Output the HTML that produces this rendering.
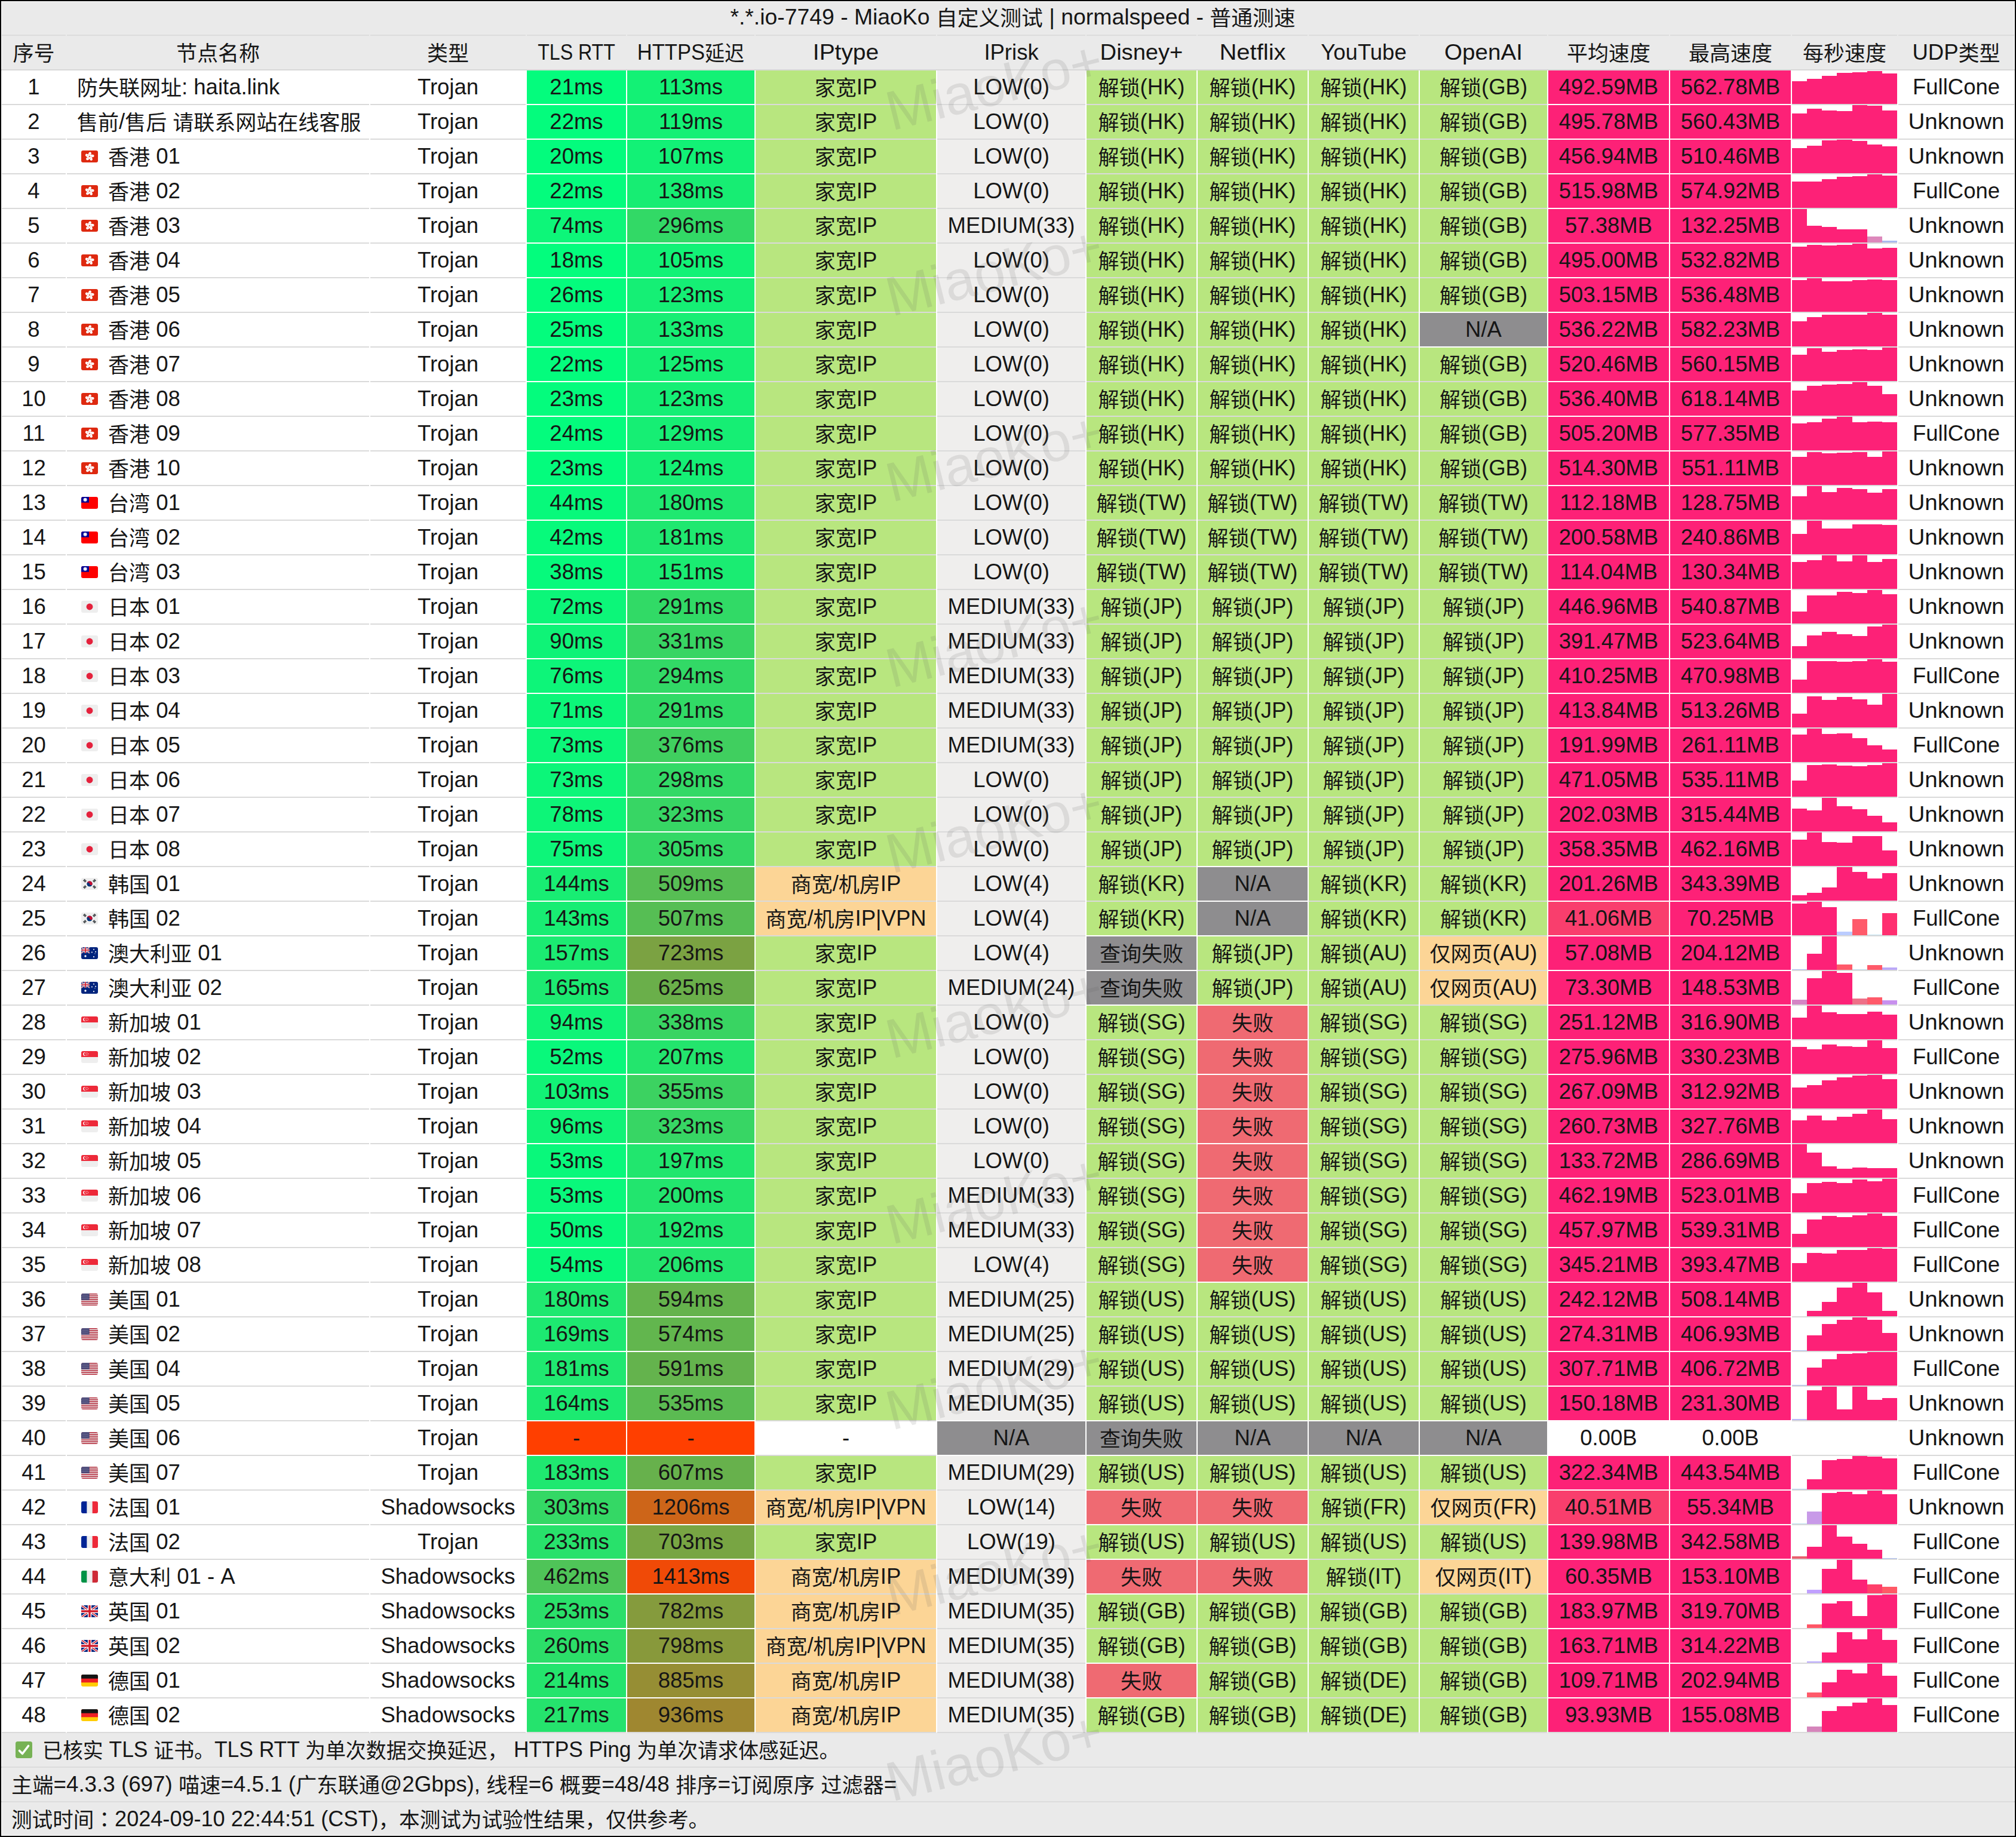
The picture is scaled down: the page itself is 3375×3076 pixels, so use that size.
<!DOCTYPE html>
<html><head><meta charset="utf-8"><title>MiaoKo</title>
<style>
html,body{margin:0;padding:0;}
body{width:3375px;height:3076px;position:relative;overflow:hidden;background:#000;}
#pg{position:absolute;left:2px;top:2px;width:3371px;height:3072px;background:#fff;}
.b,.t,.fl,.ck,.wm{position:absolute;}
.t{height:58px;line-height:58px;font-family:"Liberation Sans","Noto Sans CJK SC",sans-serif;font-size:36.5px;color:#161616;text-align:center;white-space:nowrap;}
.t.l{text-align:left;}
.t i{font-style:normal;font-family:"Noto Sans CJK SC","Liberation Sans",sans-serif;font-size:35px;line-height:1;position:relative;top:1.5px;}
.t i.j{font-family:"Noto Sans CJK JP","Noto Sans CJK SC",sans-serif;}
.fl{width:28px;height:20px;border-radius:3px;overflow:hidden;line-height:0;}
.ck{width:28px;height:28px;line-height:0;}
.wm{font-family:"Liberation Sans",sans-serif;font-size:93px;line-height:93px;height:93px;color:rgba(90,90,90,0.135);white-space:nowrap;transform-origin:0 78.7px;transform:rotate(-14deg);}
</style></head><body><div id="pg"></div>
<div class="b" style="left:2px;top:2px;width:3371px;height:115px;background:#EAEAEA"></div>
<div class="b" style="left:2px;top:2901px;width:3371px;height:173px;background:#EAEAEA"></div>
<div class="b" style="left:2px;top:2px;width:3371px;height:1px;background:#FFFFFF"></div>
<div class="b" style="left:2px;top:2px;width:1px;height:3072px;background:#FFFFFF"></div>
<div class="b" style="left:3372px;top:2px;width:1px;height:3072px;background:#FFFFFF"></div>
<div class="b" style="left:2px;top:3073px;width:3371px;height:1px;background:#FFFFFF"></div>
<div class="b" style="left:3px;top:58px;width:107px;height:2px;background:#DCDCDC"></div>
<div class="b" style="left:112px;top:58px;width:506px;height:2px;background:#DCDCDC"></div>
<div class="b" style="left:620px;top:58px;width:260px;height:2px;background:#DCDCDC"></div>
<div class="b" style="left:882px;top:58px;width:166px;height:2px;background:#DCDCDC"></div>
<div class="b" style="left:1050px;top:58px;width:213px;height:2px;background:#DCDCDC"></div>
<div class="b" style="left:1265px;top:58px;width:302px;height:2px;background:#DCDCDC"></div>
<div class="b" style="left:1569px;top:58px;width:248px;height:2px;background:#DCDCDC"></div>
<div class="b" style="left:1819px;top:58px;width:184px;height:2px;background:#DCDCDC"></div>
<div class="b" style="left:2005px;top:58px;width:184px;height:2px;background:#DCDCDC"></div>
<div class="b" style="left:2191px;top:58px;width:184px;height:2px;background:#DCDCDC"></div>
<div class="b" style="left:2377px;top:58px;width:213px;height:2px;background:#DCDCDC"></div>
<div class="b" style="left:2592px;top:58px;width:202px;height:2px;background:#DCDCDC"></div>
<div class="b" style="left:2796px;top:58px;width:202px;height:2px;background:#DCDCDC"></div>
<div class="b" style="left:3000px;top:58px;width:176px;height:2px;background:#DCDCDC"></div>
<div class="b" style="left:3178px;top:58px;width:194px;height:2px;background:#DCDCDC"></div>
<div class="b" style="left:2px;top:116px;width:3371px;height:2px;background:#D8D8D8"></div>
<div class="b" style="left:3px;top:174px;width:107px;height:2px;background:#DADADA"></div>
<div class="b" style="left:112px;top:174px;width:506px;height:2px;background:#DADADA"></div>
<div class="b" style="left:620px;top:174px;width:260px;height:2px;background:#DADADA"></div>
<div class="b" style="left:882px;top:174px;width:166px;height:2px;background:#DADADA"></div>
<div class="b" style="left:1050px;top:174px;width:213px;height:2px;background:#DADADA"></div>
<div class="b" style="left:1265px;top:174px;width:302px;height:2px;background:#DADADA"></div>
<div class="b" style="left:1569px;top:174px;width:248px;height:2px;background:#DADADA"></div>
<div class="b" style="left:1819px;top:174px;width:184px;height:2px;background:#DADADA"></div>
<div class="b" style="left:2005px;top:174px;width:184px;height:2px;background:#DADADA"></div>
<div class="b" style="left:2191px;top:174px;width:184px;height:2px;background:#DADADA"></div>
<div class="b" style="left:2377px;top:174px;width:213px;height:2px;background:#DADADA"></div>
<div class="b" style="left:2592px;top:174px;width:202px;height:2px;background:#DADADA"></div>
<div class="b" style="left:2796px;top:174px;width:202px;height:2px;background:#DADADA"></div>
<div class="b" style="left:3000px;top:174px;width:176px;height:2px;background:#DADADA"></div>
<div class="b" style="left:3178px;top:174px;width:194px;height:2px;background:#DADADA"></div>
<div class="b" style="left:3px;top:232px;width:107px;height:2px;background:#DADADA"></div>
<div class="b" style="left:112px;top:232px;width:506px;height:2px;background:#DADADA"></div>
<div class="b" style="left:620px;top:232px;width:260px;height:2px;background:#DADADA"></div>
<div class="b" style="left:882px;top:232px;width:166px;height:2px;background:#DADADA"></div>
<div class="b" style="left:1050px;top:232px;width:213px;height:2px;background:#DADADA"></div>
<div class="b" style="left:1265px;top:232px;width:302px;height:2px;background:#DADADA"></div>
<div class="b" style="left:1569px;top:232px;width:248px;height:2px;background:#DADADA"></div>
<div class="b" style="left:1819px;top:232px;width:184px;height:2px;background:#DADADA"></div>
<div class="b" style="left:2005px;top:232px;width:184px;height:2px;background:#DADADA"></div>
<div class="b" style="left:2191px;top:232px;width:184px;height:2px;background:#DADADA"></div>
<div class="b" style="left:2377px;top:232px;width:213px;height:2px;background:#DADADA"></div>
<div class="b" style="left:2592px;top:232px;width:202px;height:2px;background:#DADADA"></div>
<div class="b" style="left:2796px;top:232px;width:202px;height:2px;background:#DADADA"></div>
<div class="b" style="left:3000px;top:232px;width:176px;height:2px;background:#DADADA"></div>
<div class="b" style="left:3178px;top:232px;width:194px;height:2px;background:#DADADA"></div>
<div class="b" style="left:3px;top:290px;width:107px;height:2px;background:#DADADA"></div>
<div class="b" style="left:112px;top:290px;width:506px;height:2px;background:#DADADA"></div>
<div class="b" style="left:620px;top:290px;width:260px;height:2px;background:#DADADA"></div>
<div class="b" style="left:882px;top:290px;width:166px;height:2px;background:#DADADA"></div>
<div class="b" style="left:1050px;top:290px;width:213px;height:2px;background:#DADADA"></div>
<div class="b" style="left:1265px;top:290px;width:302px;height:2px;background:#DADADA"></div>
<div class="b" style="left:1569px;top:290px;width:248px;height:2px;background:#DADADA"></div>
<div class="b" style="left:1819px;top:290px;width:184px;height:2px;background:#DADADA"></div>
<div class="b" style="left:2005px;top:290px;width:184px;height:2px;background:#DADADA"></div>
<div class="b" style="left:2191px;top:290px;width:184px;height:2px;background:#DADADA"></div>
<div class="b" style="left:2377px;top:290px;width:213px;height:2px;background:#DADADA"></div>
<div class="b" style="left:2592px;top:290px;width:202px;height:2px;background:#DADADA"></div>
<div class="b" style="left:2796px;top:290px;width:202px;height:2px;background:#DADADA"></div>
<div class="b" style="left:3000px;top:290px;width:176px;height:2px;background:#DADADA"></div>
<div class="b" style="left:3178px;top:290px;width:194px;height:2px;background:#DADADA"></div>
<div class="b" style="left:3px;top:348px;width:107px;height:2px;background:#DADADA"></div>
<div class="b" style="left:112px;top:348px;width:506px;height:2px;background:#DADADA"></div>
<div class="b" style="left:620px;top:348px;width:260px;height:2px;background:#DADADA"></div>
<div class="b" style="left:882px;top:348px;width:166px;height:2px;background:#DADADA"></div>
<div class="b" style="left:1050px;top:348px;width:213px;height:2px;background:#DADADA"></div>
<div class="b" style="left:1265px;top:348px;width:302px;height:2px;background:#DADADA"></div>
<div class="b" style="left:1569px;top:348px;width:248px;height:2px;background:#DADADA"></div>
<div class="b" style="left:1819px;top:348px;width:184px;height:2px;background:#DADADA"></div>
<div class="b" style="left:2005px;top:348px;width:184px;height:2px;background:#DADADA"></div>
<div class="b" style="left:2191px;top:348px;width:184px;height:2px;background:#DADADA"></div>
<div class="b" style="left:2377px;top:348px;width:213px;height:2px;background:#DADADA"></div>
<div class="b" style="left:2592px;top:348px;width:202px;height:2px;background:#DADADA"></div>
<div class="b" style="left:2796px;top:348px;width:202px;height:2px;background:#DADADA"></div>
<div class="b" style="left:3000px;top:348px;width:176px;height:2px;background:#DADADA"></div>
<div class="b" style="left:3178px;top:348px;width:194px;height:2px;background:#DADADA"></div>
<div class="b" style="left:3px;top:406px;width:107px;height:2px;background:#DADADA"></div>
<div class="b" style="left:112px;top:406px;width:506px;height:2px;background:#DADADA"></div>
<div class="b" style="left:620px;top:406px;width:260px;height:2px;background:#DADADA"></div>
<div class="b" style="left:882px;top:406px;width:166px;height:2px;background:#DADADA"></div>
<div class="b" style="left:1050px;top:406px;width:213px;height:2px;background:#DADADA"></div>
<div class="b" style="left:1265px;top:406px;width:302px;height:2px;background:#DADADA"></div>
<div class="b" style="left:1569px;top:406px;width:248px;height:2px;background:#DADADA"></div>
<div class="b" style="left:1819px;top:406px;width:184px;height:2px;background:#DADADA"></div>
<div class="b" style="left:2005px;top:406px;width:184px;height:2px;background:#DADADA"></div>
<div class="b" style="left:2191px;top:406px;width:184px;height:2px;background:#DADADA"></div>
<div class="b" style="left:2377px;top:406px;width:213px;height:2px;background:#DADADA"></div>
<div class="b" style="left:2592px;top:406px;width:202px;height:2px;background:#DADADA"></div>
<div class="b" style="left:2796px;top:406px;width:202px;height:2px;background:#DADADA"></div>
<div class="b" style="left:3000px;top:406px;width:176px;height:2px;background:#DADADA"></div>
<div class="b" style="left:3178px;top:406px;width:194px;height:2px;background:#DADADA"></div>
<div class="b" style="left:3px;top:464px;width:107px;height:2px;background:#DADADA"></div>
<div class="b" style="left:112px;top:464px;width:506px;height:2px;background:#DADADA"></div>
<div class="b" style="left:620px;top:464px;width:260px;height:2px;background:#DADADA"></div>
<div class="b" style="left:882px;top:464px;width:166px;height:2px;background:#DADADA"></div>
<div class="b" style="left:1050px;top:464px;width:213px;height:2px;background:#DADADA"></div>
<div class="b" style="left:1265px;top:464px;width:302px;height:2px;background:#DADADA"></div>
<div class="b" style="left:1569px;top:464px;width:248px;height:2px;background:#DADADA"></div>
<div class="b" style="left:1819px;top:464px;width:184px;height:2px;background:#DADADA"></div>
<div class="b" style="left:2005px;top:464px;width:184px;height:2px;background:#DADADA"></div>
<div class="b" style="left:2191px;top:464px;width:184px;height:2px;background:#DADADA"></div>
<div class="b" style="left:2377px;top:464px;width:213px;height:2px;background:#DADADA"></div>
<div class="b" style="left:2592px;top:464px;width:202px;height:2px;background:#DADADA"></div>
<div class="b" style="left:2796px;top:464px;width:202px;height:2px;background:#DADADA"></div>
<div class="b" style="left:3000px;top:464px;width:176px;height:2px;background:#DADADA"></div>
<div class="b" style="left:3178px;top:464px;width:194px;height:2px;background:#DADADA"></div>
<div class="b" style="left:3px;top:522px;width:107px;height:2px;background:#DADADA"></div>
<div class="b" style="left:112px;top:522px;width:506px;height:2px;background:#DADADA"></div>
<div class="b" style="left:620px;top:522px;width:260px;height:2px;background:#DADADA"></div>
<div class="b" style="left:882px;top:522px;width:166px;height:2px;background:#DADADA"></div>
<div class="b" style="left:1050px;top:522px;width:213px;height:2px;background:#DADADA"></div>
<div class="b" style="left:1265px;top:522px;width:302px;height:2px;background:#DADADA"></div>
<div class="b" style="left:1569px;top:522px;width:248px;height:2px;background:#DADADA"></div>
<div class="b" style="left:1819px;top:522px;width:184px;height:2px;background:#DADADA"></div>
<div class="b" style="left:2005px;top:522px;width:184px;height:2px;background:#DADADA"></div>
<div class="b" style="left:2191px;top:522px;width:184px;height:2px;background:#DADADA"></div>
<div class="b" style="left:2377px;top:522px;width:213px;height:2px;background:#DADADA"></div>
<div class="b" style="left:2592px;top:522px;width:202px;height:2px;background:#DADADA"></div>
<div class="b" style="left:2796px;top:522px;width:202px;height:2px;background:#DADADA"></div>
<div class="b" style="left:3000px;top:522px;width:176px;height:2px;background:#DADADA"></div>
<div class="b" style="left:3178px;top:522px;width:194px;height:2px;background:#DADADA"></div>
<div class="b" style="left:3px;top:580px;width:107px;height:2px;background:#DADADA"></div>
<div class="b" style="left:112px;top:580px;width:506px;height:2px;background:#DADADA"></div>
<div class="b" style="left:620px;top:580px;width:260px;height:2px;background:#DADADA"></div>
<div class="b" style="left:882px;top:580px;width:166px;height:2px;background:#DADADA"></div>
<div class="b" style="left:1050px;top:580px;width:213px;height:2px;background:#DADADA"></div>
<div class="b" style="left:1265px;top:580px;width:302px;height:2px;background:#DADADA"></div>
<div class="b" style="left:1569px;top:580px;width:248px;height:2px;background:#DADADA"></div>
<div class="b" style="left:1819px;top:580px;width:184px;height:2px;background:#DADADA"></div>
<div class="b" style="left:2005px;top:580px;width:184px;height:2px;background:#DADADA"></div>
<div class="b" style="left:2191px;top:580px;width:184px;height:2px;background:#DADADA"></div>
<div class="b" style="left:2377px;top:580px;width:213px;height:2px;background:#DADADA"></div>
<div class="b" style="left:2592px;top:580px;width:202px;height:2px;background:#DADADA"></div>
<div class="b" style="left:2796px;top:580px;width:202px;height:2px;background:#DADADA"></div>
<div class="b" style="left:3000px;top:580px;width:176px;height:2px;background:#DADADA"></div>
<div class="b" style="left:3178px;top:580px;width:194px;height:2px;background:#DADADA"></div>
<div class="b" style="left:3px;top:638px;width:107px;height:2px;background:#DADADA"></div>
<div class="b" style="left:112px;top:638px;width:506px;height:2px;background:#DADADA"></div>
<div class="b" style="left:620px;top:638px;width:260px;height:2px;background:#DADADA"></div>
<div class="b" style="left:882px;top:638px;width:166px;height:2px;background:#DADADA"></div>
<div class="b" style="left:1050px;top:638px;width:213px;height:2px;background:#DADADA"></div>
<div class="b" style="left:1265px;top:638px;width:302px;height:2px;background:#DADADA"></div>
<div class="b" style="left:1569px;top:638px;width:248px;height:2px;background:#DADADA"></div>
<div class="b" style="left:1819px;top:638px;width:184px;height:2px;background:#DADADA"></div>
<div class="b" style="left:2005px;top:638px;width:184px;height:2px;background:#DADADA"></div>
<div class="b" style="left:2191px;top:638px;width:184px;height:2px;background:#DADADA"></div>
<div class="b" style="left:2377px;top:638px;width:213px;height:2px;background:#DADADA"></div>
<div class="b" style="left:2592px;top:638px;width:202px;height:2px;background:#DADADA"></div>
<div class="b" style="left:2796px;top:638px;width:202px;height:2px;background:#DADADA"></div>
<div class="b" style="left:3000px;top:638px;width:176px;height:2px;background:#DADADA"></div>
<div class="b" style="left:3178px;top:638px;width:194px;height:2px;background:#DADADA"></div>
<div class="b" style="left:3px;top:696px;width:107px;height:2px;background:#DADADA"></div>
<div class="b" style="left:112px;top:696px;width:506px;height:2px;background:#DADADA"></div>
<div class="b" style="left:620px;top:696px;width:260px;height:2px;background:#DADADA"></div>
<div class="b" style="left:882px;top:696px;width:166px;height:2px;background:#DADADA"></div>
<div class="b" style="left:1050px;top:696px;width:213px;height:2px;background:#DADADA"></div>
<div class="b" style="left:1265px;top:696px;width:302px;height:2px;background:#DADADA"></div>
<div class="b" style="left:1569px;top:696px;width:248px;height:2px;background:#DADADA"></div>
<div class="b" style="left:1819px;top:696px;width:184px;height:2px;background:#DADADA"></div>
<div class="b" style="left:2005px;top:696px;width:184px;height:2px;background:#DADADA"></div>
<div class="b" style="left:2191px;top:696px;width:184px;height:2px;background:#DADADA"></div>
<div class="b" style="left:2377px;top:696px;width:213px;height:2px;background:#DADADA"></div>
<div class="b" style="left:2592px;top:696px;width:202px;height:2px;background:#DADADA"></div>
<div class="b" style="left:2796px;top:696px;width:202px;height:2px;background:#DADADA"></div>
<div class="b" style="left:3000px;top:696px;width:176px;height:2px;background:#DADADA"></div>
<div class="b" style="left:3178px;top:696px;width:194px;height:2px;background:#DADADA"></div>
<div class="b" style="left:3px;top:754px;width:107px;height:2px;background:#DADADA"></div>
<div class="b" style="left:112px;top:754px;width:506px;height:2px;background:#DADADA"></div>
<div class="b" style="left:620px;top:754px;width:260px;height:2px;background:#DADADA"></div>
<div class="b" style="left:882px;top:754px;width:166px;height:2px;background:#DADADA"></div>
<div class="b" style="left:1050px;top:754px;width:213px;height:2px;background:#DADADA"></div>
<div class="b" style="left:1265px;top:754px;width:302px;height:2px;background:#DADADA"></div>
<div class="b" style="left:1569px;top:754px;width:248px;height:2px;background:#DADADA"></div>
<div class="b" style="left:1819px;top:754px;width:184px;height:2px;background:#DADADA"></div>
<div class="b" style="left:2005px;top:754px;width:184px;height:2px;background:#DADADA"></div>
<div class="b" style="left:2191px;top:754px;width:184px;height:2px;background:#DADADA"></div>
<div class="b" style="left:2377px;top:754px;width:213px;height:2px;background:#DADADA"></div>
<div class="b" style="left:2592px;top:754px;width:202px;height:2px;background:#DADADA"></div>
<div class="b" style="left:2796px;top:754px;width:202px;height:2px;background:#DADADA"></div>
<div class="b" style="left:3000px;top:754px;width:176px;height:2px;background:#DADADA"></div>
<div class="b" style="left:3178px;top:754px;width:194px;height:2px;background:#DADADA"></div>
<div class="b" style="left:3px;top:812px;width:107px;height:2px;background:#DADADA"></div>
<div class="b" style="left:112px;top:812px;width:506px;height:2px;background:#DADADA"></div>
<div class="b" style="left:620px;top:812px;width:260px;height:2px;background:#DADADA"></div>
<div class="b" style="left:882px;top:812px;width:166px;height:2px;background:#DADADA"></div>
<div class="b" style="left:1050px;top:812px;width:213px;height:2px;background:#DADADA"></div>
<div class="b" style="left:1265px;top:812px;width:302px;height:2px;background:#DADADA"></div>
<div class="b" style="left:1569px;top:812px;width:248px;height:2px;background:#DADADA"></div>
<div class="b" style="left:1819px;top:812px;width:184px;height:2px;background:#DADADA"></div>
<div class="b" style="left:2005px;top:812px;width:184px;height:2px;background:#DADADA"></div>
<div class="b" style="left:2191px;top:812px;width:184px;height:2px;background:#DADADA"></div>
<div class="b" style="left:2377px;top:812px;width:213px;height:2px;background:#DADADA"></div>
<div class="b" style="left:2592px;top:812px;width:202px;height:2px;background:#DADADA"></div>
<div class="b" style="left:2796px;top:812px;width:202px;height:2px;background:#DADADA"></div>
<div class="b" style="left:3000px;top:812px;width:176px;height:2px;background:#DADADA"></div>
<div class="b" style="left:3178px;top:812px;width:194px;height:2px;background:#DADADA"></div>
<div class="b" style="left:3px;top:870px;width:107px;height:2px;background:#DADADA"></div>
<div class="b" style="left:112px;top:870px;width:506px;height:2px;background:#DADADA"></div>
<div class="b" style="left:620px;top:870px;width:260px;height:2px;background:#DADADA"></div>
<div class="b" style="left:882px;top:870px;width:166px;height:2px;background:#DADADA"></div>
<div class="b" style="left:1050px;top:870px;width:213px;height:2px;background:#DADADA"></div>
<div class="b" style="left:1265px;top:870px;width:302px;height:2px;background:#DADADA"></div>
<div class="b" style="left:1569px;top:870px;width:248px;height:2px;background:#DADADA"></div>
<div class="b" style="left:1819px;top:870px;width:184px;height:2px;background:#DADADA"></div>
<div class="b" style="left:2005px;top:870px;width:184px;height:2px;background:#DADADA"></div>
<div class="b" style="left:2191px;top:870px;width:184px;height:2px;background:#DADADA"></div>
<div class="b" style="left:2377px;top:870px;width:213px;height:2px;background:#DADADA"></div>
<div class="b" style="left:2592px;top:870px;width:202px;height:2px;background:#DADADA"></div>
<div class="b" style="left:2796px;top:870px;width:202px;height:2px;background:#DADADA"></div>
<div class="b" style="left:3000px;top:870px;width:176px;height:2px;background:#DADADA"></div>
<div class="b" style="left:3178px;top:870px;width:194px;height:2px;background:#DADADA"></div>
<div class="b" style="left:3px;top:928px;width:107px;height:2px;background:#DADADA"></div>
<div class="b" style="left:112px;top:928px;width:506px;height:2px;background:#DADADA"></div>
<div class="b" style="left:620px;top:928px;width:260px;height:2px;background:#DADADA"></div>
<div class="b" style="left:882px;top:928px;width:166px;height:2px;background:#DADADA"></div>
<div class="b" style="left:1050px;top:928px;width:213px;height:2px;background:#DADADA"></div>
<div class="b" style="left:1265px;top:928px;width:302px;height:2px;background:#DADADA"></div>
<div class="b" style="left:1569px;top:928px;width:248px;height:2px;background:#DADADA"></div>
<div class="b" style="left:1819px;top:928px;width:184px;height:2px;background:#DADADA"></div>
<div class="b" style="left:2005px;top:928px;width:184px;height:2px;background:#DADADA"></div>
<div class="b" style="left:2191px;top:928px;width:184px;height:2px;background:#DADADA"></div>
<div class="b" style="left:2377px;top:928px;width:213px;height:2px;background:#DADADA"></div>
<div class="b" style="left:2592px;top:928px;width:202px;height:2px;background:#DADADA"></div>
<div class="b" style="left:2796px;top:928px;width:202px;height:2px;background:#DADADA"></div>
<div class="b" style="left:3000px;top:928px;width:176px;height:2px;background:#DADADA"></div>
<div class="b" style="left:3178px;top:928px;width:194px;height:2px;background:#DADADA"></div>
<div class="b" style="left:3px;top:986px;width:107px;height:2px;background:#DADADA"></div>
<div class="b" style="left:112px;top:986px;width:506px;height:2px;background:#DADADA"></div>
<div class="b" style="left:620px;top:986px;width:260px;height:2px;background:#DADADA"></div>
<div class="b" style="left:882px;top:986px;width:166px;height:2px;background:#DADADA"></div>
<div class="b" style="left:1050px;top:986px;width:213px;height:2px;background:#DADADA"></div>
<div class="b" style="left:1265px;top:986px;width:302px;height:2px;background:#DADADA"></div>
<div class="b" style="left:1569px;top:986px;width:248px;height:2px;background:#DADADA"></div>
<div class="b" style="left:1819px;top:986px;width:184px;height:2px;background:#DADADA"></div>
<div class="b" style="left:2005px;top:986px;width:184px;height:2px;background:#DADADA"></div>
<div class="b" style="left:2191px;top:986px;width:184px;height:2px;background:#DADADA"></div>
<div class="b" style="left:2377px;top:986px;width:213px;height:2px;background:#DADADA"></div>
<div class="b" style="left:2592px;top:986px;width:202px;height:2px;background:#DADADA"></div>
<div class="b" style="left:2796px;top:986px;width:202px;height:2px;background:#DADADA"></div>
<div class="b" style="left:3000px;top:986px;width:176px;height:2px;background:#DADADA"></div>
<div class="b" style="left:3178px;top:986px;width:194px;height:2px;background:#DADADA"></div>
<div class="b" style="left:3px;top:1044px;width:107px;height:2px;background:#DADADA"></div>
<div class="b" style="left:112px;top:1044px;width:506px;height:2px;background:#DADADA"></div>
<div class="b" style="left:620px;top:1044px;width:260px;height:2px;background:#DADADA"></div>
<div class="b" style="left:882px;top:1044px;width:166px;height:2px;background:#DADADA"></div>
<div class="b" style="left:1050px;top:1044px;width:213px;height:2px;background:#DADADA"></div>
<div class="b" style="left:1265px;top:1044px;width:302px;height:2px;background:#DADADA"></div>
<div class="b" style="left:1569px;top:1044px;width:248px;height:2px;background:#DADADA"></div>
<div class="b" style="left:1819px;top:1044px;width:184px;height:2px;background:#DADADA"></div>
<div class="b" style="left:2005px;top:1044px;width:184px;height:2px;background:#DADADA"></div>
<div class="b" style="left:2191px;top:1044px;width:184px;height:2px;background:#DADADA"></div>
<div class="b" style="left:2377px;top:1044px;width:213px;height:2px;background:#DADADA"></div>
<div class="b" style="left:2592px;top:1044px;width:202px;height:2px;background:#DADADA"></div>
<div class="b" style="left:2796px;top:1044px;width:202px;height:2px;background:#DADADA"></div>
<div class="b" style="left:3000px;top:1044px;width:176px;height:2px;background:#DADADA"></div>
<div class="b" style="left:3178px;top:1044px;width:194px;height:2px;background:#DADADA"></div>
<div class="b" style="left:3px;top:1102px;width:107px;height:2px;background:#DADADA"></div>
<div class="b" style="left:112px;top:1102px;width:506px;height:2px;background:#DADADA"></div>
<div class="b" style="left:620px;top:1102px;width:260px;height:2px;background:#DADADA"></div>
<div class="b" style="left:882px;top:1102px;width:166px;height:2px;background:#DADADA"></div>
<div class="b" style="left:1050px;top:1102px;width:213px;height:2px;background:#DADADA"></div>
<div class="b" style="left:1265px;top:1102px;width:302px;height:2px;background:#DADADA"></div>
<div class="b" style="left:1569px;top:1102px;width:248px;height:2px;background:#DADADA"></div>
<div class="b" style="left:1819px;top:1102px;width:184px;height:2px;background:#DADADA"></div>
<div class="b" style="left:2005px;top:1102px;width:184px;height:2px;background:#DADADA"></div>
<div class="b" style="left:2191px;top:1102px;width:184px;height:2px;background:#DADADA"></div>
<div class="b" style="left:2377px;top:1102px;width:213px;height:2px;background:#DADADA"></div>
<div class="b" style="left:2592px;top:1102px;width:202px;height:2px;background:#DADADA"></div>
<div class="b" style="left:2796px;top:1102px;width:202px;height:2px;background:#DADADA"></div>
<div class="b" style="left:3000px;top:1102px;width:176px;height:2px;background:#DADADA"></div>
<div class="b" style="left:3178px;top:1102px;width:194px;height:2px;background:#DADADA"></div>
<div class="b" style="left:3px;top:1160px;width:107px;height:2px;background:#DADADA"></div>
<div class="b" style="left:112px;top:1160px;width:506px;height:2px;background:#DADADA"></div>
<div class="b" style="left:620px;top:1160px;width:260px;height:2px;background:#DADADA"></div>
<div class="b" style="left:882px;top:1160px;width:166px;height:2px;background:#DADADA"></div>
<div class="b" style="left:1050px;top:1160px;width:213px;height:2px;background:#DADADA"></div>
<div class="b" style="left:1265px;top:1160px;width:302px;height:2px;background:#DADADA"></div>
<div class="b" style="left:1569px;top:1160px;width:248px;height:2px;background:#DADADA"></div>
<div class="b" style="left:1819px;top:1160px;width:184px;height:2px;background:#DADADA"></div>
<div class="b" style="left:2005px;top:1160px;width:184px;height:2px;background:#DADADA"></div>
<div class="b" style="left:2191px;top:1160px;width:184px;height:2px;background:#DADADA"></div>
<div class="b" style="left:2377px;top:1160px;width:213px;height:2px;background:#DADADA"></div>
<div class="b" style="left:2592px;top:1160px;width:202px;height:2px;background:#DADADA"></div>
<div class="b" style="left:2796px;top:1160px;width:202px;height:2px;background:#DADADA"></div>
<div class="b" style="left:3000px;top:1160px;width:176px;height:2px;background:#DADADA"></div>
<div class="b" style="left:3178px;top:1160px;width:194px;height:2px;background:#DADADA"></div>
<div class="b" style="left:3px;top:1218px;width:107px;height:2px;background:#DADADA"></div>
<div class="b" style="left:112px;top:1218px;width:506px;height:2px;background:#DADADA"></div>
<div class="b" style="left:620px;top:1218px;width:260px;height:2px;background:#DADADA"></div>
<div class="b" style="left:882px;top:1218px;width:166px;height:2px;background:#DADADA"></div>
<div class="b" style="left:1050px;top:1218px;width:213px;height:2px;background:#DADADA"></div>
<div class="b" style="left:1265px;top:1218px;width:302px;height:2px;background:#DADADA"></div>
<div class="b" style="left:1569px;top:1218px;width:248px;height:2px;background:#DADADA"></div>
<div class="b" style="left:1819px;top:1218px;width:184px;height:2px;background:#DADADA"></div>
<div class="b" style="left:2005px;top:1218px;width:184px;height:2px;background:#DADADA"></div>
<div class="b" style="left:2191px;top:1218px;width:184px;height:2px;background:#DADADA"></div>
<div class="b" style="left:2377px;top:1218px;width:213px;height:2px;background:#DADADA"></div>
<div class="b" style="left:2592px;top:1218px;width:202px;height:2px;background:#DADADA"></div>
<div class="b" style="left:2796px;top:1218px;width:202px;height:2px;background:#DADADA"></div>
<div class="b" style="left:3000px;top:1218px;width:176px;height:2px;background:#DADADA"></div>
<div class="b" style="left:3178px;top:1218px;width:194px;height:2px;background:#DADADA"></div>
<div class="b" style="left:3px;top:1276px;width:107px;height:2px;background:#DADADA"></div>
<div class="b" style="left:112px;top:1276px;width:506px;height:2px;background:#DADADA"></div>
<div class="b" style="left:620px;top:1276px;width:260px;height:2px;background:#DADADA"></div>
<div class="b" style="left:882px;top:1276px;width:166px;height:2px;background:#DADADA"></div>
<div class="b" style="left:1050px;top:1276px;width:213px;height:2px;background:#DADADA"></div>
<div class="b" style="left:1265px;top:1276px;width:302px;height:2px;background:#DADADA"></div>
<div class="b" style="left:1569px;top:1276px;width:248px;height:2px;background:#DADADA"></div>
<div class="b" style="left:1819px;top:1276px;width:184px;height:2px;background:#DADADA"></div>
<div class="b" style="left:2005px;top:1276px;width:184px;height:2px;background:#DADADA"></div>
<div class="b" style="left:2191px;top:1276px;width:184px;height:2px;background:#DADADA"></div>
<div class="b" style="left:2377px;top:1276px;width:213px;height:2px;background:#DADADA"></div>
<div class="b" style="left:2592px;top:1276px;width:202px;height:2px;background:#DADADA"></div>
<div class="b" style="left:2796px;top:1276px;width:202px;height:2px;background:#DADADA"></div>
<div class="b" style="left:3000px;top:1276px;width:176px;height:2px;background:#DADADA"></div>
<div class="b" style="left:3178px;top:1276px;width:194px;height:2px;background:#DADADA"></div>
<div class="b" style="left:3px;top:1334px;width:107px;height:2px;background:#DADADA"></div>
<div class="b" style="left:112px;top:1334px;width:506px;height:2px;background:#DADADA"></div>
<div class="b" style="left:620px;top:1334px;width:260px;height:2px;background:#DADADA"></div>
<div class="b" style="left:882px;top:1334px;width:166px;height:2px;background:#DADADA"></div>
<div class="b" style="left:1050px;top:1334px;width:213px;height:2px;background:#DADADA"></div>
<div class="b" style="left:1265px;top:1334px;width:302px;height:2px;background:#DADADA"></div>
<div class="b" style="left:1569px;top:1334px;width:248px;height:2px;background:#DADADA"></div>
<div class="b" style="left:1819px;top:1334px;width:184px;height:2px;background:#DADADA"></div>
<div class="b" style="left:2005px;top:1334px;width:184px;height:2px;background:#DADADA"></div>
<div class="b" style="left:2191px;top:1334px;width:184px;height:2px;background:#DADADA"></div>
<div class="b" style="left:2377px;top:1334px;width:213px;height:2px;background:#DADADA"></div>
<div class="b" style="left:2592px;top:1334px;width:202px;height:2px;background:#DADADA"></div>
<div class="b" style="left:2796px;top:1334px;width:202px;height:2px;background:#DADADA"></div>
<div class="b" style="left:3000px;top:1334px;width:176px;height:2px;background:#DADADA"></div>
<div class="b" style="left:3178px;top:1334px;width:194px;height:2px;background:#DADADA"></div>
<div class="b" style="left:3px;top:1392px;width:107px;height:2px;background:#DADADA"></div>
<div class="b" style="left:112px;top:1392px;width:506px;height:2px;background:#DADADA"></div>
<div class="b" style="left:620px;top:1392px;width:260px;height:2px;background:#DADADA"></div>
<div class="b" style="left:882px;top:1392px;width:166px;height:2px;background:#DADADA"></div>
<div class="b" style="left:1050px;top:1392px;width:213px;height:2px;background:#DADADA"></div>
<div class="b" style="left:1265px;top:1392px;width:302px;height:2px;background:#DADADA"></div>
<div class="b" style="left:1569px;top:1392px;width:248px;height:2px;background:#DADADA"></div>
<div class="b" style="left:1819px;top:1392px;width:184px;height:2px;background:#DADADA"></div>
<div class="b" style="left:2005px;top:1392px;width:184px;height:2px;background:#DADADA"></div>
<div class="b" style="left:2191px;top:1392px;width:184px;height:2px;background:#DADADA"></div>
<div class="b" style="left:2377px;top:1392px;width:213px;height:2px;background:#DADADA"></div>
<div class="b" style="left:2592px;top:1392px;width:202px;height:2px;background:#DADADA"></div>
<div class="b" style="left:2796px;top:1392px;width:202px;height:2px;background:#DADADA"></div>
<div class="b" style="left:3000px;top:1392px;width:176px;height:2px;background:#DADADA"></div>
<div class="b" style="left:3178px;top:1392px;width:194px;height:2px;background:#DADADA"></div>
<div class="b" style="left:3px;top:1450px;width:107px;height:2px;background:#DADADA"></div>
<div class="b" style="left:112px;top:1450px;width:506px;height:2px;background:#DADADA"></div>
<div class="b" style="left:620px;top:1450px;width:260px;height:2px;background:#DADADA"></div>
<div class="b" style="left:882px;top:1450px;width:166px;height:2px;background:#DADADA"></div>
<div class="b" style="left:1050px;top:1450px;width:213px;height:2px;background:#DADADA"></div>
<div class="b" style="left:1265px;top:1450px;width:302px;height:2px;background:#DADADA"></div>
<div class="b" style="left:1569px;top:1450px;width:248px;height:2px;background:#DADADA"></div>
<div class="b" style="left:1819px;top:1450px;width:184px;height:2px;background:#DADADA"></div>
<div class="b" style="left:2005px;top:1450px;width:184px;height:2px;background:#DADADA"></div>
<div class="b" style="left:2191px;top:1450px;width:184px;height:2px;background:#DADADA"></div>
<div class="b" style="left:2377px;top:1450px;width:213px;height:2px;background:#DADADA"></div>
<div class="b" style="left:2592px;top:1450px;width:202px;height:2px;background:#DADADA"></div>
<div class="b" style="left:2796px;top:1450px;width:202px;height:2px;background:#DADADA"></div>
<div class="b" style="left:3000px;top:1450px;width:176px;height:2px;background:#DADADA"></div>
<div class="b" style="left:3178px;top:1450px;width:194px;height:2px;background:#DADADA"></div>
<div class="b" style="left:3px;top:1508px;width:107px;height:2px;background:#DADADA"></div>
<div class="b" style="left:112px;top:1508px;width:506px;height:2px;background:#DADADA"></div>
<div class="b" style="left:620px;top:1508px;width:260px;height:2px;background:#DADADA"></div>
<div class="b" style="left:882px;top:1508px;width:166px;height:2px;background:#DADADA"></div>
<div class="b" style="left:1050px;top:1508px;width:213px;height:2px;background:#DADADA"></div>
<div class="b" style="left:1265px;top:1508px;width:302px;height:2px;background:#DADADA"></div>
<div class="b" style="left:1569px;top:1508px;width:248px;height:2px;background:#DADADA"></div>
<div class="b" style="left:1819px;top:1508px;width:184px;height:2px;background:#DADADA"></div>
<div class="b" style="left:2005px;top:1508px;width:184px;height:2px;background:#DADADA"></div>
<div class="b" style="left:2191px;top:1508px;width:184px;height:2px;background:#DADADA"></div>
<div class="b" style="left:2377px;top:1508px;width:213px;height:2px;background:#DADADA"></div>
<div class="b" style="left:2592px;top:1508px;width:202px;height:2px;background:#DADADA"></div>
<div class="b" style="left:2796px;top:1508px;width:202px;height:2px;background:#DADADA"></div>
<div class="b" style="left:3000px;top:1508px;width:176px;height:2px;background:#DADADA"></div>
<div class="b" style="left:3178px;top:1508px;width:194px;height:2px;background:#DADADA"></div>
<div class="b" style="left:3px;top:1566px;width:107px;height:2px;background:#DADADA"></div>
<div class="b" style="left:112px;top:1566px;width:506px;height:2px;background:#DADADA"></div>
<div class="b" style="left:620px;top:1566px;width:260px;height:2px;background:#DADADA"></div>
<div class="b" style="left:882px;top:1566px;width:166px;height:2px;background:#DADADA"></div>
<div class="b" style="left:1050px;top:1566px;width:213px;height:2px;background:#DADADA"></div>
<div class="b" style="left:1265px;top:1566px;width:302px;height:2px;background:#DADADA"></div>
<div class="b" style="left:1569px;top:1566px;width:248px;height:2px;background:#DADADA"></div>
<div class="b" style="left:1819px;top:1566px;width:184px;height:2px;background:#DADADA"></div>
<div class="b" style="left:2005px;top:1566px;width:184px;height:2px;background:#DADADA"></div>
<div class="b" style="left:2191px;top:1566px;width:184px;height:2px;background:#DADADA"></div>
<div class="b" style="left:2377px;top:1566px;width:213px;height:2px;background:#DADADA"></div>
<div class="b" style="left:2592px;top:1566px;width:202px;height:2px;background:#DADADA"></div>
<div class="b" style="left:2796px;top:1566px;width:202px;height:2px;background:#DADADA"></div>
<div class="b" style="left:3000px;top:1566px;width:176px;height:2px;background:#DADADA"></div>
<div class="b" style="left:3178px;top:1566px;width:194px;height:2px;background:#DADADA"></div>
<div class="b" style="left:3px;top:1624px;width:107px;height:2px;background:#DADADA"></div>
<div class="b" style="left:112px;top:1624px;width:506px;height:2px;background:#DADADA"></div>
<div class="b" style="left:620px;top:1624px;width:260px;height:2px;background:#DADADA"></div>
<div class="b" style="left:882px;top:1624px;width:166px;height:2px;background:#DADADA"></div>
<div class="b" style="left:1050px;top:1624px;width:213px;height:2px;background:#DADADA"></div>
<div class="b" style="left:1265px;top:1624px;width:302px;height:2px;background:#DADADA"></div>
<div class="b" style="left:1569px;top:1624px;width:248px;height:2px;background:#DADADA"></div>
<div class="b" style="left:1819px;top:1624px;width:184px;height:2px;background:#DADADA"></div>
<div class="b" style="left:2005px;top:1624px;width:184px;height:2px;background:#DADADA"></div>
<div class="b" style="left:2191px;top:1624px;width:184px;height:2px;background:#DADADA"></div>
<div class="b" style="left:2377px;top:1624px;width:213px;height:2px;background:#DADADA"></div>
<div class="b" style="left:2592px;top:1624px;width:202px;height:2px;background:#DADADA"></div>
<div class="b" style="left:2796px;top:1624px;width:202px;height:2px;background:#DADADA"></div>
<div class="b" style="left:3000px;top:1624px;width:176px;height:2px;background:#DADADA"></div>
<div class="b" style="left:3178px;top:1624px;width:194px;height:2px;background:#DADADA"></div>
<div class="b" style="left:3px;top:1682px;width:107px;height:2px;background:#DADADA"></div>
<div class="b" style="left:112px;top:1682px;width:506px;height:2px;background:#DADADA"></div>
<div class="b" style="left:620px;top:1682px;width:260px;height:2px;background:#DADADA"></div>
<div class="b" style="left:882px;top:1682px;width:166px;height:2px;background:#DADADA"></div>
<div class="b" style="left:1050px;top:1682px;width:213px;height:2px;background:#DADADA"></div>
<div class="b" style="left:1265px;top:1682px;width:302px;height:2px;background:#DADADA"></div>
<div class="b" style="left:1569px;top:1682px;width:248px;height:2px;background:#DADADA"></div>
<div class="b" style="left:1819px;top:1682px;width:184px;height:2px;background:#DADADA"></div>
<div class="b" style="left:2005px;top:1682px;width:184px;height:2px;background:#DADADA"></div>
<div class="b" style="left:2191px;top:1682px;width:184px;height:2px;background:#DADADA"></div>
<div class="b" style="left:2377px;top:1682px;width:213px;height:2px;background:#DADADA"></div>
<div class="b" style="left:2592px;top:1682px;width:202px;height:2px;background:#DADADA"></div>
<div class="b" style="left:2796px;top:1682px;width:202px;height:2px;background:#DADADA"></div>
<div class="b" style="left:3000px;top:1682px;width:176px;height:2px;background:#DADADA"></div>
<div class="b" style="left:3178px;top:1682px;width:194px;height:2px;background:#DADADA"></div>
<div class="b" style="left:3px;top:1740px;width:107px;height:2px;background:#DADADA"></div>
<div class="b" style="left:112px;top:1740px;width:506px;height:2px;background:#DADADA"></div>
<div class="b" style="left:620px;top:1740px;width:260px;height:2px;background:#DADADA"></div>
<div class="b" style="left:882px;top:1740px;width:166px;height:2px;background:#DADADA"></div>
<div class="b" style="left:1050px;top:1740px;width:213px;height:2px;background:#DADADA"></div>
<div class="b" style="left:1265px;top:1740px;width:302px;height:2px;background:#DADADA"></div>
<div class="b" style="left:1569px;top:1740px;width:248px;height:2px;background:#DADADA"></div>
<div class="b" style="left:1819px;top:1740px;width:184px;height:2px;background:#DADADA"></div>
<div class="b" style="left:2005px;top:1740px;width:184px;height:2px;background:#DADADA"></div>
<div class="b" style="left:2191px;top:1740px;width:184px;height:2px;background:#DADADA"></div>
<div class="b" style="left:2377px;top:1740px;width:213px;height:2px;background:#DADADA"></div>
<div class="b" style="left:2592px;top:1740px;width:202px;height:2px;background:#DADADA"></div>
<div class="b" style="left:2796px;top:1740px;width:202px;height:2px;background:#DADADA"></div>
<div class="b" style="left:3000px;top:1740px;width:176px;height:2px;background:#DADADA"></div>
<div class="b" style="left:3178px;top:1740px;width:194px;height:2px;background:#DADADA"></div>
<div class="b" style="left:3px;top:1798px;width:107px;height:2px;background:#DADADA"></div>
<div class="b" style="left:112px;top:1798px;width:506px;height:2px;background:#DADADA"></div>
<div class="b" style="left:620px;top:1798px;width:260px;height:2px;background:#DADADA"></div>
<div class="b" style="left:882px;top:1798px;width:166px;height:2px;background:#DADADA"></div>
<div class="b" style="left:1050px;top:1798px;width:213px;height:2px;background:#DADADA"></div>
<div class="b" style="left:1265px;top:1798px;width:302px;height:2px;background:#DADADA"></div>
<div class="b" style="left:1569px;top:1798px;width:248px;height:2px;background:#DADADA"></div>
<div class="b" style="left:1819px;top:1798px;width:184px;height:2px;background:#DADADA"></div>
<div class="b" style="left:2005px;top:1798px;width:184px;height:2px;background:#DADADA"></div>
<div class="b" style="left:2191px;top:1798px;width:184px;height:2px;background:#DADADA"></div>
<div class="b" style="left:2377px;top:1798px;width:213px;height:2px;background:#DADADA"></div>
<div class="b" style="left:2592px;top:1798px;width:202px;height:2px;background:#DADADA"></div>
<div class="b" style="left:2796px;top:1798px;width:202px;height:2px;background:#DADADA"></div>
<div class="b" style="left:3000px;top:1798px;width:176px;height:2px;background:#DADADA"></div>
<div class="b" style="left:3178px;top:1798px;width:194px;height:2px;background:#DADADA"></div>
<div class="b" style="left:3px;top:1856px;width:107px;height:2px;background:#DADADA"></div>
<div class="b" style="left:112px;top:1856px;width:506px;height:2px;background:#DADADA"></div>
<div class="b" style="left:620px;top:1856px;width:260px;height:2px;background:#DADADA"></div>
<div class="b" style="left:882px;top:1856px;width:166px;height:2px;background:#DADADA"></div>
<div class="b" style="left:1050px;top:1856px;width:213px;height:2px;background:#DADADA"></div>
<div class="b" style="left:1265px;top:1856px;width:302px;height:2px;background:#DADADA"></div>
<div class="b" style="left:1569px;top:1856px;width:248px;height:2px;background:#DADADA"></div>
<div class="b" style="left:1819px;top:1856px;width:184px;height:2px;background:#DADADA"></div>
<div class="b" style="left:2005px;top:1856px;width:184px;height:2px;background:#DADADA"></div>
<div class="b" style="left:2191px;top:1856px;width:184px;height:2px;background:#DADADA"></div>
<div class="b" style="left:2377px;top:1856px;width:213px;height:2px;background:#DADADA"></div>
<div class="b" style="left:2592px;top:1856px;width:202px;height:2px;background:#DADADA"></div>
<div class="b" style="left:2796px;top:1856px;width:202px;height:2px;background:#DADADA"></div>
<div class="b" style="left:3000px;top:1856px;width:176px;height:2px;background:#DADADA"></div>
<div class="b" style="left:3178px;top:1856px;width:194px;height:2px;background:#DADADA"></div>
<div class="b" style="left:3px;top:1914px;width:107px;height:2px;background:#DADADA"></div>
<div class="b" style="left:112px;top:1914px;width:506px;height:2px;background:#DADADA"></div>
<div class="b" style="left:620px;top:1914px;width:260px;height:2px;background:#DADADA"></div>
<div class="b" style="left:882px;top:1914px;width:166px;height:2px;background:#DADADA"></div>
<div class="b" style="left:1050px;top:1914px;width:213px;height:2px;background:#DADADA"></div>
<div class="b" style="left:1265px;top:1914px;width:302px;height:2px;background:#DADADA"></div>
<div class="b" style="left:1569px;top:1914px;width:248px;height:2px;background:#DADADA"></div>
<div class="b" style="left:1819px;top:1914px;width:184px;height:2px;background:#DADADA"></div>
<div class="b" style="left:2005px;top:1914px;width:184px;height:2px;background:#DADADA"></div>
<div class="b" style="left:2191px;top:1914px;width:184px;height:2px;background:#DADADA"></div>
<div class="b" style="left:2377px;top:1914px;width:213px;height:2px;background:#DADADA"></div>
<div class="b" style="left:2592px;top:1914px;width:202px;height:2px;background:#DADADA"></div>
<div class="b" style="left:2796px;top:1914px;width:202px;height:2px;background:#DADADA"></div>
<div class="b" style="left:3000px;top:1914px;width:176px;height:2px;background:#DADADA"></div>
<div class="b" style="left:3178px;top:1914px;width:194px;height:2px;background:#DADADA"></div>
<div class="b" style="left:3px;top:1972px;width:107px;height:2px;background:#DADADA"></div>
<div class="b" style="left:112px;top:1972px;width:506px;height:2px;background:#DADADA"></div>
<div class="b" style="left:620px;top:1972px;width:260px;height:2px;background:#DADADA"></div>
<div class="b" style="left:882px;top:1972px;width:166px;height:2px;background:#DADADA"></div>
<div class="b" style="left:1050px;top:1972px;width:213px;height:2px;background:#DADADA"></div>
<div class="b" style="left:1265px;top:1972px;width:302px;height:2px;background:#DADADA"></div>
<div class="b" style="left:1569px;top:1972px;width:248px;height:2px;background:#DADADA"></div>
<div class="b" style="left:1819px;top:1972px;width:184px;height:2px;background:#DADADA"></div>
<div class="b" style="left:2005px;top:1972px;width:184px;height:2px;background:#DADADA"></div>
<div class="b" style="left:2191px;top:1972px;width:184px;height:2px;background:#DADADA"></div>
<div class="b" style="left:2377px;top:1972px;width:213px;height:2px;background:#DADADA"></div>
<div class="b" style="left:2592px;top:1972px;width:202px;height:2px;background:#DADADA"></div>
<div class="b" style="left:2796px;top:1972px;width:202px;height:2px;background:#DADADA"></div>
<div class="b" style="left:3000px;top:1972px;width:176px;height:2px;background:#DADADA"></div>
<div class="b" style="left:3178px;top:1972px;width:194px;height:2px;background:#DADADA"></div>
<div class="b" style="left:3px;top:2030px;width:107px;height:2px;background:#DADADA"></div>
<div class="b" style="left:112px;top:2030px;width:506px;height:2px;background:#DADADA"></div>
<div class="b" style="left:620px;top:2030px;width:260px;height:2px;background:#DADADA"></div>
<div class="b" style="left:882px;top:2030px;width:166px;height:2px;background:#DADADA"></div>
<div class="b" style="left:1050px;top:2030px;width:213px;height:2px;background:#DADADA"></div>
<div class="b" style="left:1265px;top:2030px;width:302px;height:2px;background:#DADADA"></div>
<div class="b" style="left:1569px;top:2030px;width:248px;height:2px;background:#DADADA"></div>
<div class="b" style="left:1819px;top:2030px;width:184px;height:2px;background:#DADADA"></div>
<div class="b" style="left:2005px;top:2030px;width:184px;height:2px;background:#DADADA"></div>
<div class="b" style="left:2191px;top:2030px;width:184px;height:2px;background:#DADADA"></div>
<div class="b" style="left:2377px;top:2030px;width:213px;height:2px;background:#DADADA"></div>
<div class="b" style="left:2592px;top:2030px;width:202px;height:2px;background:#DADADA"></div>
<div class="b" style="left:2796px;top:2030px;width:202px;height:2px;background:#DADADA"></div>
<div class="b" style="left:3000px;top:2030px;width:176px;height:2px;background:#DADADA"></div>
<div class="b" style="left:3178px;top:2030px;width:194px;height:2px;background:#DADADA"></div>
<div class="b" style="left:3px;top:2088px;width:107px;height:2px;background:#DADADA"></div>
<div class="b" style="left:112px;top:2088px;width:506px;height:2px;background:#DADADA"></div>
<div class="b" style="left:620px;top:2088px;width:260px;height:2px;background:#DADADA"></div>
<div class="b" style="left:882px;top:2088px;width:166px;height:2px;background:#DADADA"></div>
<div class="b" style="left:1050px;top:2088px;width:213px;height:2px;background:#DADADA"></div>
<div class="b" style="left:1265px;top:2088px;width:302px;height:2px;background:#DADADA"></div>
<div class="b" style="left:1569px;top:2088px;width:248px;height:2px;background:#DADADA"></div>
<div class="b" style="left:1819px;top:2088px;width:184px;height:2px;background:#DADADA"></div>
<div class="b" style="left:2005px;top:2088px;width:184px;height:2px;background:#DADADA"></div>
<div class="b" style="left:2191px;top:2088px;width:184px;height:2px;background:#DADADA"></div>
<div class="b" style="left:2377px;top:2088px;width:213px;height:2px;background:#DADADA"></div>
<div class="b" style="left:2592px;top:2088px;width:202px;height:2px;background:#DADADA"></div>
<div class="b" style="left:2796px;top:2088px;width:202px;height:2px;background:#DADADA"></div>
<div class="b" style="left:3000px;top:2088px;width:176px;height:2px;background:#DADADA"></div>
<div class="b" style="left:3178px;top:2088px;width:194px;height:2px;background:#DADADA"></div>
<div class="b" style="left:3px;top:2146px;width:107px;height:2px;background:#DADADA"></div>
<div class="b" style="left:112px;top:2146px;width:506px;height:2px;background:#DADADA"></div>
<div class="b" style="left:620px;top:2146px;width:260px;height:2px;background:#DADADA"></div>
<div class="b" style="left:882px;top:2146px;width:166px;height:2px;background:#DADADA"></div>
<div class="b" style="left:1050px;top:2146px;width:213px;height:2px;background:#DADADA"></div>
<div class="b" style="left:1265px;top:2146px;width:302px;height:2px;background:#DADADA"></div>
<div class="b" style="left:1569px;top:2146px;width:248px;height:2px;background:#DADADA"></div>
<div class="b" style="left:1819px;top:2146px;width:184px;height:2px;background:#DADADA"></div>
<div class="b" style="left:2005px;top:2146px;width:184px;height:2px;background:#DADADA"></div>
<div class="b" style="left:2191px;top:2146px;width:184px;height:2px;background:#DADADA"></div>
<div class="b" style="left:2377px;top:2146px;width:213px;height:2px;background:#DADADA"></div>
<div class="b" style="left:2592px;top:2146px;width:202px;height:2px;background:#DADADA"></div>
<div class="b" style="left:2796px;top:2146px;width:202px;height:2px;background:#DADADA"></div>
<div class="b" style="left:3000px;top:2146px;width:176px;height:2px;background:#DADADA"></div>
<div class="b" style="left:3178px;top:2146px;width:194px;height:2px;background:#DADADA"></div>
<div class="b" style="left:3px;top:2204px;width:107px;height:2px;background:#DADADA"></div>
<div class="b" style="left:112px;top:2204px;width:506px;height:2px;background:#DADADA"></div>
<div class="b" style="left:620px;top:2204px;width:260px;height:2px;background:#DADADA"></div>
<div class="b" style="left:882px;top:2204px;width:166px;height:2px;background:#DADADA"></div>
<div class="b" style="left:1050px;top:2204px;width:213px;height:2px;background:#DADADA"></div>
<div class="b" style="left:1265px;top:2204px;width:302px;height:2px;background:#DADADA"></div>
<div class="b" style="left:1569px;top:2204px;width:248px;height:2px;background:#DADADA"></div>
<div class="b" style="left:1819px;top:2204px;width:184px;height:2px;background:#DADADA"></div>
<div class="b" style="left:2005px;top:2204px;width:184px;height:2px;background:#DADADA"></div>
<div class="b" style="left:2191px;top:2204px;width:184px;height:2px;background:#DADADA"></div>
<div class="b" style="left:2377px;top:2204px;width:213px;height:2px;background:#DADADA"></div>
<div class="b" style="left:2592px;top:2204px;width:202px;height:2px;background:#DADADA"></div>
<div class="b" style="left:2796px;top:2204px;width:202px;height:2px;background:#DADADA"></div>
<div class="b" style="left:3000px;top:2204px;width:176px;height:2px;background:#DADADA"></div>
<div class="b" style="left:3178px;top:2204px;width:194px;height:2px;background:#DADADA"></div>
<div class="b" style="left:3px;top:2262px;width:107px;height:2px;background:#DADADA"></div>
<div class="b" style="left:112px;top:2262px;width:506px;height:2px;background:#DADADA"></div>
<div class="b" style="left:620px;top:2262px;width:260px;height:2px;background:#DADADA"></div>
<div class="b" style="left:882px;top:2262px;width:166px;height:2px;background:#DADADA"></div>
<div class="b" style="left:1050px;top:2262px;width:213px;height:2px;background:#DADADA"></div>
<div class="b" style="left:1265px;top:2262px;width:302px;height:2px;background:#DADADA"></div>
<div class="b" style="left:1569px;top:2262px;width:248px;height:2px;background:#DADADA"></div>
<div class="b" style="left:1819px;top:2262px;width:184px;height:2px;background:#DADADA"></div>
<div class="b" style="left:2005px;top:2262px;width:184px;height:2px;background:#DADADA"></div>
<div class="b" style="left:2191px;top:2262px;width:184px;height:2px;background:#DADADA"></div>
<div class="b" style="left:2377px;top:2262px;width:213px;height:2px;background:#DADADA"></div>
<div class="b" style="left:2592px;top:2262px;width:202px;height:2px;background:#DADADA"></div>
<div class="b" style="left:2796px;top:2262px;width:202px;height:2px;background:#DADADA"></div>
<div class="b" style="left:3000px;top:2262px;width:176px;height:2px;background:#DADADA"></div>
<div class="b" style="left:3178px;top:2262px;width:194px;height:2px;background:#DADADA"></div>
<div class="b" style="left:3px;top:2320px;width:107px;height:2px;background:#DADADA"></div>
<div class="b" style="left:112px;top:2320px;width:506px;height:2px;background:#DADADA"></div>
<div class="b" style="left:620px;top:2320px;width:260px;height:2px;background:#DADADA"></div>
<div class="b" style="left:882px;top:2320px;width:166px;height:2px;background:#DADADA"></div>
<div class="b" style="left:1050px;top:2320px;width:213px;height:2px;background:#DADADA"></div>
<div class="b" style="left:1265px;top:2320px;width:302px;height:2px;background:#DADADA"></div>
<div class="b" style="left:1569px;top:2320px;width:248px;height:2px;background:#DADADA"></div>
<div class="b" style="left:1819px;top:2320px;width:184px;height:2px;background:#DADADA"></div>
<div class="b" style="left:2005px;top:2320px;width:184px;height:2px;background:#DADADA"></div>
<div class="b" style="left:2191px;top:2320px;width:184px;height:2px;background:#DADADA"></div>
<div class="b" style="left:2377px;top:2320px;width:213px;height:2px;background:#DADADA"></div>
<div class="b" style="left:2592px;top:2320px;width:202px;height:2px;background:#DADADA"></div>
<div class="b" style="left:2796px;top:2320px;width:202px;height:2px;background:#DADADA"></div>
<div class="b" style="left:3000px;top:2320px;width:176px;height:2px;background:#DADADA"></div>
<div class="b" style="left:3178px;top:2320px;width:194px;height:2px;background:#DADADA"></div>
<div class="b" style="left:3px;top:2378px;width:107px;height:2px;background:#DADADA"></div>
<div class="b" style="left:112px;top:2378px;width:506px;height:2px;background:#DADADA"></div>
<div class="b" style="left:620px;top:2378px;width:260px;height:2px;background:#DADADA"></div>
<div class="b" style="left:882px;top:2378px;width:166px;height:2px;background:#DADADA"></div>
<div class="b" style="left:1050px;top:2378px;width:213px;height:2px;background:#DADADA"></div>
<div class="b" style="left:1265px;top:2378px;width:302px;height:2px;background:#DADADA"></div>
<div class="b" style="left:1569px;top:2378px;width:248px;height:2px;background:#DADADA"></div>
<div class="b" style="left:1819px;top:2378px;width:184px;height:2px;background:#DADADA"></div>
<div class="b" style="left:2005px;top:2378px;width:184px;height:2px;background:#DADADA"></div>
<div class="b" style="left:2191px;top:2378px;width:184px;height:2px;background:#DADADA"></div>
<div class="b" style="left:2377px;top:2378px;width:213px;height:2px;background:#DADADA"></div>
<div class="b" style="left:2592px;top:2378px;width:202px;height:2px;background:#DADADA"></div>
<div class="b" style="left:2796px;top:2378px;width:202px;height:2px;background:#DADADA"></div>
<div class="b" style="left:3000px;top:2378px;width:176px;height:2px;background:#DADADA"></div>
<div class="b" style="left:3178px;top:2378px;width:194px;height:2px;background:#DADADA"></div>
<div class="b" style="left:3px;top:2436px;width:107px;height:2px;background:#DADADA"></div>
<div class="b" style="left:112px;top:2436px;width:506px;height:2px;background:#DADADA"></div>
<div class="b" style="left:620px;top:2436px;width:260px;height:2px;background:#DADADA"></div>
<div class="b" style="left:882px;top:2436px;width:166px;height:2px;background:#DADADA"></div>
<div class="b" style="left:1050px;top:2436px;width:213px;height:2px;background:#DADADA"></div>
<div class="b" style="left:1265px;top:2436px;width:302px;height:2px;background:#DADADA"></div>
<div class="b" style="left:1569px;top:2436px;width:248px;height:2px;background:#DADADA"></div>
<div class="b" style="left:1819px;top:2436px;width:184px;height:2px;background:#DADADA"></div>
<div class="b" style="left:2005px;top:2436px;width:184px;height:2px;background:#DADADA"></div>
<div class="b" style="left:2191px;top:2436px;width:184px;height:2px;background:#DADADA"></div>
<div class="b" style="left:2377px;top:2436px;width:213px;height:2px;background:#DADADA"></div>
<div class="b" style="left:2592px;top:2436px;width:202px;height:2px;background:#DADADA"></div>
<div class="b" style="left:2796px;top:2436px;width:202px;height:2px;background:#DADADA"></div>
<div class="b" style="left:3000px;top:2436px;width:176px;height:2px;background:#DADADA"></div>
<div class="b" style="left:3178px;top:2436px;width:194px;height:2px;background:#DADADA"></div>
<div class="b" style="left:3px;top:2494px;width:107px;height:2px;background:#DADADA"></div>
<div class="b" style="left:112px;top:2494px;width:506px;height:2px;background:#DADADA"></div>
<div class="b" style="left:620px;top:2494px;width:260px;height:2px;background:#DADADA"></div>
<div class="b" style="left:882px;top:2494px;width:166px;height:2px;background:#DADADA"></div>
<div class="b" style="left:1050px;top:2494px;width:213px;height:2px;background:#DADADA"></div>
<div class="b" style="left:1265px;top:2494px;width:302px;height:2px;background:#DADADA"></div>
<div class="b" style="left:1569px;top:2494px;width:248px;height:2px;background:#DADADA"></div>
<div class="b" style="left:1819px;top:2494px;width:184px;height:2px;background:#DADADA"></div>
<div class="b" style="left:2005px;top:2494px;width:184px;height:2px;background:#DADADA"></div>
<div class="b" style="left:2191px;top:2494px;width:184px;height:2px;background:#DADADA"></div>
<div class="b" style="left:2377px;top:2494px;width:213px;height:2px;background:#DADADA"></div>
<div class="b" style="left:2592px;top:2494px;width:202px;height:2px;background:#DADADA"></div>
<div class="b" style="left:2796px;top:2494px;width:202px;height:2px;background:#DADADA"></div>
<div class="b" style="left:3000px;top:2494px;width:176px;height:2px;background:#DADADA"></div>
<div class="b" style="left:3178px;top:2494px;width:194px;height:2px;background:#DADADA"></div>
<div class="b" style="left:3px;top:2552px;width:107px;height:2px;background:#DADADA"></div>
<div class="b" style="left:112px;top:2552px;width:506px;height:2px;background:#DADADA"></div>
<div class="b" style="left:620px;top:2552px;width:260px;height:2px;background:#DADADA"></div>
<div class="b" style="left:882px;top:2552px;width:166px;height:2px;background:#DADADA"></div>
<div class="b" style="left:1050px;top:2552px;width:213px;height:2px;background:#DADADA"></div>
<div class="b" style="left:1265px;top:2552px;width:302px;height:2px;background:#DADADA"></div>
<div class="b" style="left:1569px;top:2552px;width:248px;height:2px;background:#DADADA"></div>
<div class="b" style="left:1819px;top:2552px;width:184px;height:2px;background:#DADADA"></div>
<div class="b" style="left:2005px;top:2552px;width:184px;height:2px;background:#DADADA"></div>
<div class="b" style="left:2191px;top:2552px;width:184px;height:2px;background:#DADADA"></div>
<div class="b" style="left:2377px;top:2552px;width:213px;height:2px;background:#DADADA"></div>
<div class="b" style="left:2592px;top:2552px;width:202px;height:2px;background:#DADADA"></div>
<div class="b" style="left:2796px;top:2552px;width:202px;height:2px;background:#DADADA"></div>
<div class="b" style="left:3000px;top:2552px;width:176px;height:2px;background:#DADADA"></div>
<div class="b" style="left:3178px;top:2552px;width:194px;height:2px;background:#DADADA"></div>
<div class="b" style="left:3px;top:2610px;width:107px;height:2px;background:#DADADA"></div>
<div class="b" style="left:112px;top:2610px;width:506px;height:2px;background:#DADADA"></div>
<div class="b" style="left:620px;top:2610px;width:260px;height:2px;background:#DADADA"></div>
<div class="b" style="left:882px;top:2610px;width:166px;height:2px;background:#DADADA"></div>
<div class="b" style="left:1050px;top:2610px;width:213px;height:2px;background:#DADADA"></div>
<div class="b" style="left:1265px;top:2610px;width:302px;height:2px;background:#DADADA"></div>
<div class="b" style="left:1569px;top:2610px;width:248px;height:2px;background:#DADADA"></div>
<div class="b" style="left:1819px;top:2610px;width:184px;height:2px;background:#DADADA"></div>
<div class="b" style="left:2005px;top:2610px;width:184px;height:2px;background:#DADADA"></div>
<div class="b" style="left:2191px;top:2610px;width:184px;height:2px;background:#DADADA"></div>
<div class="b" style="left:2377px;top:2610px;width:213px;height:2px;background:#DADADA"></div>
<div class="b" style="left:2592px;top:2610px;width:202px;height:2px;background:#DADADA"></div>
<div class="b" style="left:2796px;top:2610px;width:202px;height:2px;background:#DADADA"></div>
<div class="b" style="left:3000px;top:2610px;width:176px;height:2px;background:#DADADA"></div>
<div class="b" style="left:3178px;top:2610px;width:194px;height:2px;background:#DADADA"></div>
<div class="b" style="left:3px;top:2668px;width:107px;height:2px;background:#DADADA"></div>
<div class="b" style="left:112px;top:2668px;width:506px;height:2px;background:#DADADA"></div>
<div class="b" style="left:620px;top:2668px;width:260px;height:2px;background:#DADADA"></div>
<div class="b" style="left:882px;top:2668px;width:166px;height:2px;background:#DADADA"></div>
<div class="b" style="left:1050px;top:2668px;width:213px;height:2px;background:#DADADA"></div>
<div class="b" style="left:1265px;top:2668px;width:302px;height:2px;background:#DADADA"></div>
<div class="b" style="left:1569px;top:2668px;width:248px;height:2px;background:#DADADA"></div>
<div class="b" style="left:1819px;top:2668px;width:184px;height:2px;background:#DADADA"></div>
<div class="b" style="left:2005px;top:2668px;width:184px;height:2px;background:#DADADA"></div>
<div class="b" style="left:2191px;top:2668px;width:184px;height:2px;background:#DADADA"></div>
<div class="b" style="left:2377px;top:2668px;width:213px;height:2px;background:#DADADA"></div>
<div class="b" style="left:2592px;top:2668px;width:202px;height:2px;background:#DADADA"></div>
<div class="b" style="left:2796px;top:2668px;width:202px;height:2px;background:#DADADA"></div>
<div class="b" style="left:3000px;top:2668px;width:176px;height:2px;background:#DADADA"></div>
<div class="b" style="left:3178px;top:2668px;width:194px;height:2px;background:#DADADA"></div>
<div class="b" style="left:3px;top:2726px;width:107px;height:2px;background:#DADADA"></div>
<div class="b" style="left:112px;top:2726px;width:506px;height:2px;background:#DADADA"></div>
<div class="b" style="left:620px;top:2726px;width:260px;height:2px;background:#DADADA"></div>
<div class="b" style="left:882px;top:2726px;width:166px;height:2px;background:#DADADA"></div>
<div class="b" style="left:1050px;top:2726px;width:213px;height:2px;background:#DADADA"></div>
<div class="b" style="left:1265px;top:2726px;width:302px;height:2px;background:#DADADA"></div>
<div class="b" style="left:1569px;top:2726px;width:248px;height:2px;background:#DADADA"></div>
<div class="b" style="left:1819px;top:2726px;width:184px;height:2px;background:#DADADA"></div>
<div class="b" style="left:2005px;top:2726px;width:184px;height:2px;background:#DADADA"></div>
<div class="b" style="left:2191px;top:2726px;width:184px;height:2px;background:#DADADA"></div>
<div class="b" style="left:2377px;top:2726px;width:213px;height:2px;background:#DADADA"></div>
<div class="b" style="left:2592px;top:2726px;width:202px;height:2px;background:#DADADA"></div>
<div class="b" style="left:2796px;top:2726px;width:202px;height:2px;background:#DADADA"></div>
<div class="b" style="left:3000px;top:2726px;width:176px;height:2px;background:#DADADA"></div>
<div class="b" style="left:3178px;top:2726px;width:194px;height:2px;background:#DADADA"></div>
<div class="b" style="left:3px;top:2784px;width:107px;height:2px;background:#DADADA"></div>
<div class="b" style="left:112px;top:2784px;width:506px;height:2px;background:#DADADA"></div>
<div class="b" style="left:620px;top:2784px;width:260px;height:2px;background:#DADADA"></div>
<div class="b" style="left:882px;top:2784px;width:166px;height:2px;background:#DADADA"></div>
<div class="b" style="left:1050px;top:2784px;width:213px;height:2px;background:#DADADA"></div>
<div class="b" style="left:1265px;top:2784px;width:302px;height:2px;background:#DADADA"></div>
<div class="b" style="left:1569px;top:2784px;width:248px;height:2px;background:#DADADA"></div>
<div class="b" style="left:1819px;top:2784px;width:184px;height:2px;background:#DADADA"></div>
<div class="b" style="left:2005px;top:2784px;width:184px;height:2px;background:#DADADA"></div>
<div class="b" style="left:2191px;top:2784px;width:184px;height:2px;background:#DADADA"></div>
<div class="b" style="left:2377px;top:2784px;width:213px;height:2px;background:#DADADA"></div>
<div class="b" style="left:2592px;top:2784px;width:202px;height:2px;background:#DADADA"></div>
<div class="b" style="left:2796px;top:2784px;width:202px;height:2px;background:#DADADA"></div>
<div class="b" style="left:3000px;top:2784px;width:176px;height:2px;background:#DADADA"></div>
<div class="b" style="left:3178px;top:2784px;width:194px;height:2px;background:#DADADA"></div>
<div class="b" style="left:3px;top:2842px;width:107px;height:2px;background:#DADADA"></div>
<div class="b" style="left:112px;top:2842px;width:506px;height:2px;background:#DADADA"></div>
<div class="b" style="left:620px;top:2842px;width:260px;height:2px;background:#DADADA"></div>
<div class="b" style="left:882px;top:2842px;width:166px;height:2px;background:#DADADA"></div>
<div class="b" style="left:1050px;top:2842px;width:213px;height:2px;background:#DADADA"></div>
<div class="b" style="left:1265px;top:2842px;width:302px;height:2px;background:#DADADA"></div>
<div class="b" style="left:1569px;top:2842px;width:248px;height:2px;background:#DADADA"></div>
<div class="b" style="left:1819px;top:2842px;width:184px;height:2px;background:#DADADA"></div>
<div class="b" style="left:2005px;top:2842px;width:184px;height:2px;background:#DADADA"></div>
<div class="b" style="left:2191px;top:2842px;width:184px;height:2px;background:#DADADA"></div>
<div class="b" style="left:2377px;top:2842px;width:213px;height:2px;background:#DADADA"></div>
<div class="b" style="left:2592px;top:2842px;width:202px;height:2px;background:#DADADA"></div>
<div class="b" style="left:2796px;top:2842px;width:202px;height:2px;background:#DADADA"></div>
<div class="b" style="left:3000px;top:2842px;width:176px;height:2px;background:#DADADA"></div>
<div class="b" style="left:3178px;top:2842px;width:194px;height:2px;background:#DADADA"></div>
<div class="b" style="left:3px;top:2900px;width:107px;height:2px;background:#DADADA"></div>
<div class="b" style="left:112px;top:2900px;width:506px;height:2px;background:#DADADA"></div>
<div class="b" style="left:620px;top:2900px;width:260px;height:2px;background:#DADADA"></div>
<div class="b" style="left:882px;top:2900px;width:166px;height:2px;background:#DADADA"></div>
<div class="b" style="left:1050px;top:2900px;width:213px;height:2px;background:#DADADA"></div>
<div class="b" style="left:1265px;top:2900px;width:302px;height:2px;background:#DADADA"></div>
<div class="b" style="left:1569px;top:2900px;width:248px;height:2px;background:#DADADA"></div>
<div class="b" style="left:1819px;top:2900px;width:184px;height:2px;background:#DADADA"></div>
<div class="b" style="left:2005px;top:2900px;width:184px;height:2px;background:#DADADA"></div>
<div class="b" style="left:2191px;top:2900px;width:184px;height:2px;background:#DADADA"></div>
<div class="b" style="left:2377px;top:2900px;width:213px;height:2px;background:#DADADA"></div>
<div class="b" style="left:2592px;top:2900px;width:202px;height:2px;background:#DADADA"></div>
<div class="b" style="left:2796px;top:2900px;width:202px;height:2px;background:#DADADA"></div>
<div class="b" style="left:3000px;top:2900px;width:176px;height:2px;background:#DADADA"></div>
<div class="b" style="left:3178px;top:2900px;width:194px;height:2px;background:#DADADA"></div>
<div class="b" style="left:2px;top:2958px;width:3371px;height:2px;background:#DCDCDC"></div>
<div class="b" style="left:2px;top:3016px;width:3371px;height:2px;background:#DCDCDC"></div>
<div class="t" style="left:2px;top:59px;width:109px"><i>序号</i></div>
<div class="t" style="left:111px;top:59px;width:508px"><i>节点名称</i></div>
<div class="t" style="left:619px;top:59px;width:262px"><i>类型</i></div>
<div class="t" style="left:881px;top:59px;width:168px;transform:scaleX(0.8801)">TLS RTT</div>
<div class="t" style="left:1049px;top:59px;width:215px;transform:scaleX(0.9459)">HTTPS<i>延迟</i></div>
<div class="t" style="left:1264px;top:59px;width:304px;transform:scaleX(1.0663)">IPtype</div>
<div class="t" style="left:1568px;top:59px;width:250px">IPrisk</div>
<div class="t" style="left:1818px;top:59px;width:186px;transform:scaleX(1.0441)">Disney+</div>
<div class="t" style="left:2004px;top:59px;width:186px;transform:scaleX(1.0959)">Netflix</div>
<div class="t" style="left:2190px;top:59px;width:186px">YouTube</div>
<div class="t" style="left:2376px;top:59px;width:215px;transform:scaleX(1.0563)">OpenAI</div>
<div class="t" style="left:2591px;top:59px;width:204px"><i>平均速度</i></div>
<div class="t" style="left:2795px;top:59px;width:204px"><i>最高速度</i></div>
<div class="t" style="left:2999px;top:59px;width:178px"><i>每秒速度</i></div>
<div class="t" style="left:3177px;top:59px;width:196px">UDP<i>类型</i></div>
<div class="t" style="left:2px;top:0px;width:3387px;transform:scaleX(1.0228)">*.*.io-7749 - MiaoKo <i>自定义测试</i> | normalspeed - <i>普通测速</i></div>
<div class="b" style="left:882px;top:118px;width:166px;height:58px;background:#FFFFFF"></div>
<div class="b" style="left:882px;top:118px;width:166px;height:56px;background:#04FC7D"></div>
<div class="b" style="left:1050px;top:118px;width:213px;height:58px;background:#FFFFFF"></div>
<div class="b" style="left:1050px;top:118px;width:213px;height:56px;background:#13F175"></div>
<div class="b" style="left:1265px;top:118px;width:302px;height:56px;background:#B8E67F"></div>
<div class="b" style="left:1569px;top:118px;width:248px;height:56px;background:#EFEEED"></div>
<div class="b" style="left:1819px;top:118px;width:184px;height:56px;background:#B8E67F"></div>
<div class="b" style="left:2005px;top:118px;width:184px;height:56px;background:#B8E67F"></div>
<div class="b" style="left:2191px;top:118px;width:184px;height:56px;background:#B8E67F"></div>
<div class="b" style="left:2377px;top:118px;width:213px;height:56px;background:#B8E67F"></div>
<div class="b" style="left:2592px;top:118px;width:202px;height:58px;background:#FFFFFF"></div>
<div class="b" style="left:2592px;top:118px;width:202px;height:56px;background:#FD2177"></div>
<div class="b" style="left:2796px;top:118px;width:202px;height:58px;background:#FFFFFF"></div>
<div class="b" style="left:2796px;top:118px;width:202px;height:56px;background:#FD2177"></div>
<div class="b" style="left:3000px;top:136px;width:25px;height:38px;background:#FD2177"></div>
<div class="b" style="left:3025px;top:132px;width:25px;height:42px;background:#FD2177"></div>
<div class="b" style="left:3050px;top:127px;width:25px;height:47px;background:#FD2177"></div>
<div class="b" style="left:3075px;top:122px;width:26px;height:52px;background:#FD2177"></div>
<div class="b" style="left:3101px;top:121px;width:25px;height:53px;background:#FD2177"></div>
<div class="b" style="left:3126px;top:119px;width:25px;height:55px;background:#FD2177"></div>
<div class="b" style="left:3151px;top:123px;width:25px;height:51px;background:#FD2177"></div>
<div class="t" style="left:2px;top:117px;width:109px">1</div>
<div class="t l" style="left:129px;top:117px"><i>防失联网址</i>: haita.link</div>
<div class="t" style="left:619px;top:117px;width:262px">Trojan</div>
<div class="t" style="left:881px;top:117px;width:168px">21ms</div>
<div class="t" style="left:1049px;top:117px;width:215px">113ms</div>
<div class="t" style="left:1264px;top:117px;width:304px"><i>家宽</i>IP</div>
<div class="t" style="left:1568px;top:117px;width:250px">LOW(0)</div>
<div class="t" style="left:1818px;top:117px;width:186px"><i>解锁</i>(HK)</div>
<div class="t" style="left:2004px;top:117px;width:186px"><i>解锁</i>(HK)</div>
<div class="t" style="left:2190px;top:117px;width:186px"><i>解锁</i>(HK)</div>
<div class="t" style="left:2376px;top:117px;width:215px"><i>解锁</i>(GB)</div>
<div class="t" style="left:2591px;top:117px;width:204px">492.59MB</div>
<div class="t" style="left:2795px;top:117px;width:204px">562.78MB</div>
<div class="t" style="left:3177px;top:117px;width:196px">FullCone</div>
<div class="b" style="left:882px;top:174px;width:166px;height:60px;background:#FFFFFF"></div>
<div class="b" style="left:882px;top:176px;width:166px;height:56px;background:#04FC7D"></div>
<div class="b" style="left:1050px;top:174px;width:213px;height:60px;background:#FFFFFF"></div>
<div class="b" style="left:1050px;top:176px;width:213px;height:56px;background:#14F075"></div>
<div class="b" style="left:1265px;top:176px;width:302px;height:56px;background:#B8E67F"></div>
<div class="b" style="left:1569px;top:176px;width:248px;height:56px;background:#EFEEED"></div>
<div class="b" style="left:1819px;top:176px;width:184px;height:56px;background:#B8E67F"></div>
<div class="b" style="left:2005px;top:176px;width:184px;height:56px;background:#B8E67F"></div>
<div class="b" style="left:2191px;top:176px;width:184px;height:56px;background:#B8E67F"></div>
<div class="b" style="left:2377px;top:176px;width:213px;height:56px;background:#B8E67F"></div>
<div class="b" style="left:2592px;top:174px;width:202px;height:60px;background:#FFFFFF"></div>
<div class="b" style="left:2592px;top:176px;width:202px;height:56px;background:#FD2177"></div>
<div class="b" style="left:2796px;top:174px;width:202px;height:60px;background:#FFFFFF"></div>
<div class="b" style="left:2796px;top:176px;width:202px;height:56px;background:#FD2177"></div>
<div class="b" style="left:3000px;top:190px;width:25px;height:42px;background:#FD2177"></div>
<div class="b" style="left:3025px;top:182px;width:25px;height:50px;background:#FD2177"></div>
<div class="b" style="left:3050px;top:185px;width:25px;height:47px;background:#FD2177"></div>
<div class="b" style="left:3075px;top:186px;width:26px;height:46px;background:#FD2177"></div>
<div class="b" style="left:3101px;top:176px;width:25px;height:56px;background:#FD2177"></div>
<div class="b" style="left:3126px;top:177px;width:25px;height:55px;background:#FD2177"></div>
<div class="b" style="left:3151px;top:185px;width:25px;height:47px;background:#FD2177"></div>
<div class="t" style="left:2px;top:175px;width:109px">2</div>
<div class="t l" style="left:129px;top:175px"><i>售前</i>/<i>售后</i> <i>请联系网站在线客服</i></div>
<div class="t" style="left:619px;top:175px;width:262px">Trojan</div>
<div class="t" style="left:881px;top:175px;width:168px">22ms</div>
<div class="t" style="left:1049px;top:175px;width:215px">119ms</div>
<div class="t" style="left:1264px;top:175px;width:304px"><i>家宽</i>IP</div>
<div class="t" style="left:1568px;top:175px;width:250px">LOW(0)</div>
<div class="t" style="left:1818px;top:175px;width:186px"><i>解锁</i>(HK)</div>
<div class="t" style="left:2004px;top:175px;width:186px"><i>解锁</i>(HK)</div>
<div class="t" style="left:2190px;top:175px;width:186px"><i>解锁</i>(HK)</div>
<div class="t" style="left:2376px;top:175px;width:215px"><i>解锁</i>(GB)</div>
<div class="t" style="left:2591px;top:175px;width:204px">495.78MB</div>
<div class="t" style="left:2795px;top:175px;width:204px">560.43MB</div>
<div class="t" style="left:3177px;top:175px;width:196px;transform:scaleX(1.0589)">Unknown</div>
<div class="b" style="left:882px;top:232px;width:166px;height:60px;background:#FFFFFF"></div>
<div class="b" style="left:882px;top:234px;width:166px;height:56px;background:#03FC7D"></div>
<div class="b" style="left:1050px;top:232px;width:213px;height:60px;background:#FFFFFF"></div>
<div class="b" style="left:1050px;top:234px;width:213px;height:56px;background:#12F176"></div>
<div class="b" style="left:1265px;top:234px;width:302px;height:56px;background:#B8E67F"></div>
<div class="b" style="left:1569px;top:234px;width:248px;height:56px;background:#EFEEED"></div>
<div class="b" style="left:1819px;top:234px;width:184px;height:56px;background:#B8E67F"></div>
<div class="b" style="left:2005px;top:234px;width:184px;height:56px;background:#B8E67F"></div>
<div class="b" style="left:2191px;top:234px;width:184px;height:56px;background:#B8E67F"></div>
<div class="b" style="left:2377px;top:234px;width:213px;height:56px;background:#B8E67F"></div>
<div class="b" style="left:2592px;top:232px;width:202px;height:60px;background:#FFFFFF"></div>
<div class="b" style="left:2592px;top:234px;width:202px;height:56px;background:#FD2177"></div>
<div class="b" style="left:2796px;top:232px;width:202px;height:60px;background:#FFFFFF"></div>
<div class="b" style="left:2796px;top:234px;width:202px;height:56px;background:#FD2177"></div>
<div class="b" style="left:3000px;top:248px;width:25px;height:42px;background:#FD2177"></div>
<div class="b" style="left:3025px;top:244px;width:25px;height:46px;background:#FD2177"></div>
<div class="b" style="left:3050px;top:235px;width:25px;height:55px;background:#FD2177"></div>
<div class="b" style="left:3075px;top:234px;width:26px;height:56px;background:#FD2177"></div>
<div class="b" style="left:3101px;top:236px;width:25px;height:54px;background:#FD2177"></div>
<div class="b" style="left:3126px;top:242px;width:25px;height:48px;background:#FD2177"></div>
<div class="b" style="left:3151px;top:245px;width:25px;height:45px;background:#FD2177"></div>
<div class="t" style="left:2px;top:233px;width:109px">3</div>
<div class="fl" style="left:136px;top:252px"><svg width="28" height="20" viewBox="0 0 36 26" preserveAspectRatio="none"><rect width="36" height="26" fill="#DE2910"/><g fill="#fff"><ellipse cx="18" cy="7.4" rx="3.0" ry="4.3" transform="rotate(4 18 13) rotate(14 18 7.4)"/><ellipse cx="18" cy="7.4" rx="3.0" ry="4.3" transform="rotate(76 18 13) rotate(14 18 7.4)"/><ellipse cx="18" cy="7.4" rx="3.0" ry="4.3" transform="rotate(148 18 13) rotate(14 18 7.4)"/><ellipse cx="18" cy="7.4" rx="3.0" ry="4.3" transform="rotate(220 18 13) rotate(14 18 7.4)"/><ellipse cx="18" cy="7.4" rx="3.0" ry="4.3" transform="rotate(292 18 13) rotate(14 18 7.4)"/></g><g fill="#DE2910"><circle cx="18" cy="8.4" r=".6" transform="rotate(8 18 13)"/><circle cx="18" cy="8.4" r=".6" transform="rotate(80 18 13)"/><circle cx="18" cy="8.4" r=".6" transform="rotate(152 18 13)"/><circle cx="18" cy="8.4" r=".6" transform="rotate(224 18 13)"/><circle cx="18" cy="8.4" r=".6" transform="rotate(296 18 13)"/></g><circle cx="18" cy="13" r="1.2" fill="#F08070"/></svg></div>
<div class="t l" style="left:181px;top:233px"><i>香港</i> 01</div>
<div class="t" style="left:619px;top:233px;width:262px">Trojan</div>
<div class="t" style="left:881px;top:233px;width:168px">20ms</div>
<div class="t" style="left:1049px;top:233px;width:215px">107ms</div>
<div class="t" style="left:1264px;top:233px;width:304px"><i>家宽</i>IP</div>
<div class="t" style="left:1568px;top:233px;width:250px">LOW(0)</div>
<div class="t" style="left:1818px;top:233px;width:186px"><i>解锁</i>(HK)</div>
<div class="t" style="left:2004px;top:233px;width:186px"><i>解锁</i>(HK)</div>
<div class="t" style="left:2190px;top:233px;width:186px"><i>解锁</i>(HK)</div>
<div class="t" style="left:2376px;top:233px;width:215px"><i>解锁</i>(GB)</div>
<div class="t" style="left:2591px;top:233px;width:204px">456.94MB</div>
<div class="t" style="left:2795px;top:233px;width:204px">510.46MB</div>
<div class="t" style="left:3177px;top:233px;width:196px;transform:scaleX(1.0589)">Unknown</div>
<div class="b" style="left:882px;top:290px;width:166px;height:60px;background:#FFFFFF"></div>
<div class="b" style="left:882px;top:292px;width:166px;height:56px;background:#04FC7D"></div>
<div class="b" style="left:1050px;top:290px;width:213px;height:60px;background:#FFFFFF"></div>
<div class="b" style="left:1050px;top:292px;width:213px;height:56px;background:#17ED73"></div>
<div class="b" style="left:1265px;top:292px;width:302px;height:56px;background:#B8E67F"></div>
<div class="b" style="left:1569px;top:292px;width:248px;height:56px;background:#EFEEED"></div>
<div class="b" style="left:1819px;top:292px;width:184px;height:56px;background:#B8E67F"></div>
<div class="b" style="left:2005px;top:292px;width:184px;height:56px;background:#B8E67F"></div>
<div class="b" style="left:2191px;top:292px;width:184px;height:56px;background:#B8E67F"></div>
<div class="b" style="left:2377px;top:292px;width:213px;height:56px;background:#B8E67F"></div>
<div class="b" style="left:2592px;top:290px;width:202px;height:60px;background:#FFFFFF"></div>
<div class="b" style="left:2592px;top:292px;width:202px;height:56px;background:#FD2177"></div>
<div class="b" style="left:2796px;top:290px;width:202px;height:60px;background:#FFFFFF"></div>
<div class="b" style="left:2796px;top:292px;width:202px;height:56px;background:#FD2177"></div>
<div class="b" style="left:3000px;top:304px;width:25px;height:44px;background:#FD2177"></div>
<div class="b" style="left:3025px;top:304px;width:25px;height:44px;background:#FD2177"></div>
<div class="b" style="left:3050px;top:300px;width:25px;height:48px;background:#FD2177"></div>
<div class="b" style="left:3075px;top:296px;width:26px;height:52px;background:#FD2177"></div>
<div class="b" style="left:3101px;top:295px;width:25px;height:53px;background:#FD2177"></div>
<div class="b" style="left:3126px;top:292px;width:25px;height:56px;background:#FD2177"></div>
<div class="b" style="left:3151px;top:294px;width:25px;height:54px;background:#FD2177"></div>
<div class="t" style="left:2px;top:291px;width:109px">4</div>
<div class="fl" style="left:136px;top:310px"><svg width="28" height="20" viewBox="0 0 36 26" preserveAspectRatio="none"><rect width="36" height="26" fill="#DE2910"/><g fill="#fff"><ellipse cx="18" cy="7.4" rx="3.0" ry="4.3" transform="rotate(4 18 13) rotate(14 18 7.4)"/><ellipse cx="18" cy="7.4" rx="3.0" ry="4.3" transform="rotate(76 18 13) rotate(14 18 7.4)"/><ellipse cx="18" cy="7.4" rx="3.0" ry="4.3" transform="rotate(148 18 13) rotate(14 18 7.4)"/><ellipse cx="18" cy="7.4" rx="3.0" ry="4.3" transform="rotate(220 18 13) rotate(14 18 7.4)"/><ellipse cx="18" cy="7.4" rx="3.0" ry="4.3" transform="rotate(292 18 13) rotate(14 18 7.4)"/></g><g fill="#DE2910"><circle cx="18" cy="8.4" r=".6" transform="rotate(8 18 13)"/><circle cx="18" cy="8.4" r=".6" transform="rotate(80 18 13)"/><circle cx="18" cy="8.4" r=".6" transform="rotate(152 18 13)"/><circle cx="18" cy="8.4" r=".6" transform="rotate(224 18 13)"/><circle cx="18" cy="8.4" r=".6" transform="rotate(296 18 13)"/></g><circle cx="18" cy="13" r="1.2" fill="#F08070"/></svg></div>
<div class="t l" style="left:181px;top:291px"><i>香港</i> 02</div>
<div class="t" style="left:619px;top:291px;width:262px">Trojan</div>
<div class="t" style="left:881px;top:291px;width:168px">22ms</div>
<div class="t" style="left:1049px;top:291px;width:215px">138ms</div>
<div class="t" style="left:1264px;top:291px;width:304px"><i>家宽</i>IP</div>
<div class="t" style="left:1568px;top:291px;width:250px">LOW(0)</div>
<div class="t" style="left:1818px;top:291px;width:186px"><i>解锁</i>(HK)</div>
<div class="t" style="left:2004px;top:291px;width:186px"><i>解锁</i>(HK)</div>
<div class="t" style="left:2190px;top:291px;width:186px"><i>解锁</i>(HK)</div>
<div class="t" style="left:2376px;top:291px;width:215px"><i>解锁</i>(GB)</div>
<div class="t" style="left:2591px;top:291px;width:204px">515.98MB</div>
<div class="t" style="left:2795px;top:291px;width:204px">574.92MB</div>
<div class="t" style="left:3177px;top:291px;width:196px">FullCone</div>
<div class="b" style="left:882px;top:348px;width:166px;height:60px;background:#FFFFFF"></div>
<div class="b" style="left:882px;top:350px;width:166px;height:56px;background:#0DF679"></div>
<div class="b" style="left:1050px;top:348px;width:213px;height:60px;background:#FFFFFF"></div>
<div class="b" style="left:1050px;top:350px;width:213px;height:56px;background:#32D966"></div>
<div class="b" style="left:1265px;top:350px;width:302px;height:56px;background:#B8E67F"></div>
<div class="b" style="left:1569px;top:350px;width:248px;height:56px;background:#EFEEED"></div>
<div class="b" style="left:1819px;top:350px;width:184px;height:56px;background:#B8E67F"></div>
<div class="b" style="left:2005px;top:350px;width:184px;height:56px;background:#B8E67F"></div>
<div class="b" style="left:2191px;top:350px;width:184px;height:56px;background:#B8E67F"></div>
<div class="b" style="left:2377px;top:350px;width:213px;height:56px;background:#B8E67F"></div>
<div class="b" style="left:2592px;top:348px;width:202px;height:60px;background:#FFFFFF"></div>
<div class="b" style="left:2592px;top:350px;width:202px;height:56px;background:#FD2177"></div>
<div class="b" style="left:2796px;top:348px;width:202px;height:60px;background:#FFFFFF"></div>
<div class="b" style="left:2796px;top:350px;width:202px;height:56px;background:#FD2177"></div>
<div class="b" style="left:3000px;top:350px;width:25px;height:56px;background:#FD2177"></div>
<div class="b" style="left:3025px;top:378px;width:25px;height:28px;background:#FD2177"></div>
<div class="b" style="left:3050px;top:380px;width:25px;height:26px;background:#FD2177"></div>
<div class="b" style="left:3075px;top:384px;width:26px;height:22px;background:#FD2177"></div>
<div class="b" style="left:3101px;top:384px;width:25px;height:22px;background:#FD2177"></div>
<div class="b" style="left:3126px;top:396px;width:25px;height:10px;background:#DD88BB"></div>
<div class="b" style="left:3151px;top:403px;width:25px;height:3px;background:#AABBEE"></div>
<div class="t" style="left:2px;top:349px;width:109px">5</div>
<div class="fl" style="left:136px;top:368px"><svg width="28" height="20" viewBox="0 0 36 26" preserveAspectRatio="none"><rect width="36" height="26" fill="#DE2910"/><g fill="#fff"><ellipse cx="18" cy="7.4" rx="3.0" ry="4.3" transform="rotate(4 18 13) rotate(14 18 7.4)"/><ellipse cx="18" cy="7.4" rx="3.0" ry="4.3" transform="rotate(76 18 13) rotate(14 18 7.4)"/><ellipse cx="18" cy="7.4" rx="3.0" ry="4.3" transform="rotate(148 18 13) rotate(14 18 7.4)"/><ellipse cx="18" cy="7.4" rx="3.0" ry="4.3" transform="rotate(220 18 13) rotate(14 18 7.4)"/><ellipse cx="18" cy="7.4" rx="3.0" ry="4.3" transform="rotate(292 18 13) rotate(14 18 7.4)"/></g><g fill="#DE2910"><circle cx="18" cy="8.4" r=".6" transform="rotate(8 18 13)"/><circle cx="18" cy="8.4" r=".6" transform="rotate(80 18 13)"/><circle cx="18" cy="8.4" r=".6" transform="rotate(152 18 13)"/><circle cx="18" cy="8.4" r=".6" transform="rotate(224 18 13)"/><circle cx="18" cy="8.4" r=".6" transform="rotate(296 18 13)"/></g><circle cx="18" cy="13" r="1.2" fill="#F08070"/></svg></div>
<div class="t l" style="left:181px;top:349px"><i>香港</i> 03</div>
<div class="t" style="left:619px;top:349px;width:262px">Trojan</div>
<div class="t" style="left:881px;top:349px;width:168px">74ms</div>
<div class="t" style="left:1049px;top:349px;width:215px">296ms</div>
<div class="t" style="left:1264px;top:349px;width:304px"><i>家宽</i>IP</div>
<div class="t" style="left:1568px;top:349px;width:250px">MEDIUM(33)</div>
<div class="t" style="left:1818px;top:349px;width:186px"><i>解锁</i>(HK)</div>
<div class="t" style="left:2004px;top:349px;width:186px"><i>解锁</i>(HK)</div>
<div class="t" style="left:2190px;top:349px;width:186px"><i>解锁</i>(HK)</div>
<div class="t" style="left:2376px;top:349px;width:215px"><i>解锁</i>(GB)</div>
<div class="t" style="left:2591px;top:349px;width:204px">57.38MB</div>
<div class="t" style="left:2795px;top:349px;width:204px">132.25MB</div>
<div class="t" style="left:3177px;top:349px;width:196px;transform:scaleX(1.0589)">Unknown</div>
<div class="b" style="left:882px;top:406px;width:166px;height:60px;background:#FFFFFF"></div>
<div class="b" style="left:882px;top:408px;width:166px;height:56px;background:#03FD7D"></div>
<div class="b" style="left:1050px;top:406px;width:213px;height:60px;background:#FFFFFF"></div>
<div class="b" style="left:1050px;top:408px;width:213px;height:56px;background:#12F276"></div>
<div class="b" style="left:1265px;top:408px;width:302px;height:56px;background:#B8E67F"></div>
<div class="b" style="left:1569px;top:408px;width:248px;height:56px;background:#EFEEED"></div>
<div class="b" style="left:1819px;top:408px;width:184px;height:56px;background:#B8E67F"></div>
<div class="b" style="left:2005px;top:408px;width:184px;height:56px;background:#B8E67F"></div>
<div class="b" style="left:2191px;top:408px;width:184px;height:56px;background:#B8E67F"></div>
<div class="b" style="left:2377px;top:408px;width:213px;height:56px;background:#B8E67F"></div>
<div class="b" style="left:2592px;top:406px;width:202px;height:60px;background:#FFFFFF"></div>
<div class="b" style="left:2592px;top:408px;width:202px;height:56px;background:#FD2177"></div>
<div class="b" style="left:2796px;top:406px;width:202px;height:60px;background:#FFFFFF"></div>
<div class="b" style="left:2796px;top:408px;width:202px;height:56px;background:#FD2177"></div>
<div class="b" style="left:3000px;top:413px;width:25px;height:51px;background:#FD2177"></div>
<div class="b" style="left:3025px;top:410px;width:25px;height:54px;background:#FD2177"></div>
<div class="b" style="left:3050px;top:411px;width:25px;height:53px;background:#FD2177"></div>
<div class="b" style="left:3075px;top:410px;width:26px;height:54px;background:#FD2177"></div>
<div class="b" style="left:3101px;top:408px;width:25px;height:56px;background:#FD2177"></div>
<div class="b" style="left:3126px;top:416px;width:25px;height:48px;background:#FD2177"></div>
<div class="b" style="left:3151px;top:415px;width:25px;height:49px;background:#FD2177"></div>
<div class="t" style="left:2px;top:407px;width:109px">6</div>
<div class="fl" style="left:136px;top:426px"><svg width="28" height="20" viewBox="0 0 36 26" preserveAspectRatio="none"><rect width="36" height="26" fill="#DE2910"/><g fill="#fff"><ellipse cx="18" cy="7.4" rx="3.0" ry="4.3" transform="rotate(4 18 13) rotate(14 18 7.4)"/><ellipse cx="18" cy="7.4" rx="3.0" ry="4.3" transform="rotate(76 18 13) rotate(14 18 7.4)"/><ellipse cx="18" cy="7.4" rx="3.0" ry="4.3" transform="rotate(148 18 13) rotate(14 18 7.4)"/><ellipse cx="18" cy="7.4" rx="3.0" ry="4.3" transform="rotate(220 18 13) rotate(14 18 7.4)"/><ellipse cx="18" cy="7.4" rx="3.0" ry="4.3" transform="rotate(292 18 13) rotate(14 18 7.4)"/></g><g fill="#DE2910"><circle cx="18" cy="8.4" r=".6" transform="rotate(8 18 13)"/><circle cx="18" cy="8.4" r=".6" transform="rotate(80 18 13)"/><circle cx="18" cy="8.4" r=".6" transform="rotate(152 18 13)"/><circle cx="18" cy="8.4" r=".6" transform="rotate(224 18 13)"/><circle cx="18" cy="8.4" r=".6" transform="rotate(296 18 13)"/></g><circle cx="18" cy="13" r="1.2" fill="#F08070"/></svg></div>
<div class="t l" style="left:181px;top:407px"><i>香港</i> 04</div>
<div class="t" style="left:619px;top:407px;width:262px">Trojan</div>
<div class="t" style="left:881px;top:407px;width:168px">18ms</div>
<div class="t" style="left:1049px;top:407px;width:215px">105ms</div>
<div class="t" style="left:1264px;top:407px;width:304px"><i>家宽</i>IP</div>
<div class="t" style="left:1568px;top:407px;width:250px">LOW(0)</div>
<div class="t" style="left:1818px;top:407px;width:186px"><i>解锁</i>(HK)</div>
<div class="t" style="left:2004px;top:407px;width:186px"><i>解锁</i>(HK)</div>
<div class="t" style="left:2190px;top:407px;width:186px"><i>解锁</i>(HK)</div>
<div class="t" style="left:2376px;top:407px;width:215px"><i>解锁</i>(GB)</div>
<div class="t" style="left:2591px;top:407px;width:204px">495.00MB</div>
<div class="t" style="left:2795px;top:407px;width:204px">532.82MB</div>
<div class="t" style="left:3177px;top:407px;width:196px;transform:scaleX(1.0589)">Unknown</div>
<div class="b" style="left:882px;top:464px;width:166px;height:60px;background:#FFFFFF"></div>
<div class="b" style="left:882px;top:466px;width:166px;height:56px;background:#04FC7D"></div>
<div class="b" style="left:1050px;top:464px;width:213px;height:60px;background:#FFFFFF"></div>
<div class="b" style="left:1050px;top:466px;width:213px;height:56px;background:#15EF75"></div>
<div class="b" style="left:1265px;top:466px;width:302px;height:56px;background:#B8E67F"></div>
<div class="b" style="left:1569px;top:466px;width:248px;height:56px;background:#EFEEED"></div>
<div class="b" style="left:1819px;top:466px;width:184px;height:56px;background:#B8E67F"></div>
<div class="b" style="left:2005px;top:466px;width:184px;height:56px;background:#B8E67F"></div>
<div class="b" style="left:2191px;top:466px;width:184px;height:56px;background:#B8E67F"></div>
<div class="b" style="left:2377px;top:466px;width:213px;height:56px;background:#B8E67F"></div>
<div class="b" style="left:2592px;top:464px;width:202px;height:60px;background:#FFFFFF"></div>
<div class="b" style="left:2592px;top:466px;width:202px;height:56px;background:#FD2177"></div>
<div class="b" style="left:2796px;top:464px;width:202px;height:60px;background:#FFFFFF"></div>
<div class="b" style="left:2796px;top:466px;width:202px;height:56px;background:#FD2177"></div>
<div class="b" style="left:3000px;top:469px;width:25px;height:53px;background:#FD2177"></div>
<div class="b" style="left:3025px;top:466px;width:25px;height:56px;background:#FD2177"></div>
<div class="b" style="left:3050px;top:471px;width:25px;height:51px;background:#FD2177"></div>
<div class="b" style="left:3075px;top:471px;width:26px;height:51px;background:#FD2177"></div>
<div class="b" style="left:3101px;top:469px;width:25px;height:53px;background:#FD2177"></div>
<div class="b" style="left:3126px;top:468px;width:25px;height:54px;background:#FD2177"></div>
<div class="b" style="left:3151px;top:469px;width:25px;height:53px;background:#FD2177"></div>
<div class="t" style="left:2px;top:465px;width:109px">7</div>
<div class="fl" style="left:136px;top:484px"><svg width="28" height="20" viewBox="0 0 36 26" preserveAspectRatio="none"><rect width="36" height="26" fill="#DE2910"/><g fill="#fff"><ellipse cx="18" cy="7.4" rx="3.0" ry="4.3" transform="rotate(4 18 13) rotate(14 18 7.4)"/><ellipse cx="18" cy="7.4" rx="3.0" ry="4.3" transform="rotate(76 18 13) rotate(14 18 7.4)"/><ellipse cx="18" cy="7.4" rx="3.0" ry="4.3" transform="rotate(148 18 13) rotate(14 18 7.4)"/><ellipse cx="18" cy="7.4" rx="3.0" ry="4.3" transform="rotate(220 18 13) rotate(14 18 7.4)"/><ellipse cx="18" cy="7.4" rx="3.0" ry="4.3" transform="rotate(292 18 13) rotate(14 18 7.4)"/></g><g fill="#DE2910"><circle cx="18" cy="8.4" r=".6" transform="rotate(8 18 13)"/><circle cx="18" cy="8.4" r=".6" transform="rotate(80 18 13)"/><circle cx="18" cy="8.4" r=".6" transform="rotate(152 18 13)"/><circle cx="18" cy="8.4" r=".6" transform="rotate(224 18 13)"/><circle cx="18" cy="8.4" r=".6" transform="rotate(296 18 13)"/></g><circle cx="18" cy="13" r="1.2" fill="#F08070"/></svg></div>
<div class="t l" style="left:181px;top:465px"><i>香港</i> 05</div>
<div class="t" style="left:619px;top:465px;width:262px">Trojan</div>
<div class="t" style="left:881px;top:465px;width:168px">26ms</div>
<div class="t" style="left:1049px;top:465px;width:215px">123ms</div>
<div class="t" style="left:1264px;top:465px;width:304px"><i>家宽</i>IP</div>
<div class="t" style="left:1568px;top:465px;width:250px">LOW(0)</div>
<div class="t" style="left:1818px;top:465px;width:186px"><i>解锁</i>(HK)</div>
<div class="t" style="left:2004px;top:465px;width:186px"><i>解锁</i>(HK)</div>
<div class="t" style="left:2190px;top:465px;width:186px"><i>解锁</i>(HK)</div>
<div class="t" style="left:2376px;top:465px;width:215px"><i>解锁</i>(GB)</div>
<div class="t" style="left:2591px;top:465px;width:204px">503.15MB</div>
<div class="t" style="left:2795px;top:465px;width:204px">536.48MB</div>
<div class="t" style="left:3177px;top:465px;width:196px;transform:scaleX(1.0589)">Unknown</div>
<div class="b" style="left:882px;top:522px;width:166px;height:60px;background:#FFFFFF"></div>
<div class="b" style="left:882px;top:524px;width:166px;height:56px;background:#04FC7D"></div>
<div class="b" style="left:1050px;top:522px;width:213px;height:60px;background:#FFFFFF"></div>
<div class="b" style="left:1050px;top:524px;width:213px;height:56px;background:#17EE74"></div>
<div class="b" style="left:1265px;top:524px;width:302px;height:56px;background:#B8E67F"></div>
<div class="b" style="left:1569px;top:524px;width:248px;height:56px;background:#EFEEED"></div>
<div class="b" style="left:1819px;top:524px;width:184px;height:56px;background:#B8E67F"></div>
<div class="b" style="left:2005px;top:524px;width:184px;height:56px;background:#B8E67F"></div>
<div class="b" style="left:2191px;top:524px;width:184px;height:56px;background:#B8E67F"></div>
<div class="b" style="left:2377px;top:522px;width:213px;height:60px;background:#FFFFFF"></div>
<div class="b" style="left:2377px;top:524px;width:213px;height:56px;background:#8E8D8F"></div>
<div class="b" style="left:2592px;top:522px;width:202px;height:60px;background:#FFFFFF"></div>
<div class="b" style="left:2592px;top:524px;width:202px;height:56px;background:#FD2177"></div>
<div class="b" style="left:2796px;top:522px;width:202px;height:60px;background:#FFFFFF"></div>
<div class="b" style="left:2796px;top:524px;width:202px;height:56px;background:#FD2177"></div>
<div class="b" style="left:3000px;top:538px;width:25px;height:42px;background:#FD2177"></div>
<div class="b" style="left:3025px;top:531px;width:25px;height:49px;background:#FD2177"></div>
<div class="b" style="left:3050px;top:527px;width:25px;height:53px;background:#FD2177"></div>
<div class="b" style="left:3075px;top:527px;width:26px;height:53px;background:#FD2177"></div>
<div class="b" style="left:3101px;top:527px;width:25px;height:53px;background:#FD2177"></div>
<div class="b" style="left:3126px;top:524px;width:25px;height:56px;background:#FD2177"></div>
<div class="b" style="left:3151px;top:527px;width:25px;height:53px;background:#FD2177"></div>
<div class="t" style="left:2px;top:523px;width:109px">8</div>
<div class="fl" style="left:136px;top:542px"><svg width="28" height="20" viewBox="0 0 36 26" preserveAspectRatio="none"><rect width="36" height="26" fill="#DE2910"/><g fill="#fff"><ellipse cx="18" cy="7.4" rx="3.0" ry="4.3" transform="rotate(4 18 13) rotate(14 18 7.4)"/><ellipse cx="18" cy="7.4" rx="3.0" ry="4.3" transform="rotate(76 18 13) rotate(14 18 7.4)"/><ellipse cx="18" cy="7.4" rx="3.0" ry="4.3" transform="rotate(148 18 13) rotate(14 18 7.4)"/><ellipse cx="18" cy="7.4" rx="3.0" ry="4.3" transform="rotate(220 18 13) rotate(14 18 7.4)"/><ellipse cx="18" cy="7.4" rx="3.0" ry="4.3" transform="rotate(292 18 13) rotate(14 18 7.4)"/></g><g fill="#DE2910"><circle cx="18" cy="8.4" r=".6" transform="rotate(8 18 13)"/><circle cx="18" cy="8.4" r=".6" transform="rotate(80 18 13)"/><circle cx="18" cy="8.4" r=".6" transform="rotate(152 18 13)"/><circle cx="18" cy="8.4" r=".6" transform="rotate(224 18 13)"/><circle cx="18" cy="8.4" r=".6" transform="rotate(296 18 13)"/></g><circle cx="18" cy="13" r="1.2" fill="#F08070"/></svg></div>
<div class="t l" style="left:181px;top:523px"><i>香港</i> 06</div>
<div class="t" style="left:619px;top:523px;width:262px">Trojan</div>
<div class="t" style="left:881px;top:523px;width:168px">25ms</div>
<div class="t" style="left:1049px;top:523px;width:215px">133ms</div>
<div class="t" style="left:1264px;top:523px;width:304px"><i>家宽</i>IP</div>
<div class="t" style="left:1568px;top:523px;width:250px">LOW(0)</div>
<div class="t" style="left:1818px;top:523px;width:186px"><i>解锁</i>(HK)</div>
<div class="t" style="left:2004px;top:523px;width:186px"><i>解锁</i>(HK)</div>
<div class="t" style="left:2190px;top:523px;width:186px"><i>解锁</i>(HK)</div>
<div class="t" style="left:2376px;top:523px;width:215px">N/A</div>
<div class="t" style="left:2591px;top:523px;width:204px">536.22MB</div>
<div class="t" style="left:2795px;top:523px;width:204px">582.23MB</div>
<div class="t" style="left:3177px;top:523px;width:196px;transform:scaleX(1.0589)">Unknown</div>
<div class="b" style="left:882px;top:580px;width:166px;height:60px;background:#FFFFFF"></div>
<div class="b" style="left:882px;top:582px;width:166px;height:56px;background:#04FC7D"></div>
<div class="b" style="left:1050px;top:580px;width:213px;height:60px;background:#FFFFFF"></div>
<div class="b" style="left:1050px;top:582px;width:213px;height:56px;background:#15EF74"></div>
<div class="b" style="left:1265px;top:582px;width:302px;height:56px;background:#B8E67F"></div>
<div class="b" style="left:1569px;top:582px;width:248px;height:56px;background:#EFEEED"></div>
<div class="b" style="left:1819px;top:582px;width:184px;height:56px;background:#B8E67F"></div>
<div class="b" style="left:2005px;top:582px;width:184px;height:56px;background:#B8E67F"></div>
<div class="b" style="left:2191px;top:582px;width:184px;height:56px;background:#B8E67F"></div>
<div class="b" style="left:2377px;top:582px;width:213px;height:56px;background:#B8E67F"></div>
<div class="b" style="left:2592px;top:580px;width:202px;height:60px;background:#FFFFFF"></div>
<div class="b" style="left:2592px;top:582px;width:202px;height:56px;background:#FD2177"></div>
<div class="b" style="left:2796px;top:580px;width:202px;height:60px;background:#FFFFFF"></div>
<div class="b" style="left:2796px;top:582px;width:202px;height:56px;background:#FD2177"></div>
<div class="b" style="left:3000px;top:594px;width:25px;height:44px;background:#FD2177"></div>
<div class="b" style="left:3025px;top:583px;width:25px;height:55px;background:#FD2177"></div>
<div class="b" style="left:3050px;top:589px;width:25px;height:49px;background:#FD2177"></div>
<div class="b" style="left:3075px;top:586px;width:26px;height:52px;background:#FD2177"></div>
<div class="b" style="left:3101px;top:585px;width:25px;height:53px;background:#FD2177"></div>
<div class="b" style="left:3126px;top:586px;width:25px;height:52px;background:#FD2177"></div>
<div class="b" style="left:3151px;top:582px;width:25px;height:56px;background:#FD2177"></div>
<div class="t" style="left:2px;top:581px;width:109px">9</div>
<div class="fl" style="left:136px;top:600px"><svg width="28" height="20" viewBox="0 0 36 26" preserveAspectRatio="none"><rect width="36" height="26" fill="#DE2910"/><g fill="#fff"><ellipse cx="18" cy="7.4" rx="3.0" ry="4.3" transform="rotate(4 18 13) rotate(14 18 7.4)"/><ellipse cx="18" cy="7.4" rx="3.0" ry="4.3" transform="rotate(76 18 13) rotate(14 18 7.4)"/><ellipse cx="18" cy="7.4" rx="3.0" ry="4.3" transform="rotate(148 18 13) rotate(14 18 7.4)"/><ellipse cx="18" cy="7.4" rx="3.0" ry="4.3" transform="rotate(220 18 13) rotate(14 18 7.4)"/><ellipse cx="18" cy="7.4" rx="3.0" ry="4.3" transform="rotate(292 18 13) rotate(14 18 7.4)"/></g><g fill="#DE2910"><circle cx="18" cy="8.4" r=".6" transform="rotate(8 18 13)"/><circle cx="18" cy="8.4" r=".6" transform="rotate(80 18 13)"/><circle cx="18" cy="8.4" r=".6" transform="rotate(152 18 13)"/><circle cx="18" cy="8.4" r=".6" transform="rotate(224 18 13)"/><circle cx="18" cy="8.4" r=".6" transform="rotate(296 18 13)"/></g><circle cx="18" cy="13" r="1.2" fill="#F08070"/></svg></div>
<div class="t l" style="left:181px;top:581px"><i>香港</i> 07</div>
<div class="t" style="left:619px;top:581px;width:262px">Trojan</div>
<div class="t" style="left:881px;top:581px;width:168px">22ms</div>
<div class="t" style="left:1049px;top:581px;width:215px">125ms</div>
<div class="t" style="left:1264px;top:581px;width:304px"><i>家宽</i>IP</div>
<div class="t" style="left:1568px;top:581px;width:250px">LOW(0)</div>
<div class="t" style="left:1818px;top:581px;width:186px"><i>解锁</i>(HK)</div>
<div class="t" style="left:2004px;top:581px;width:186px"><i>解锁</i>(HK)</div>
<div class="t" style="left:2190px;top:581px;width:186px"><i>解锁</i>(HK)</div>
<div class="t" style="left:2376px;top:581px;width:215px"><i>解锁</i>(GB)</div>
<div class="t" style="left:2591px;top:581px;width:204px">520.46MB</div>
<div class="t" style="left:2795px;top:581px;width:204px">560.15MB</div>
<div class="t" style="left:3177px;top:581px;width:196px;transform:scaleX(1.0589)">Unknown</div>
<div class="b" style="left:882px;top:638px;width:166px;height:60px;background:#FFFFFF"></div>
<div class="b" style="left:882px;top:640px;width:166px;height:56px;background:#04FC7D"></div>
<div class="b" style="left:1050px;top:638px;width:213px;height:60px;background:#FFFFFF"></div>
<div class="b" style="left:1050px;top:640px;width:213px;height:56px;background:#15EF75"></div>
<div class="b" style="left:1265px;top:640px;width:302px;height:56px;background:#B8E67F"></div>
<div class="b" style="left:1569px;top:640px;width:248px;height:56px;background:#EFEEED"></div>
<div class="b" style="left:1819px;top:640px;width:184px;height:56px;background:#B8E67F"></div>
<div class="b" style="left:2005px;top:640px;width:184px;height:56px;background:#B8E67F"></div>
<div class="b" style="left:2191px;top:640px;width:184px;height:56px;background:#B8E67F"></div>
<div class="b" style="left:2377px;top:640px;width:213px;height:56px;background:#B8E67F"></div>
<div class="b" style="left:2592px;top:638px;width:202px;height:60px;background:#FFFFFF"></div>
<div class="b" style="left:2592px;top:640px;width:202px;height:56px;background:#FD2177"></div>
<div class="b" style="left:2796px;top:638px;width:202px;height:60px;background:#FFFFFF"></div>
<div class="b" style="left:2796px;top:640px;width:202px;height:56px;background:#FD2177"></div>
<div class="b" style="left:3000px;top:654px;width:25px;height:42px;background:#FD2177"></div>
<div class="b" style="left:3025px;top:646px;width:25px;height:50px;background:#FD2177"></div>
<div class="b" style="left:3050px;top:644px;width:25px;height:52px;background:#FD2177"></div>
<div class="b" style="left:3075px;top:643px;width:26px;height:53px;background:#FD2177"></div>
<div class="b" style="left:3101px;top:640px;width:25px;height:56px;background:#FD2177"></div>
<div class="b" style="left:3126px;top:646px;width:25px;height:50px;background:#FD2177"></div>
<div class="b" style="left:3151px;top:660px;width:25px;height:36px;background:#FD2177"></div>
<div class="t" style="left:2px;top:639px;width:109px">10</div>
<div class="fl" style="left:136px;top:658px"><svg width="28" height="20" viewBox="0 0 36 26" preserveAspectRatio="none"><rect width="36" height="26" fill="#DE2910"/><g fill="#fff"><ellipse cx="18" cy="7.4" rx="3.0" ry="4.3" transform="rotate(4 18 13) rotate(14 18 7.4)"/><ellipse cx="18" cy="7.4" rx="3.0" ry="4.3" transform="rotate(76 18 13) rotate(14 18 7.4)"/><ellipse cx="18" cy="7.4" rx="3.0" ry="4.3" transform="rotate(148 18 13) rotate(14 18 7.4)"/><ellipse cx="18" cy="7.4" rx="3.0" ry="4.3" transform="rotate(220 18 13) rotate(14 18 7.4)"/><ellipse cx="18" cy="7.4" rx="3.0" ry="4.3" transform="rotate(292 18 13) rotate(14 18 7.4)"/></g><g fill="#DE2910"><circle cx="18" cy="8.4" r=".6" transform="rotate(8 18 13)"/><circle cx="18" cy="8.4" r=".6" transform="rotate(80 18 13)"/><circle cx="18" cy="8.4" r=".6" transform="rotate(152 18 13)"/><circle cx="18" cy="8.4" r=".6" transform="rotate(224 18 13)"/><circle cx="18" cy="8.4" r=".6" transform="rotate(296 18 13)"/></g><circle cx="18" cy="13" r="1.2" fill="#F08070"/></svg></div>
<div class="t l" style="left:181px;top:639px"><i>香港</i> 08</div>
<div class="t" style="left:619px;top:639px;width:262px">Trojan</div>
<div class="t" style="left:881px;top:639px;width:168px">23ms</div>
<div class="t" style="left:1049px;top:639px;width:215px">123ms</div>
<div class="t" style="left:1264px;top:639px;width:304px"><i>家宽</i>IP</div>
<div class="t" style="left:1568px;top:639px;width:250px">LOW(0)</div>
<div class="t" style="left:1818px;top:639px;width:186px"><i>解锁</i>(HK)</div>
<div class="t" style="left:2004px;top:639px;width:186px"><i>解锁</i>(HK)</div>
<div class="t" style="left:2190px;top:639px;width:186px"><i>解锁</i>(HK)</div>
<div class="t" style="left:2376px;top:639px;width:215px"><i>解锁</i>(GB)</div>
<div class="t" style="left:2591px;top:639px;width:204px">536.40MB</div>
<div class="t" style="left:2795px;top:639px;width:204px">618.14MB</div>
<div class="t" style="left:3177px;top:639px;width:196px;transform:scaleX(1.0589)">Unknown</div>
<div class="b" style="left:882px;top:696px;width:166px;height:60px;background:#FFFFFF"></div>
<div class="b" style="left:882px;top:698px;width:166px;height:56px;background:#04FC7D"></div>
<div class="b" style="left:1050px;top:696px;width:213px;height:60px;background:#FFFFFF"></div>
<div class="b" style="left:1050px;top:698px;width:213px;height:56px;background:#16EE74"></div>
<div class="b" style="left:1265px;top:698px;width:302px;height:56px;background:#B8E67F"></div>
<div class="b" style="left:1569px;top:698px;width:248px;height:56px;background:#EFEEED"></div>
<div class="b" style="left:1819px;top:698px;width:184px;height:56px;background:#B8E67F"></div>
<div class="b" style="left:2005px;top:698px;width:184px;height:56px;background:#B8E67F"></div>
<div class="b" style="left:2191px;top:698px;width:184px;height:56px;background:#B8E67F"></div>
<div class="b" style="left:2377px;top:698px;width:213px;height:56px;background:#B8E67F"></div>
<div class="b" style="left:2592px;top:696px;width:202px;height:60px;background:#FFFFFF"></div>
<div class="b" style="left:2592px;top:698px;width:202px;height:56px;background:#FD2177"></div>
<div class="b" style="left:2796px;top:696px;width:202px;height:60px;background:#FFFFFF"></div>
<div class="b" style="left:2796px;top:698px;width:202px;height:56px;background:#FD2177"></div>
<div class="b" style="left:3000px;top:709px;width:25px;height:45px;background:#FD2177"></div>
<div class="b" style="left:3025px;top:707px;width:25px;height:47px;background:#FD2177"></div>
<div class="b" style="left:3050px;top:701px;width:25px;height:53px;background:#FD2177"></div>
<div class="b" style="left:3075px;top:698px;width:26px;height:56px;background:#FD2177"></div>
<div class="b" style="left:3101px;top:707px;width:25px;height:47px;background:#FD2177"></div>
<div class="b" style="left:3126px;top:706px;width:25px;height:48px;background:#FD2177"></div>
<div class="b" style="left:3151px;top:707px;width:25px;height:47px;background:#FD2177"></div>
<div class="t" style="left:2px;top:697px;width:109px">11</div>
<div class="fl" style="left:136px;top:716px"><svg width="28" height="20" viewBox="0 0 36 26" preserveAspectRatio="none"><rect width="36" height="26" fill="#DE2910"/><g fill="#fff"><ellipse cx="18" cy="7.4" rx="3.0" ry="4.3" transform="rotate(4 18 13) rotate(14 18 7.4)"/><ellipse cx="18" cy="7.4" rx="3.0" ry="4.3" transform="rotate(76 18 13) rotate(14 18 7.4)"/><ellipse cx="18" cy="7.4" rx="3.0" ry="4.3" transform="rotate(148 18 13) rotate(14 18 7.4)"/><ellipse cx="18" cy="7.4" rx="3.0" ry="4.3" transform="rotate(220 18 13) rotate(14 18 7.4)"/><ellipse cx="18" cy="7.4" rx="3.0" ry="4.3" transform="rotate(292 18 13) rotate(14 18 7.4)"/></g><g fill="#DE2910"><circle cx="18" cy="8.4" r=".6" transform="rotate(8 18 13)"/><circle cx="18" cy="8.4" r=".6" transform="rotate(80 18 13)"/><circle cx="18" cy="8.4" r=".6" transform="rotate(152 18 13)"/><circle cx="18" cy="8.4" r=".6" transform="rotate(224 18 13)"/><circle cx="18" cy="8.4" r=".6" transform="rotate(296 18 13)"/></g><circle cx="18" cy="13" r="1.2" fill="#F08070"/></svg></div>
<div class="t l" style="left:181px;top:697px"><i>香港</i> 09</div>
<div class="t" style="left:619px;top:697px;width:262px">Trojan</div>
<div class="t" style="left:881px;top:697px;width:168px">24ms</div>
<div class="t" style="left:1049px;top:697px;width:215px">129ms</div>
<div class="t" style="left:1264px;top:697px;width:304px"><i>家宽</i>IP</div>
<div class="t" style="left:1568px;top:697px;width:250px">LOW(0)</div>
<div class="t" style="left:1818px;top:697px;width:186px"><i>解锁</i>(HK)</div>
<div class="t" style="left:2004px;top:697px;width:186px"><i>解锁</i>(HK)</div>
<div class="t" style="left:2190px;top:697px;width:186px"><i>解锁</i>(HK)</div>
<div class="t" style="left:2376px;top:697px;width:215px"><i>解锁</i>(GB)</div>
<div class="t" style="left:2591px;top:697px;width:204px">505.20MB</div>
<div class="t" style="left:2795px;top:697px;width:204px">577.35MB</div>
<div class="t" style="left:3177px;top:697px;width:196px">FullCone</div>
<div class="b" style="left:882px;top:754px;width:166px;height:60px;background:#FFFFFF"></div>
<div class="b" style="left:882px;top:756px;width:166px;height:56px;background:#04FC7D"></div>
<div class="b" style="left:1050px;top:754px;width:213px;height:60px;background:#FFFFFF"></div>
<div class="b" style="left:1050px;top:756px;width:213px;height:56px;background:#15EF75"></div>
<div class="b" style="left:1265px;top:756px;width:302px;height:56px;background:#B8E67F"></div>
<div class="b" style="left:1569px;top:756px;width:248px;height:56px;background:#EFEEED"></div>
<div class="b" style="left:1819px;top:756px;width:184px;height:56px;background:#B8E67F"></div>
<div class="b" style="left:2005px;top:756px;width:184px;height:56px;background:#B8E67F"></div>
<div class="b" style="left:2191px;top:756px;width:184px;height:56px;background:#B8E67F"></div>
<div class="b" style="left:2377px;top:756px;width:213px;height:56px;background:#B8E67F"></div>
<div class="b" style="left:2592px;top:754px;width:202px;height:60px;background:#FFFFFF"></div>
<div class="b" style="left:2592px;top:756px;width:202px;height:56px;background:#FD2177"></div>
<div class="b" style="left:2796px;top:754px;width:202px;height:60px;background:#FFFFFF"></div>
<div class="b" style="left:2796px;top:756px;width:202px;height:56px;background:#FD2177"></div>
<div class="b" style="left:3000px;top:765px;width:25px;height:47px;background:#FD2177"></div>
<div class="b" style="left:3025px;top:757px;width:25px;height:55px;background:#FD2177"></div>
<div class="b" style="left:3050px;top:759px;width:25px;height:53px;background:#FD2177"></div>
<div class="b" style="left:3075px;top:758px;width:26px;height:54px;background:#FD2177"></div>
<div class="b" style="left:3101px;top:757px;width:25px;height:55px;background:#FD2177"></div>
<div class="b" style="left:3126px;top:765px;width:25px;height:47px;background:#FD2177"></div>
<div class="b" style="left:3151px;top:756px;width:25px;height:56px;background:#FD2177"></div>
<div class="t" style="left:2px;top:755px;width:109px">12</div>
<div class="fl" style="left:136px;top:774px"><svg width="28" height="20" viewBox="0 0 36 26" preserveAspectRatio="none"><rect width="36" height="26" fill="#DE2910"/><g fill="#fff"><ellipse cx="18" cy="7.4" rx="3.0" ry="4.3" transform="rotate(4 18 13) rotate(14 18 7.4)"/><ellipse cx="18" cy="7.4" rx="3.0" ry="4.3" transform="rotate(76 18 13) rotate(14 18 7.4)"/><ellipse cx="18" cy="7.4" rx="3.0" ry="4.3" transform="rotate(148 18 13) rotate(14 18 7.4)"/><ellipse cx="18" cy="7.4" rx="3.0" ry="4.3" transform="rotate(220 18 13) rotate(14 18 7.4)"/><ellipse cx="18" cy="7.4" rx="3.0" ry="4.3" transform="rotate(292 18 13) rotate(14 18 7.4)"/></g><g fill="#DE2910"><circle cx="18" cy="8.4" r=".6" transform="rotate(8 18 13)"/><circle cx="18" cy="8.4" r=".6" transform="rotate(80 18 13)"/><circle cx="18" cy="8.4" r=".6" transform="rotate(152 18 13)"/><circle cx="18" cy="8.4" r=".6" transform="rotate(224 18 13)"/><circle cx="18" cy="8.4" r=".6" transform="rotate(296 18 13)"/></g><circle cx="18" cy="13" r="1.2" fill="#F08070"/></svg></div>
<div class="t l" style="left:181px;top:755px"><i>香港</i> 10</div>
<div class="t" style="left:619px;top:755px;width:262px">Trojan</div>
<div class="t" style="left:881px;top:755px;width:168px">23ms</div>
<div class="t" style="left:1049px;top:755px;width:215px">124ms</div>
<div class="t" style="left:1264px;top:755px;width:304px"><i>家宽</i>IP</div>
<div class="t" style="left:1568px;top:755px;width:250px">LOW(0)</div>
<div class="t" style="left:1818px;top:755px;width:186px"><i>解锁</i>(HK)</div>
<div class="t" style="left:2004px;top:755px;width:186px"><i>解锁</i>(HK)</div>
<div class="t" style="left:2190px;top:755px;width:186px"><i>解锁</i>(HK)</div>
<div class="t" style="left:2376px;top:755px;width:215px"><i>解锁</i>(GB)</div>
<div class="t" style="left:2591px;top:755px;width:204px">514.30MB</div>
<div class="t" style="left:2795px;top:755px;width:204px">551.11MB</div>
<div class="t" style="left:3177px;top:755px;width:196px;transform:scaleX(1.0589)">Unknown</div>
<div class="b" style="left:882px;top:812px;width:166px;height:60px;background:#FFFFFF"></div>
<div class="b" style="left:882px;top:814px;width:166px;height:56px;background:#07F97B"></div>
<div class="b" style="left:1050px;top:812px;width:213px;height:60px;background:#FFFFFF"></div>
<div class="b" style="left:1050px;top:814px;width:213px;height:56px;background:#1FE870"></div>
<div class="b" style="left:1265px;top:814px;width:302px;height:56px;background:#B8E67F"></div>
<div class="b" style="left:1569px;top:814px;width:248px;height:56px;background:#EFEEED"></div>
<div class="b" style="left:1819px;top:814px;width:184px;height:56px;background:#B8E67F"></div>
<div class="b" style="left:2005px;top:814px;width:184px;height:56px;background:#B8E67F"></div>
<div class="b" style="left:2191px;top:814px;width:184px;height:56px;background:#B8E67F"></div>
<div class="b" style="left:2377px;top:814px;width:213px;height:56px;background:#B8E67F"></div>
<div class="b" style="left:2592px;top:812px;width:202px;height:60px;background:#FFFFFF"></div>
<div class="b" style="left:2592px;top:814px;width:202px;height:56px;background:#FD2177"></div>
<div class="b" style="left:2796px;top:812px;width:202px;height:60px;background:#FFFFFF"></div>
<div class="b" style="left:2796px;top:814px;width:202px;height:56px;background:#FD2177"></div>
<div class="b" style="left:3000px;top:831px;width:25px;height:39px;background:#FD2177"></div>
<div class="b" style="left:3025px;top:814px;width:25px;height:56px;background:#FD2177"></div>
<div class="b" style="left:3050px;top:824px;width:25px;height:46px;background:#FD2177"></div>
<div class="b" style="left:3075px;top:817px;width:26px;height:53px;background:#FD2177"></div>
<div class="b" style="left:3101px;top:819px;width:25px;height:51px;background:#FD2177"></div>
<div class="b" style="left:3126px;top:825px;width:25px;height:45px;background:#FD2177"></div>
<div class="b" style="left:3151px;top:819px;width:25px;height:51px;background:#FD2177"></div>
<div class="t" style="left:2px;top:813px;width:109px">13</div>
<div class="fl" style="left:136px;top:832px"><svg width="28" height="20" viewBox="0 0 36 26" preserveAspectRatio="none"><rect width="36" height="26" fill="#FE0000"/><rect width="16.7" height="12.5" fill="#000095"/><circle cx="8.5" cy="6.3" r="3.9" fill="#fff"/><circle cx="8.5" cy="6.3" r="2.6" fill="none" stroke="#000095" stroke-width=".5" stroke-opacity=".5"/></svg></div>
<div class="t l" style="left:181px;top:813px"><i>台湾</i> 01</div>
<div class="t" style="left:619px;top:813px;width:262px">Trojan</div>
<div class="t" style="left:881px;top:813px;width:168px">44ms</div>
<div class="t" style="left:1049px;top:813px;width:215px">180ms</div>
<div class="t" style="left:1264px;top:813px;width:304px"><i>家宽</i>IP</div>
<div class="t" style="left:1568px;top:813px;width:250px">LOW(0)</div>
<div class="t" style="left:1818px;top:813px;width:186px"><i>解锁</i>(TW)</div>
<div class="t" style="left:2004px;top:813px;width:186px"><i>解锁</i>(TW)</div>
<div class="t" style="left:2190px;top:813px;width:186px"><i>解锁</i>(TW)</div>
<div class="t" style="left:2376px;top:813px;width:215px"><i>解锁</i>(TW)</div>
<div class="t" style="left:2591px;top:813px;width:204px">112.18MB</div>
<div class="t" style="left:2795px;top:813px;width:204px">128.75MB</div>
<div class="t" style="left:3177px;top:813px;width:196px;transform:scaleX(1.0589)">Unknown</div>
<div class="b" style="left:882px;top:870px;width:166px;height:60px;background:#FFFFFF"></div>
<div class="b" style="left:882px;top:872px;width:166px;height:56px;background:#07FA7B"></div>
<div class="b" style="left:1050px;top:870px;width:213px;height:60px;background:#FFFFFF"></div>
<div class="b" style="left:1050px;top:872px;width:213px;height:56px;background:#1FE870"></div>
<div class="b" style="left:1265px;top:872px;width:302px;height:56px;background:#B8E67F"></div>
<div class="b" style="left:1569px;top:872px;width:248px;height:56px;background:#EFEEED"></div>
<div class="b" style="left:1819px;top:872px;width:184px;height:56px;background:#B8E67F"></div>
<div class="b" style="left:2005px;top:872px;width:184px;height:56px;background:#B8E67F"></div>
<div class="b" style="left:2191px;top:872px;width:184px;height:56px;background:#B8E67F"></div>
<div class="b" style="left:2377px;top:872px;width:213px;height:56px;background:#B8E67F"></div>
<div class="b" style="left:2592px;top:870px;width:202px;height:60px;background:#FFFFFF"></div>
<div class="b" style="left:2592px;top:872px;width:202px;height:56px;background:#FD2177"></div>
<div class="b" style="left:2796px;top:870px;width:202px;height:60px;background:#FFFFFF"></div>
<div class="b" style="left:2796px;top:872px;width:202px;height:56px;background:#FD2177"></div>
<div class="b" style="left:3000px;top:894px;width:25px;height:34px;background:#FD2177"></div>
<div class="b" style="left:3025px;top:872px;width:25px;height:56px;background:#FD2177"></div>
<div class="b" style="left:3050px;top:885px;width:25px;height:43px;background:#FD2177"></div>
<div class="b" style="left:3075px;top:885px;width:26px;height:43px;background:#FD2177"></div>
<div class="b" style="left:3101px;top:878px;width:25px;height:50px;background:#FD2177"></div>
<div class="b" style="left:3126px;top:878px;width:25px;height:50px;background:#FD2177"></div>
<div class="b" style="left:3151px;top:879px;width:25px;height:49px;background:#FD2177"></div>
<div class="t" style="left:2px;top:871px;width:109px">14</div>
<div class="fl" style="left:136px;top:890px"><svg width="28" height="20" viewBox="0 0 36 26" preserveAspectRatio="none"><rect width="36" height="26" fill="#FE0000"/><rect width="16.7" height="12.5" fill="#000095"/><circle cx="8.5" cy="6.3" r="3.9" fill="#fff"/><circle cx="8.5" cy="6.3" r="2.6" fill="none" stroke="#000095" stroke-width=".5" stroke-opacity=".5"/></svg></div>
<div class="t l" style="left:181px;top:871px"><i>台湾</i> 02</div>
<div class="t" style="left:619px;top:871px;width:262px">Trojan</div>
<div class="t" style="left:881px;top:871px;width:168px">42ms</div>
<div class="t" style="left:1049px;top:871px;width:215px">181ms</div>
<div class="t" style="left:1264px;top:871px;width:304px"><i>家宽</i>IP</div>
<div class="t" style="left:1568px;top:871px;width:250px">LOW(0)</div>
<div class="t" style="left:1818px;top:871px;width:186px"><i>解锁</i>(TW)</div>
<div class="t" style="left:2004px;top:871px;width:186px"><i>解锁</i>(TW)</div>
<div class="t" style="left:2190px;top:871px;width:186px"><i>解锁</i>(TW)</div>
<div class="t" style="left:2376px;top:871px;width:215px"><i>解锁</i>(TW)</div>
<div class="t" style="left:2591px;top:871px;width:204px">200.58MB</div>
<div class="t" style="left:2795px;top:871px;width:204px">240.86MB</div>
<div class="t" style="left:3177px;top:871px;width:196px;transform:scaleX(1.0589)">Unknown</div>
<div class="b" style="left:882px;top:928px;width:166px;height:60px;background:#FFFFFF"></div>
<div class="b" style="left:882px;top:930px;width:166px;height:56px;background:#06FA7C"></div>
<div class="b" style="left:1050px;top:928px;width:213px;height:60px;background:#FFFFFF"></div>
<div class="b" style="left:1050px;top:930px;width:213px;height:56px;background:#1AEC72"></div>
<div class="b" style="left:1265px;top:930px;width:302px;height:56px;background:#B8E67F"></div>
<div class="b" style="left:1569px;top:930px;width:248px;height:56px;background:#EFEEED"></div>
<div class="b" style="left:1819px;top:930px;width:184px;height:56px;background:#B8E67F"></div>
<div class="b" style="left:2005px;top:930px;width:184px;height:56px;background:#B8E67F"></div>
<div class="b" style="left:2191px;top:930px;width:184px;height:56px;background:#B8E67F"></div>
<div class="b" style="left:2377px;top:930px;width:213px;height:56px;background:#B8E67F"></div>
<div class="b" style="left:2592px;top:928px;width:202px;height:60px;background:#FFFFFF"></div>
<div class="b" style="left:2592px;top:930px;width:202px;height:56px;background:#FD2177"></div>
<div class="b" style="left:2796px;top:928px;width:202px;height:60px;background:#FFFFFF"></div>
<div class="b" style="left:2796px;top:930px;width:202px;height:56px;background:#FD2177"></div>
<div class="b" style="left:3000px;top:941px;width:25px;height:45px;background:#FD2177"></div>
<div class="b" style="left:3025px;top:938px;width:25px;height:48px;background:#FD2177"></div>
<div class="b" style="left:3050px;top:930px;width:25px;height:56px;background:#FD2177"></div>
<div class="b" style="left:3075px;top:940px;width:26px;height:46px;background:#FD2177"></div>
<div class="b" style="left:3101px;top:930px;width:25px;height:56px;background:#FD2177"></div>
<div class="b" style="left:3126px;top:941px;width:25px;height:45px;background:#FD2177"></div>
<div class="b" style="left:3151px;top:936px;width:25px;height:50px;background:#FD2177"></div>
<div class="t" style="left:2px;top:929px;width:109px">15</div>
<div class="fl" style="left:136px;top:948px"><svg width="28" height="20" viewBox="0 0 36 26" preserveAspectRatio="none"><rect width="36" height="26" fill="#FE0000"/><rect width="16.7" height="12.5" fill="#000095"/><circle cx="8.5" cy="6.3" r="3.9" fill="#fff"/><circle cx="8.5" cy="6.3" r="2.6" fill="none" stroke="#000095" stroke-width=".5" stroke-opacity=".5"/></svg></div>
<div class="t l" style="left:181px;top:929px"><i>台湾</i> 03</div>
<div class="t" style="left:619px;top:929px;width:262px">Trojan</div>
<div class="t" style="left:881px;top:929px;width:168px">38ms</div>
<div class="t" style="left:1049px;top:929px;width:215px">151ms</div>
<div class="t" style="left:1264px;top:929px;width:304px"><i>家宽</i>IP</div>
<div class="t" style="left:1568px;top:929px;width:250px">LOW(0)</div>
<div class="t" style="left:1818px;top:929px;width:186px"><i>解锁</i>(TW)</div>
<div class="t" style="left:2004px;top:929px;width:186px"><i>解锁</i>(TW)</div>
<div class="t" style="left:2190px;top:929px;width:186px"><i>解锁</i>(TW)</div>
<div class="t" style="left:2376px;top:929px;width:215px"><i>解锁</i>(TW)</div>
<div class="t" style="left:2591px;top:929px;width:204px">114.04MB</div>
<div class="t" style="left:2795px;top:929px;width:204px">130.34MB</div>
<div class="t" style="left:3177px;top:929px;width:196px;transform:scaleX(1.0589)">Unknown</div>
<div class="b" style="left:882px;top:986px;width:166px;height:60px;background:#FFFFFF"></div>
<div class="b" style="left:882px;top:988px;width:166px;height:56px;background:#0CF679"></div>
<div class="b" style="left:1050px;top:986px;width:213px;height:60px;background:#FFFFFF"></div>
<div class="b" style="left:1050px;top:988px;width:213px;height:56px;background:#31DA66"></div>
<div class="b" style="left:1265px;top:988px;width:302px;height:56px;background:#B8E67F"></div>
<div class="b" style="left:1569px;top:988px;width:248px;height:56px;background:#EFEEED"></div>
<div class="b" style="left:1819px;top:988px;width:184px;height:56px;background:#B8E67F"></div>
<div class="b" style="left:2005px;top:988px;width:184px;height:56px;background:#B8E67F"></div>
<div class="b" style="left:2191px;top:988px;width:184px;height:56px;background:#B8E67F"></div>
<div class="b" style="left:2377px;top:988px;width:213px;height:56px;background:#B8E67F"></div>
<div class="b" style="left:2592px;top:986px;width:202px;height:60px;background:#FFFFFF"></div>
<div class="b" style="left:2592px;top:988px;width:202px;height:56px;background:#FD2177"></div>
<div class="b" style="left:2796px;top:986px;width:202px;height:60px;background:#FFFFFF"></div>
<div class="b" style="left:2796px;top:988px;width:202px;height:56px;background:#FD2177"></div>
<div class="b" style="left:3000px;top:1024px;width:25px;height:20px;background:#FD2177"></div>
<div class="b" style="left:3025px;top:997px;width:25px;height:47px;background:#FD2177"></div>
<div class="b" style="left:3050px;top:997px;width:25px;height:47px;background:#FD2177"></div>
<div class="b" style="left:3075px;top:991px;width:26px;height:53px;background:#FD2177"></div>
<div class="b" style="left:3101px;top:993px;width:25px;height:51px;background:#FD2177"></div>
<div class="b" style="left:3126px;top:988px;width:25px;height:56px;background:#FD2177"></div>
<div class="b" style="left:3151px;top:995px;width:25px;height:49px;background:#FD2177"></div>
<div class="t" style="left:2px;top:987px;width:109px">16</div>
<div class="fl" style="left:136px;top:1006px"><svg width="28" height="20" viewBox="0 0 36 26" preserveAspectRatio="none"><rect width="36" height="26" fill="#EEEEEE"/><circle cx="18" cy="13" r="7" fill="#E4213C"/></svg></div>
<div class="t l" style="left:181px;top:987px"><i>日本</i> 01</div>
<div class="t" style="left:619px;top:987px;width:262px">Trojan</div>
<div class="t" style="left:881px;top:987px;width:168px">72ms</div>
<div class="t" style="left:1049px;top:987px;width:215px">291ms</div>
<div class="t" style="left:1264px;top:987px;width:304px"><i>家宽</i>IP</div>
<div class="t" style="left:1568px;top:987px;width:250px">MEDIUM(33)</div>
<div class="t" style="left:1818px;top:987px;width:186px"><i>解锁</i>(JP)</div>
<div class="t" style="left:2004px;top:987px;width:186px"><i>解锁</i>(JP)</div>
<div class="t" style="left:2190px;top:987px;width:186px"><i>解锁</i>(JP)</div>
<div class="t" style="left:2376px;top:987px;width:215px"><i>解锁</i>(JP)</div>
<div class="t" style="left:2591px;top:987px;width:204px">446.96MB</div>
<div class="t" style="left:2795px;top:987px;width:204px">540.87MB</div>
<div class="t" style="left:3177px;top:987px;width:196px;transform:scaleX(1.0589)">Unknown</div>
<div class="b" style="left:882px;top:1044px;width:166px;height:60px;background:#FFFFFF"></div>
<div class="b" style="left:882px;top:1046px;width:166px;height:56px;background:#0FF377"></div>
<div class="b" style="left:1050px;top:1044px;width:213px;height:60px;background:#FFFFFF"></div>
<div class="b" style="left:1050px;top:1046px;width:213px;height:56px;background:#38D563"></div>
<div class="b" style="left:1265px;top:1046px;width:302px;height:56px;background:#B8E67F"></div>
<div class="b" style="left:1569px;top:1046px;width:248px;height:56px;background:#EFEEED"></div>
<div class="b" style="left:1819px;top:1046px;width:184px;height:56px;background:#B8E67F"></div>
<div class="b" style="left:2005px;top:1046px;width:184px;height:56px;background:#B8E67F"></div>
<div class="b" style="left:2191px;top:1046px;width:184px;height:56px;background:#B8E67F"></div>
<div class="b" style="left:2377px;top:1046px;width:213px;height:56px;background:#B8E67F"></div>
<div class="b" style="left:2592px;top:1044px;width:202px;height:60px;background:#FFFFFF"></div>
<div class="b" style="left:2592px;top:1046px;width:202px;height:56px;background:#FD2177"></div>
<div class="b" style="left:2796px;top:1044px;width:202px;height:60px;background:#FFFFFF"></div>
<div class="b" style="left:2796px;top:1046px;width:202px;height:56px;background:#FD2177"></div>
<div class="b" style="left:3000px;top:1082px;width:25px;height:20px;background:#FD2177"></div>
<div class="b" style="left:3025px;top:1064px;width:25px;height:38px;background:#FD2177"></div>
<div class="b" style="left:3050px;top:1058px;width:25px;height:44px;background:#FD2177"></div>
<div class="b" style="left:3075px;top:1062px;width:26px;height:40px;background:#FD2177"></div>
<div class="b" style="left:3101px;top:1065px;width:25px;height:37px;background:#FD2177"></div>
<div class="b" style="left:3126px;top:1049px;width:25px;height:53px;background:#FD2177"></div>
<div class="b" style="left:3151px;top:1046px;width:25px;height:56px;background:#FD2177"></div>
<div class="t" style="left:2px;top:1045px;width:109px">17</div>
<div class="fl" style="left:136px;top:1064px"><svg width="28" height="20" viewBox="0 0 36 26" preserveAspectRatio="none"><rect width="36" height="26" fill="#EEEEEE"/><circle cx="18" cy="13" r="7" fill="#E4213C"/></svg></div>
<div class="t l" style="left:181px;top:1045px"><i>日本</i> 02</div>
<div class="t" style="left:619px;top:1045px;width:262px">Trojan</div>
<div class="t" style="left:881px;top:1045px;width:168px">90ms</div>
<div class="t" style="left:1049px;top:1045px;width:215px">331ms</div>
<div class="t" style="left:1264px;top:1045px;width:304px"><i>家宽</i>IP</div>
<div class="t" style="left:1568px;top:1045px;width:250px">MEDIUM(33)</div>
<div class="t" style="left:1818px;top:1045px;width:186px"><i>解锁</i>(JP)</div>
<div class="t" style="left:2004px;top:1045px;width:186px"><i>解锁</i>(JP)</div>
<div class="t" style="left:2190px;top:1045px;width:186px"><i>解锁</i>(JP)</div>
<div class="t" style="left:2376px;top:1045px;width:215px"><i>解锁</i>(JP)</div>
<div class="t" style="left:2591px;top:1045px;width:204px">391.47MB</div>
<div class="t" style="left:2795px;top:1045px;width:204px">523.64MB</div>
<div class="t" style="left:3177px;top:1045px;width:196px;transform:scaleX(1.0589)">Unknown</div>
<div class="b" style="left:882px;top:1102px;width:166px;height:60px;background:#FFFFFF"></div>
<div class="b" style="left:882px;top:1104px;width:166px;height:56px;background:#0DF579"></div>
<div class="b" style="left:1050px;top:1102px;width:213px;height:60px;background:#FFFFFF"></div>
<div class="b" style="left:1050px;top:1104px;width:213px;height:56px;background:#32D966"></div>
<div class="b" style="left:1265px;top:1104px;width:302px;height:56px;background:#B8E67F"></div>
<div class="b" style="left:1569px;top:1104px;width:248px;height:56px;background:#EFEEED"></div>
<div class="b" style="left:1819px;top:1104px;width:184px;height:56px;background:#B8E67F"></div>
<div class="b" style="left:2005px;top:1104px;width:184px;height:56px;background:#B8E67F"></div>
<div class="b" style="left:2191px;top:1104px;width:184px;height:56px;background:#B8E67F"></div>
<div class="b" style="left:2377px;top:1104px;width:213px;height:56px;background:#B8E67F"></div>
<div class="b" style="left:2592px;top:1102px;width:202px;height:60px;background:#FFFFFF"></div>
<div class="b" style="left:2592px;top:1104px;width:202px;height:56px;background:#FD2177"></div>
<div class="b" style="left:2796px;top:1102px;width:202px;height:60px;background:#FFFFFF"></div>
<div class="b" style="left:2796px;top:1104px;width:202px;height:56px;background:#FD2177"></div>
<div class="b" style="left:3000px;top:1138px;width:25px;height:22px;background:#FD2177"></div>
<div class="b" style="left:3025px;top:1107px;width:25px;height:53px;background:#FD2177"></div>
<div class="b" style="left:3050px;top:1107px;width:25px;height:53px;background:#FD2177"></div>
<div class="b" style="left:3075px;top:1108px;width:26px;height:52px;background:#FD2177"></div>
<div class="b" style="left:3101px;top:1107px;width:25px;height:53px;background:#FD2177"></div>
<div class="b" style="left:3126px;top:1104px;width:25px;height:56px;background:#FD2177"></div>
<div class="b" style="left:3151px;top:1108px;width:25px;height:52px;background:#FD2177"></div>
<div class="t" style="left:2px;top:1103px;width:109px">18</div>
<div class="fl" style="left:136px;top:1122px"><svg width="28" height="20" viewBox="0 0 36 26" preserveAspectRatio="none"><rect width="36" height="26" fill="#EEEEEE"/><circle cx="18" cy="13" r="7" fill="#E4213C"/></svg></div>
<div class="t l" style="left:181px;top:1103px"><i>日本</i> 03</div>
<div class="t" style="left:619px;top:1103px;width:262px">Trojan</div>
<div class="t" style="left:881px;top:1103px;width:168px">76ms</div>
<div class="t" style="left:1049px;top:1103px;width:215px">294ms</div>
<div class="t" style="left:1264px;top:1103px;width:304px"><i>家宽</i>IP</div>
<div class="t" style="left:1568px;top:1103px;width:250px">MEDIUM(33)</div>
<div class="t" style="left:1818px;top:1103px;width:186px"><i>解锁</i>(JP)</div>
<div class="t" style="left:2004px;top:1103px;width:186px"><i>解锁</i>(JP)</div>
<div class="t" style="left:2190px;top:1103px;width:186px"><i>解锁</i>(JP)</div>
<div class="t" style="left:2376px;top:1103px;width:215px"><i>解锁</i>(JP)</div>
<div class="t" style="left:2591px;top:1103px;width:204px">410.25MB</div>
<div class="t" style="left:2795px;top:1103px;width:204px">470.98MB</div>
<div class="t" style="left:3177px;top:1103px;width:196px">FullCone</div>
<div class="b" style="left:882px;top:1160px;width:166px;height:60px;background:#FFFFFF"></div>
<div class="b" style="left:882px;top:1162px;width:166px;height:56px;background:#0CF679"></div>
<div class="b" style="left:1050px;top:1160px;width:213px;height:60px;background:#FFFFFF"></div>
<div class="b" style="left:1050px;top:1162px;width:213px;height:56px;background:#31DA66"></div>
<div class="b" style="left:1265px;top:1162px;width:302px;height:56px;background:#B8E67F"></div>
<div class="b" style="left:1569px;top:1162px;width:248px;height:56px;background:#EFEEED"></div>
<div class="b" style="left:1819px;top:1162px;width:184px;height:56px;background:#B8E67F"></div>
<div class="b" style="left:2005px;top:1162px;width:184px;height:56px;background:#B8E67F"></div>
<div class="b" style="left:2191px;top:1162px;width:184px;height:56px;background:#B8E67F"></div>
<div class="b" style="left:2377px;top:1162px;width:213px;height:56px;background:#B8E67F"></div>
<div class="b" style="left:2592px;top:1160px;width:202px;height:60px;background:#FFFFFF"></div>
<div class="b" style="left:2592px;top:1162px;width:202px;height:56px;background:#FD2177"></div>
<div class="b" style="left:2796px;top:1160px;width:202px;height:60px;background:#FFFFFF"></div>
<div class="b" style="left:2796px;top:1162px;width:202px;height:56px;background:#FD2177"></div>
<div class="b" style="left:3000px;top:1195px;width:25px;height:23px;background:#FD2177"></div>
<div class="b" style="left:3025px;top:1166px;width:25px;height:52px;background:#FD2177"></div>
<div class="b" style="left:3050px;top:1172px;width:25px;height:46px;background:#FD2177"></div>
<div class="b" style="left:3075px;top:1167px;width:26px;height:51px;background:#FD2177"></div>
<div class="b" style="left:3101px;top:1171px;width:25px;height:47px;background:#FD2177"></div>
<div class="b" style="left:3126px;top:1180px;width:25px;height:38px;background:#FD2177"></div>
<div class="b" style="left:3151px;top:1162px;width:25px;height:56px;background:#FD2177"></div>
<div class="t" style="left:2px;top:1161px;width:109px">19</div>
<div class="fl" style="left:136px;top:1180px"><svg width="28" height="20" viewBox="0 0 36 26" preserveAspectRatio="none"><rect width="36" height="26" fill="#EEEEEE"/><circle cx="18" cy="13" r="7" fill="#E4213C"/></svg></div>
<div class="t l" style="left:181px;top:1161px"><i>日本</i> 04</div>
<div class="t" style="left:619px;top:1161px;width:262px">Trojan</div>
<div class="t" style="left:881px;top:1161px;width:168px">71ms</div>
<div class="t" style="left:1049px;top:1161px;width:215px">291ms</div>
<div class="t" style="left:1264px;top:1161px;width:304px"><i>家宽</i>IP</div>
<div class="t" style="left:1568px;top:1161px;width:250px">MEDIUM(33)</div>
<div class="t" style="left:1818px;top:1161px;width:186px"><i>解锁</i>(JP)</div>
<div class="t" style="left:2004px;top:1161px;width:186px"><i>解锁</i>(JP)</div>
<div class="t" style="left:2190px;top:1161px;width:186px"><i>解锁</i>(JP)</div>
<div class="t" style="left:2376px;top:1161px;width:215px"><i>解锁</i>(JP)</div>
<div class="t" style="left:2591px;top:1161px;width:204px">413.84MB</div>
<div class="t" style="left:2795px;top:1161px;width:204px">513.26MB</div>
<div class="t" style="left:3177px;top:1161px;width:196px;transform:scaleX(1.0589)">Unknown</div>
<div class="b" style="left:882px;top:1218px;width:166px;height:60px;background:#FFFFFF"></div>
<div class="b" style="left:882px;top:1220px;width:166px;height:56px;background:#0CF679"></div>
<div class="b" style="left:1050px;top:1218px;width:213px;height:60px;background:#FFFFFF"></div>
<div class="b" style="left:1050px;top:1220px;width:213px;height:56px;background:#40CF5F"></div>
<div class="b" style="left:1265px;top:1220px;width:302px;height:56px;background:#B8E67F"></div>
<div class="b" style="left:1569px;top:1220px;width:248px;height:56px;background:#EFEEED"></div>
<div class="b" style="left:1819px;top:1220px;width:184px;height:56px;background:#B8E67F"></div>
<div class="b" style="left:2005px;top:1220px;width:184px;height:56px;background:#B8E67F"></div>
<div class="b" style="left:2191px;top:1220px;width:184px;height:56px;background:#B8E67F"></div>
<div class="b" style="left:2377px;top:1220px;width:213px;height:56px;background:#B8E67F"></div>
<div class="b" style="left:2592px;top:1218px;width:202px;height:60px;background:#FFFFFF"></div>
<div class="b" style="left:2592px;top:1220px;width:202px;height:56px;background:#FD2177"></div>
<div class="b" style="left:2796px;top:1218px;width:202px;height:60px;background:#FFFFFF"></div>
<div class="b" style="left:2796px;top:1220px;width:202px;height:56px;background:#FD2177"></div>
<div class="b" style="left:3000px;top:1230px;width:25px;height:46px;background:#FD2177"></div>
<div class="b" style="left:3025px;top:1220px;width:25px;height:56px;background:#FD2177"></div>
<div class="b" style="left:3050px;top:1229px;width:25px;height:47px;background:#FD2177"></div>
<div class="b" style="left:3075px;top:1228px;width:26px;height:48px;background:#FD2177"></div>
<div class="b" style="left:3101px;top:1236px;width:25px;height:40px;background:#FD2177"></div>
<div class="b" style="left:3126px;top:1248px;width:25px;height:28px;background:#FD2177"></div>
<div class="b" style="left:3151px;top:1255px;width:25px;height:21px;background:#FD2177"></div>
<div class="t" style="left:2px;top:1219px;width:109px">20</div>
<div class="fl" style="left:136px;top:1238px"><svg width="28" height="20" viewBox="0 0 36 26" preserveAspectRatio="none"><rect width="36" height="26" fill="#EEEEEE"/><circle cx="18" cy="13" r="7" fill="#E4213C"/></svg></div>
<div class="t l" style="left:181px;top:1219px"><i>日本</i> 05</div>
<div class="t" style="left:619px;top:1219px;width:262px">Trojan</div>
<div class="t" style="left:881px;top:1219px;width:168px">73ms</div>
<div class="t" style="left:1049px;top:1219px;width:215px">376ms</div>
<div class="t" style="left:1264px;top:1219px;width:304px"><i>家宽</i>IP</div>
<div class="t" style="left:1568px;top:1219px;width:250px">MEDIUM(33)</div>
<div class="t" style="left:1818px;top:1219px;width:186px"><i>解锁</i>(JP)</div>
<div class="t" style="left:2004px;top:1219px;width:186px"><i>解锁</i>(JP)</div>
<div class="t" style="left:2190px;top:1219px;width:186px"><i>解锁</i>(JP)</div>
<div class="t" style="left:2376px;top:1219px;width:215px"><i>解锁</i>(JP)</div>
<div class="t" style="left:2591px;top:1219px;width:204px">191.99MB</div>
<div class="t" style="left:2795px;top:1219px;width:204px">261.11MB</div>
<div class="t" style="left:3177px;top:1219px;width:196px">FullCone</div>
<div class="b" style="left:882px;top:1276px;width:166px;height:60px;background:#FFFFFF"></div>
<div class="b" style="left:882px;top:1278px;width:166px;height:56px;background:#0CF679"></div>
<div class="b" style="left:1050px;top:1276px;width:213px;height:60px;background:#FFFFFF"></div>
<div class="b" style="left:1050px;top:1278px;width:213px;height:56px;background:#33D966"></div>
<div class="b" style="left:1265px;top:1278px;width:302px;height:56px;background:#B8E67F"></div>
<div class="b" style="left:1569px;top:1278px;width:248px;height:56px;background:#EFEEED"></div>
<div class="b" style="left:1819px;top:1278px;width:184px;height:56px;background:#B8E67F"></div>
<div class="b" style="left:2005px;top:1278px;width:184px;height:56px;background:#B8E67F"></div>
<div class="b" style="left:2191px;top:1278px;width:184px;height:56px;background:#B8E67F"></div>
<div class="b" style="left:2377px;top:1278px;width:213px;height:56px;background:#B8E67F"></div>
<div class="b" style="left:2592px;top:1276px;width:202px;height:60px;background:#FFFFFF"></div>
<div class="b" style="left:2592px;top:1278px;width:202px;height:56px;background:#FD2177"></div>
<div class="b" style="left:2796px;top:1276px;width:202px;height:60px;background:#FFFFFF"></div>
<div class="b" style="left:2796px;top:1278px;width:202px;height:56px;background:#FD2177"></div>
<div class="b" style="left:3000px;top:1307px;width:25px;height:27px;background:#FD2177"></div>
<div class="b" style="left:3025px;top:1281px;width:25px;height:53px;background:#FD2177"></div>
<div class="b" style="left:3050px;top:1280px;width:25px;height:54px;background:#FD2177"></div>
<div class="b" style="left:3075px;top:1282px;width:26px;height:52px;background:#FD2177"></div>
<div class="b" style="left:3101px;top:1283px;width:25px;height:51px;background:#FD2177"></div>
<div class="b" style="left:3126px;top:1281px;width:25px;height:53px;background:#FD2177"></div>
<div class="b" style="left:3151px;top:1278px;width:25px;height:56px;background:#FD2177"></div>
<div class="t" style="left:2px;top:1277px;width:109px">21</div>
<div class="fl" style="left:136px;top:1296px"><svg width="28" height="20" viewBox="0 0 36 26" preserveAspectRatio="none"><rect width="36" height="26" fill="#EEEEEE"/><circle cx="18" cy="13" r="7" fill="#E4213C"/></svg></div>
<div class="t l" style="left:181px;top:1277px"><i>日本</i> 06</div>
<div class="t" style="left:619px;top:1277px;width:262px">Trojan</div>
<div class="t" style="left:881px;top:1277px;width:168px">73ms</div>
<div class="t" style="left:1049px;top:1277px;width:215px">298ms</div>
<div class="t" style="left:1264px;top:1277px;width:304px"><i>家宽</i>IP</div>
<div class="t" style="left:1568px;top:1277px;width:250px">LOW(0)</div>
<div class="t" style="left:1818px;top:1277px;width:186px"><i>解锁</i>(JP)</div>
<div class="t" style="left:2004px;top:1277px;width:186px"><i>解锁</i>(JP)</div>
<div class="t" style="left:2190px;top:1277px;width:186px"><i>解锁</i>(JP)</div>
<div class="t" style="left:2376px;top:1277px;width:215px"><i>解锁</i>(JP)</div>
<div class="t" style="left:2591px;top:1277px;width:204px">471.05MB</div>
<div class="t" style="left:2795px;top:1277px;width:204px">535.11MB</div>
<div class="t" style="left:3177px;top:1277px;width:196px;transform:scaleX(1.0589)">Unknown</div>
<div class="b" style="left:882px;top:1334px;width:166px;height:60px;background:#FFFFFF"></div>
<div class="b" style="left:882px;top:1336px;width:166px;height:56px;background:#0DF578"></div>
<div class="b" style="left:1050px;top:1334px;width:213px;height:60px;background:#FFFFFF"></div>
<div class="b" style="left:1050px;top:1336px;width:213px;height:56px;background:#37D664"></div>
<div class="b" style="left:1265px;top:1336px;width:302px;height:56px;background:#B8E67F"></div>
<div class="b" style="left:1569px;top:1336px;width:248px;height:56px;background:#EFEEED"></div>
<div class="b" style="left:1819px;top:1336px;width:184px;height:56px;background:#B8E67F"></div>
<div class="b" style="left:2005px;top:1336px;width:184px;height:56px;background:#B8E67F"></div>
<div class="b" style="left:2191px;top:1336px;width:184px;height:56px;background:#B8E67F"></div>
<div class="b" style="left:2377px;top:1336px;width:213px;height:56px;background:#B8E67F"></div>
<div class="b" style="left:2592px;top:1334px;width:202px;height:60px;background:#FFFFFF"></div>
<div class="b" style="left:2592px;top:1336px;width:202px;height:56px;background:#FD2177"></div>
<div class="b" style="left:2796px;top:1334px;width:202px;height:60px;background:#FFFFFF"></div>
<div class="b" style="left:2796px;top:1336px;width:202px;height:56px;background:#FD2177"></div>
<div class="b" style="left:3000px;top:1354px;width:25px;height:38px;background:#FD2177"></div>
<div class="b" style="left:3025px;top:1357px;width:25px;height:35px;background:#FD2177"></div>
<div class="b" style="left:3050px;top:1336px;width:25px;height:56px;background:#FD2177"></div>
<div class="b" style="left:3075px;top:1350px;width:26px;height:42px;background:#FD2177"></div>
<div class="b" style="left:3101px;top:1355px;width:25px;height:37px;background:#FD2177"></div>
<div class="b" style="left:3126px;top:1366px;width:25px;height:26px;background:#FD2177"></div>
<div class="b" style="left:3151px;top:1377px;width:25px;height:15px;background:#FD2177"></div>
<div class="t" style="left:2px;top:1335px;width:109px">22</div>
<div class="fl" style="left:136px;top:1354px"><svg width="28" height="20" viewBox="0 0 36 26" preserveAspectRatio="none"><rect width="36" height="26" fill="#EEEEEE"/><circle cx="18" cy="13" r="7" fill="#E4213C"/></svg></div>
<div class="t l" style="left:181px;top:1335px"><i>日本</i> 07</div>
<div class="t" style="left:619px;top:1335px;width:262px">Trojan</div>
<div class="t" style="left:881px;top:1335px;width:168px">78ms</div>
<div class="t" style="left:1049px;top:1335px;width:215px">323ms</div>
<div class="t" style="left:1264px;top:1335px;width:304px"><i>家宽</i>IP</div>
<div class="t" style="left:1568px;top:1335px;width:250px">LOW(0)</div>
<div class="t" style="left:1818px;top:1335px;width:186px"><i>解锁</i>(JP)</div>
<div class="t" style="left:2004px;top:1335px;width:186px"><i>解锁</i>(JP)</div>
<div class="t" style="left:2190px;top:1335px;width:186px"><i>解锁</i>(JP)</div>
<div class="t" style="left:2376px;top:1335px;width:215px"><i>解锁</i>(JP)</div>
<div class="t" style="left:2591px;top:1335px;width:204px">202.03MB</div>
<div class="t" style="left:2795px;top:1335px;width:204px">315.44MB</div>
<div class="t" style="left:3177px;top:1335px;width:196px;transform:scaleX(1.0589)">Unknown</div>
<div class="b" style="left:882px;top:1392px;width:166px;height:60px;background:#FFFFFF"></div>
<div class="b" style="left:882px;top:1394px;width:166px;height:56px;background:#0DF579"></div>
<div class="b" style="left:1050px;top:1392px;width:213px;height:60px;background:#FFFFFF"></div>
<div class="b" style="left:1050px;top:1394px;width:213px;height:56px;background:#34D865"></div>
<div class="b" style="left:1265px;top:1394px;width:302px;height:56px;background:#B8E67F"></div>
<div class="b" style="left:1569px;top:1394px;width:248px;height:56px;background:#EFEEED"></div>
<div class="b" style="left:1819px;top:1394px;width:184px;height:56px;background:#B8E67F"></div>
<div class="b" style="left:2005px;top:1394px;width:184px;height:56px;background:#B8E67F"></div>
<div class="b" style="left:2191px;top:1394px;width:184px;height:56px;background:#B8E67F"></div>
<div class="b" style="left:2377px;top:1394px;width:213px;height:56px;background:#B8E67F"></div>
<div class="b" style="left:2592px;top:1392px;width:202px;height:60px;background:#FFFFFF"></div>
<div class="b" style="left:2592px;top:1394px;width:202px;height:56px;background:#FD2177"></div>
<div class="b" style="left:2796px;top:1392px;width:202px;height:60px;background:#FFFFFF"></div>
<div class="b" style="left:2796px;top:1394px;width:202px;height:56px;background:#FD2177"></div>
<div class="b" style="left:3000px;top:1406px;width:25px;height:44px;background:#FD2177"></div>
<div class="b" style="left:3025px;top:1394px;width:25px;height:56px;background:#FD2177"></div>
<div class="b" style="left:3050px;top:1410px;width:25px;height:40px;background:#FD2177"></div>
<div class="b" style="left:3075px;top:1411px;width:26px;height:39px;background:#FD2177"></div>
<div class="b" style="left:3101px;top:1400px;width:25px;height:50px;background:#FD2177"></div>
<div class="b" style="left:3126px;top:1400px;width:25px;height:50px;background:#FD2177"></div>
<div class="b" style="left:3151px;top:1424px;width:25px;height:26px;background:#FD2177"></div>
<div class="t" style="left:2px;top:1393px;width:109px">23</div>
<div class="fl" style="left:136px;top:1412px"><svg width="28" height="20" viewBox="0 0 36 26" preserveAspectRatio="none"><rect width="36" height="26" fill="#EEEEEE"/><circle cx="18" cy="13" r="7" fill="#E4213C"/></svg></div>
<div class="t l" style="left:181px;top:1393px"><i>日本</i> 08</div>
<div class="t" style="left:619px;top:1393px;width:262px">Trojan</div>
<div class="t" style="left:881px;top:1393px;width:168px">75ms</div>
<div class="t" style="left:1049px;top:1393px;width:215px">305ms</div>
<div class="t" style="left:1264px;top:1393px;width:304px"><i>家宽</i>IP</div>
<div class="t" style="left:1568px;top:1393px;width:250px">LOW(0)</div>
<div class="t" style="left:1818px;top:1393px;width:186px"><i>解锁</i>(JP)</div>
<div class="t" style="left:2004px;top:1393px;width:186px"><i>解锁</i>(JP)</div>
<div class="t" style="left:2190px;top:1393px;width:186px"><i>解锁</i>(JP)</div>
<div class="t" style="left:2376px;top:1393px;width:215px"><i>解锁</i>(JP)</div>
<div class="t" style="left:2591px;top:1393px;width:204px">358.35MB</div>
<div class="t" style="left:2795px;top:1393px;width:204px">462.16MB</div>
<div class="t" style="left:3177px;top:1393px;width:196px;transform:scaleX(1.0589)">Unknown</div>
<div class="b" style="left:882px;top:1450px;width:166px;height:60px;background:#FFFFFF"></div>
<div class="b" style="left:882px;top:1452px;width:166px;height:56px;background:#18ED73"></div>
<div class="b" style="left:1050px;top:1450px;width:213px;height:60px;background:#FFFFFF"></div>
<div class="b" style="left:1050px;top:1452px;width:213px;height:56px;background:#57BE54"></div>
<div class="b" style="left:1265px;top:1452px;width:302px;height:56px;background:#FCD596"></div>
<div class="b" style="left:1569px;top:1452px;width:248px;height:56px;background:#EFEEED"></div>
<div class="b" style="left:1819px;top:1452px;width:184px;height:56px;background:#B8E67F"></div>
<div class="b" style="left:2005px;top:1450px;width:184px;height:60px;background:#FFFFFF"></div>
<div class="b" style="left:2005px;top:1452px;width:184px;height:56px;background:#8E8D8F"></div>
<div class="b" style="left:2191px;top:1452px;width:184px;height:56px;background:#B8E67F"></div>
<div class="b" style="left:2377px;top:1452px;width:213px;height:56px;background:#B8E67F"></div>
<div class="b" style="left:2592px;top:1450px;width:202px;height:60px;background:#FFFFFF"></div>
<div class="b" style="left:2592px;top:1452px;width:202px;height:56px;background:#FD2177"></div>
<div class="b" style="left:2796px;top:1450px;width:202px;height:60px;background:#FFFFFF"></div>
<div class="b" style="left:2796px;top:1452px;width:202px;height:56px;background:#FD2177"></div>
<div class="b" style="left:3000px;top:1499px;width:25px;height:9px;background:#FD2177"></div>
<div class="b" style="left:3025px;top:1495px;width:25px;height:13px;background:#FD2177"></div>
<div class="b" style="left:3050px;top:1486px;width:25px;height:22px;background:#FD2177"></div>
<div class="b" style="left:3075px;top:1452px;width:26px;height:56px;background:#FD2177"></div>
<div class="b" style="left:3101px;top:1460px;width:25px;height:48px;background:#FD2177"></div>
<div class="b" style="left:3126px;top:1471px;width:25px;height:37px;background:#FD2177"></div>
<div class="b" style="left:3151px;top:1462px;width:25px;height:46px;background:#FD2177"></div>
<div class="t" style="left:2px;top:1451px;width:109px">24</div>
<div class="fl" style="left:136px;top:1470px"><svg width="28" height="20" viewBox="0 0 36 26" preserveAspectRatio="none"><rect width="36" height="26" fill="#EEEEEE"/><circle cx="18" cy="13" r="6" fill="#003478"/><path d="M12 13a6 6 0 0 1 12 0a3 3 0 0 1-6 0a3 3 0 0 0-6 0z" fill="#C60C30"/><g stroke="#292F33" stroke-width="1.6"><path d="M4.5 6.5l3.5-3.5M6 8l3.5-3.5M7.5 9.5l3.5-3.5"/><path d="M25 6l3.5 3.5M26.5 4.5l3.5 3.5M28 3l3.5 3.5"/><path d="M4.5 19.5l3.5 3.5M6 18l3.5 3.5M7.5 16.5l3.5 3.5"/><path d="M25 20l3.5-3.5M26.5 21.5l3.5-3.5M28 23l3.5-3.5"/></g></svg></div>
<div class="t l" style="left:181px;top:1451px"><i>韩国</i> 01</div>
<div class="t" style="left:619px;top:1451px;width:262px">Trojan</div>
<div class="t" style="left:881px;top:1451px;width:168px">144ms</div>
<div class="t" style="left:1049px;top:1451px;width:215px">509ms</div>
<div class="t" style="left:1264px;top:1451px;width:304px"><i>商宽</i>/<i>机房</i>IP</div>
<div class="t" style="left:1568px;top:1451px;width:250px">LOW(4)</div>
<div class="t" style="left:1818px;top:1451px;width:186px"><i>解锁</i>(KR)</div>
<div class="t" style="left:2004px;top:1451px;width:186px">N/A</div>
<div class="t" style="left:2190px;top:1451px;width:186px"><i>解锁</i>(KR)</div>
<div class="t" style="left:2376px;top:1451px;width:215px"><i>解锁</i>(KR)</div>
<div class="t" style="left:2591px;top:1451px;width:204px">201.26MB</div>
<div class="t" style="left:2795px;top:1451px;width:204px">343.39MB</div>
<div class="t" style="left:3177px;top:1451px;width:196px;transform:scaleX(1.0589)">Unknown</div>
<div class="b" style="left:882px;top:1508px;width:166px;height:60px;background:#FFFFFF"></div>
<div class="b" style="left:882px;top:1510px;width:166px;height:56px;background:#18ED73"></div>
<div class="b" style="left:1050px;top:1508px;width:213px;height:60px;background:#FFFFFF"></div>
<div class="b" style="left:1050px;top:1510px;width:213px;height:56px;background:#56BE54"></div>
<div class="b" style="left:1265px;top:1510px;width:302px;height:56px;background:#FCD596"></div>
<div class="b" style="left:1569px;top:1510px;width:248px;height:56px;background:#EFEEED"></div>
<div class="b" style="left:1819px;top:1510px;width:184px;height:56px;background:#B8E67F"></div>
<div class="b" style="left:2005px;top:1508px;width:184px;height:60px;background:#FFFFFF"></div>
<div class="b" style="left:2005px;top:1510px;width:184px;height:56px;background:#8E8D8F"></div>
<div class="b" style="left:2191px;top:1510px;width:184px;height:56px;background:#B8E67F"></div>
<div class="b" style="left:2377px;top:1510px;width:213px;height:56px;background:#B8E67F"></div>
<div class="b" style="left:2592px;top:1508px;width:202px;height:60px;background:#FFFFFF"></div>
<div class="b" style="left:2592px;top:1510px;width:202px;height:56px;background:#F93E6D"></div>
<div class="b" style="left:2796px;top:1508px;width:202px;height:60px;background:#FFFFFF"></div>
<div class="b" style="left:2796px;top:1510px;width:202px;height:56px;background:#FD2177"></div>
<div class="b" style="left:3000px;top:1513px;width:25px;height:53px;background:#FD2177"></div>
<div class="b" style="left:3025px;top:1510px;width:25px;height:56px;background:#FD2177"></div>
<div class="b" style="left:3050px;top:1519px;width:25px;height:47px;background:#FD2177"></div>
<div class="b" style="left:3075px;top:1560px;width:26px;height:6px;background:#BBCCFF"></div>
<div class="b" style="left:3101px;top:1539px;width:25px;height:27px;background:#FF5A6A"></div>
<div class="b" style="left:3126px;top:1565px;width:25px;height:1px;background:#BBDDEE"></div>
<div class="b" style="left:3151px;top:1529px;width:25px;height:37px;background:#FF2F70"></div>
<div class="t" style="left:2px;top:1509px;width:109px">25</div>
<div class="fl" style="left:136px;top:1528px"><svg width="28" height="20" viewBox="0 0 36 26" preserveAspectRatio="none"><rect width="36" height="26" fill="#EEEEEE"/><circle cx="18" cy="13" r="6" fill="#003478"/><path d="M12 13a6 6 0 0 1 12 0a3 3 0 0 1-6 0a3 3 0 0 0-6 0z" fill="#C60C30"/><g stroke="#292F33" stroke-width="1.6"><path d="M4.5 6.5l3.5-3.5M6 8l3.5-3.5M7.5 9.5l3.5-3.5"/><path d="M25 6l3.5 3.5M26.5 4.5l3.5 3.5M28 3l3.5 3.5"/><path d="M4.5 19.5l3.5 3.5M6 18l3.5 3.5M7.5 16.5l3.5 3.5"/><path d="M25 20l3.5-3.5M26.5 21.5l3.5-3.5M28 23l3.5-3.5"/></g></svg></div>
<div class="t l" style="left:181px;top:1509px"><i>韩国</i> 02</div>
<div class="t" style="left:619px;top:1509px;width:262px">Trojan</div>
<div class="t" style="left:881px;top:1509px;width:168px">143ms</div>
<div class="t" style="left:1049px;top:1509px;width:215px">507ms</div>
<div class="t" style="left:1264px;top:1509px;width:304px"><i>商宽</i>/<i>机房</i>IP|VPN</div>
<div class="t" style="left:1568px;top:1509px;width:250px">LOW(4)</div>
<div class="t" style="left:1818px;top:1509px;width:186px"><i>解锁</i>(KR)</div>
<div class="t" style="left:2004px;top:1509px;width:186px">N/A</div>
<div class="t" style="left:2190px;top:1509px;width:186px"><i>解锁</i>(KR)</div>
<div class="t" style="left:2376px;top:1509px;width:215px"><i>解锁</i>(KR)</div>
<div class="t" style="left:2591px;top:1509px;width:204px">41.06MB</div>
<div class="t" style="left:2795px;top:1509px;width:204px">70.25MB</div>
<div class="t" style="left:3177px;top:1509px;width:196px">FullCone</div>
<div class="b" style="left:882px;top:1566px;width:166px;height:60px;background:#FFFFFF"></div>
<div class="b" style="left:882px;top:1568px;width:166px;height:56px;background:#1BEB72"></div>
<div class="b" style="left:1050px;top:1566px;width:213px;height:60px;background:#FFFFFF"></div>
<div class="b" style="left:1050px;top:1568px;width:213px;height:56px;background:#7BA242"></div>
<div class="b" style="left:1265px;top:1568px;width:302px;height:56px;background:#B8E67F"></div>
<div class="b" style="left:1569px;top:1568px;width:248px;height:56px;background:#EFEEED"></div>
<div class="b" style="left:1819px;top:1566px;width:184px;height:60px;background:#FFFFFF"></div>
<div class="b" style="left:1819px;top:1568px;width:184px;height:56px;background:#8E8D8F"></div>
<div class="b" style="left:2005px;top:1568px;width:184px;height:56px;background:#B8E67F"></div>
<div class="b" style="left:2191px;top:1568px;width:184px;height:56px;background:#B8E67F"></div>
<div class="b" style="left:2377px;top:1568px;width:213px;height:56px;background:#FCD596"></div>
<div class="b" style="left:2592px;top:1566px;width:202px;height:60px;background:#FFFFFF"></div>
<div class="b" style="left:2592px;top:1568px;width:202px;height:56px;background:#FD2177"></div>
<div class="b" style="left:2796px;top:1566px;width:202px;height:60px;background:#FFFFFF"></div>
<div class="b" style="left:2796px;top:1568px;width:202px;height:56px;background:#FD2177"></div>
<div class="b" style="left:3000px;top:1623px;width:25px;height:1px;background:#AABBF0"></div>
<div class="b" style="left:3025px;top:1597px;width:25px;height:27px;background:#FD2177"></div>
<div class="b" style="left:3050px;top:1568px;width:25px;height:56px;background:#FD2177"></div>
<div class="b" style="left:3075px;top:1615px;width:26px;height:9px;background:#FF5A6A"></div>
<div class="b" style="left:3101px;top:1623px;width:25px;height:1px;background:#BBDDEE"></div>
<div class="b" style="left:3126px;top:1616px;width:25px;height:8px;background:#FF5A6A"></div>
<div class="b" style="left:3151px;top:1620px;width:25px;height:4px;background:#BBA8F8"></div>
<div class="t" style="left:2px;top:1567px;width:109px">26</div>
<div class="fl" style="left:136px;top:1586px"><svg width="28" height="20" viewBox="0 0 36 26" preserveAspectRatio="none"><rect width="36" height="26" fill="#00247D"/><rect width="18" height="13" fill="#00247D"/><path d="M0 0L18 13M18 0L0 13" stroke="#fff" stroke-width="2.6"/><path d="M0 0L18 13M18 0L0 13" stroke="#CF1B2B" stroke-width="1"/><path d="M9 0V13M0 6.5H18" stroke="#fff" stroke-width="4"/><path d="M9 0V13M0 6.5H18" stroke="#CF1B2B" stroke-width="2.2"/><g fill="#fff"><circle cx="9" cy="19.5" r="2.2"/><circle cx="27" cy="5" r="1.3"/><circle cx="23" cy="11" r="1.3"/><circle cx="31" cy="10" r="1.3"/><circle cx="27" cy="21" r="1.4"/><circle cx="29.5" cy="14" r="0.8"/></g></svg></div>
<div class="t l" style="left:181px;top:1567px"><i>澳大利亚</i> 01</div>
<div class="t" style="left:619px;top:1567px;width:262px">Trojan</div>
<div class="t" style="left:881px;top:1567px;width:168px">157ms</div>
<div class="t" style="left:1049px;top:1567px;width:215px">723ms</div>
<div class="t" style="left:1264px;top:1567px;width:304px"><i>家宽</i>IP</div>
<div class="t" style="left:1568px;top:1567px;width:250px">LOW(4)</div>
<div class="t" style="left:1818px;top:1567px;width:186px"><i>查询失败</i></div>
<div class="t" style="left:2004px;top:1567px;width:186px"><i>解锁</i>(JP)</div>
<div class="t" style="left:2190px;top:1567px;width:186px"><i>解锁</i>(AU)</div>
<div class="t" style="left:2376px;top:1567px;width:215px"><i>仅网页</i>(AU)</div>
<div class="t" style="left:2591px;top:1567px;width:204px">57.08MB</div>
<div class="t" style="left:2795px;top:1567px;width:204px">204.12MB</div>
<div class="t" style="left:3177px;top:1567px;width:196px;transform:scaleX(1.0589)">Unknown</div>
<div class="b" style="left:882px;top:1624px;width:166px;height:60px;background:#FFFFFF"></div>
<div class="b" style="left:882px;top:1626px;width:166px;height:56px;background:#1CEA71"></div>
<div class="b" style="left:1050px;top:1624px;width:213px;height:60px;background:#FFFFFF"></div>
<div class="b" style="left:1050px;top:1626px;width:213px;height:56px;background:#6AAF4A"></div>
<div class="b" style="left:1265px;top:1626px;width:302px;height:56px;background:#B8E67F"></div>
<div class="b" style="left:1569px;top:1626px;width:248px;height:56px;background:#EFEEED"></div>
<div class="b" style="left:1819px;top:1624px;width:184px;height:60px;background:#FFFFFF"></div>
<div class="b" style="left:1819px;top:1626px;width:184px;height:56px;background:#8E8D8F"></div>
<div class="b" style="left:2005px;top:1626px;width:184px;height:56px;background:#B8E67F"></div>
<div class="b" style="left:2191px;top:1626px;width:184px;height:56px;background:#B8E67F"></div>
<div class="b" style="left:2377px;top:1626px;width:213px;height:56px;background:#FCD596"></div>
<div class="b" style="left:2592px;top:1624px;width:202px;height:60px;background:#FFFFFF"></div>
<div class="b" style="left:2592px;top:1626px;width:202px;height:56px;background:#FD2177"></div>
<div class="b" style="left:2796px;top:1624px;width:202px;height:60px;background:#FFFFFF"></div>
<div class="b" style="left:2796px;top:1626px;width:202px;height:56px;background:#FD2177"></div>
<div class="b" style="left:3000px;top:1674px;width:25px;height:8px;background:#D585C5"></div>
<div class="b" style="left:3025px;top:1638px;width:25px;height:44px;background:#FD2177"></div>
<div class="b" style="left:3050px;top:1626px;width:25px;height:56px;background:#FD2177"></div>
<div class="b" style="left:3075px;top:1629px;width:26px;height:53px;background:#FD2177"></div>
<div class="b" style="left:3101px;top:1672px;width:25px;height:10px;background:#EE7088"></div>
<div class="b" style="left:3126px;top:1670px;width:25px;height:12px;background:#FF5A6A"></div>
<div class="b" style="left:3151px;top:1675px;width:25px;height:7px;background:#C890EE"></div>
<div class="t" style="left:2px;top:1625px;width:109px">27</div>
<div class="fl" style="left:136px;top:1644px"><svg width="28" height="20" viewBox="0 0 36 26" preserveAspectRatio="none"><rect width="36" height="26" fill="#00247D"/><rect width="18" height="13" fill="#00247D"/><path d="M0 0L18 13M18 0L0 13" stroke="#fff" stroke-width="2.6"/><path d="M0 0L18 13M18 0L0 13" stroke="#CF1B2B" stroke-width="1"/><path d="M9 0V13M0 6.5H18" stroke="#fff" stroke-width="4"/><path d="M9 0V13M0 6.5H18" stroke="#CF1B2B" stroke-width="2.2"/><g fill="#fff"><circle cx="9" cy="19.5" r="2.2"/><circle cx="27" cy="5" r="1.3"/><circle cx="23" cy="11" r="1.3"/><circle cx="31" cy="10" r="1.3"/><circle cx="27" cy="21" r="1.4"/><circle cx="29.5" cy="14" r="0.8"/></g></svg></div>
<div class="t l" style="left:181px;top:1625px"><i>澳大利亚</i> 02</div>
<div class="t" style="left:619px;top:1625px;width:262px">Trojan</div>
<div class="t" style="left:881px;top:1625px;width:168px">165ms</div>
<div class="t" style="left:1049px;top:1625px;width:215px">625ms</div>
<div class="t" style="left:1264px;top:1625px;width:304px"><i>家宽</i>IP</div>
<div class="t" style="left:1568px;top:1625px;width:250px">MEDIUM(24)</div>
<div class="t" style="left:1818px;top:1625px;width:186px"><i>查询失败</i></div>
<div class="t" style="left:2004px;top:1625px;width:186px"><i>解锁</i>(JP)</div>
<div class="t" style="left:2190px;top:1625px;width:186px"><i>解锁</i>(AU)</div>
<div class="t" style="left:2376px;top:1625px;width:215px"><i>仅网页</i>(AU)</div>
<div class="t" style="left:2591px;top:1625px;width:204px">73.30MB</div>
<div class="t" style="left:2795px;top:1625px;width:204px">148.53MB</div>
<div class="t" style="left:3177px;top:1625px;width:196px">FullCone</div>
<div class="b" style="left:882px;top:1682px;width:166px;height:60px;background:#FFFFFF"></div>
<div class="b" style="left:882px;top:1684px;width:166px;height:56px;background:#10F377"></div>
<div class="b" style="left:1050px;top:1682px;width:213px;height:60px;background:#FFFFFF"></div>
<div class="b" style="left:1050px;top:1684px;width:213px;height:56px;background:#39D462"></div>
<div class="b" style="left:1265px;top:1684px;width:302px;height:56px;background:#B8E67F"></div>
<div class="b" style="left:1569px;top:1684px;width:248px;height:56px;background:#EFEEED"></div>
<div class="b" style="left:1819px;top:1684px;width:184px;height:56px;background:#B8E67F"></div>
<div class="b" style="left:2005px;top:1682px;width:184px;height:60px;background:#FFFFFF"></div>
<div class="b" style="left:2005px;top:1684px;width:184px;height:56px;background:#EF6A72"></div>
<div class="b" style="left:2191px;top:1684px;width:184px;height:56px;background:#B8E67F"></div>
<div class="b" style="left:2377px;top:1684px;width:213px;height:56px;background:#B8E67F"></div>
<div class="b" style="left:2592px;top:1682px;width:202px;height:60px;background:#FFFFFF"></div>
<div class="b" style="left:2592px;top:1684px;width:202px;height:56px;background:#FD2177"></div>
<div class="b" style="left:2796px;top:1682px;width:202px;height:60px;background:#FFFFFF"></div>
<div class="b" style="left:2796px;top:1684px;width:202px;height:56px;background:#FD2177"></div>
<div class="b" style="left:3000px;top:1704px;width:25px;height:36px;background:#FD2177"></div>
<div class="b" style="left:3025px;top:1684px;width:25px;height:56px;background:#FD2177"></div>
<div class="b" style="left:3050px;top:1695px;width:25px;height:45px;background:#FD2177"></div>
<div class="b" style="left:3075px;top:1698px;width:26px;height:42px;background:#FD2177"></div>
<div class="b" style="left:3101px;top:1698px;width:25px;height:42px;background:#FD2177"></div>
<div class="b" style="left:3126px;top:1694px;width:25px;height:46px;background:#FD2177"></div>
<div class="b" style="left:3151px;top:1699px;width:25px;height:41px;background:#FD2177"></div>
<div class="t" style="left:2px;top:1683px;width:109px">28</div>
<div class="fl" style="left:136px;top:1702px"><svg width="28" height="20" viewBox="0 0 36 26" preserveAspectRatio="none"><rect width="36" height="26" fill="#EEEEEE"/><rect width="36" height="13" fill="#ED2939"/><circle cx="8" cy="6.5" r="4" fill="#fff"/><circle cx="9.6" cy="6.5" r="3.6" fill="#ED2939"/><g fill="#fff"><circle cx="12.5" cy="3.8" r=".8"/><circle cx="15" cy="5.6" r=".8"/><circle cx="14" cy="8.5" r=".8"/><circle cx="11" cy="8.5" r=".8"/><circle cx="10" cy="5.6" r=".8"/></g></svg></div>
<div class="t l" style="left:181px;top:1683px"><i>新加坡</i> 01</div>
<div class="t" style="left:619px;top:1683px;width:262px">Trojan</div>
<div class="t" style="left:881px;top:1683px;width:168px">94ms</div>
<div class="t" style="left:1049px;top:1683px;width:215px">338ms</div>
<div class="t" style="left:1264px;top:1683px;width:304px"><i>家宽</i>IP</div>
<div class="t" style="left:1568px;top:1683px;width:250px">LOW(0)</div>
<div class="t" style="left:1818px;top:1683px;width:186px"><i>解锁</i>(SG)</div>
<div class="t" style="left:2004px;top:1683px;width:186px"><i>失败</i></div>
<div class="t" style="left:2190px;top:1683px;width:186px"><i>解锁</i>(SG)</div>
<div class="t" style="left:2376px;top:1683px;width:215px"><i>解锁</i>(SG)</div>
<div class="t" style="left:2591px;top:1683px;width:204px">251.12MB</div>
<div class="t" style="left:2795px;top:1683px;width:204px">316.90MB</div>
<div class="t" style="left:3177px;top:1683px;width:196px;transform:scaleX(1.0589)">Unknown</div>
<div class="b" style="left:882px;top:1740px;width:166px;height:60px;background:#FFFFFF"></div>
<div class="b" style="left:882px;top:1742px;width:166px;height:56px;background:#09F87B"></div>
<div class="b" style="left:1050px;top:1740px;width:213px;height:60px;background:#FFFFFF"></div>
<div class="b" style="left:1050px;top:1742px;width:213px;height:56px;background:#23E56D"></div>
<div class="b" style="left:1265px;top:1742px;width:302px;height:56px;background:#B8E67F"></div>
<div class="b" style="left:1569px;top:1742px;width:248px;height:56px;background:#EFEEED"></div>
<div class="b" style="left:1819px;top:1742px;width:184px;height:56px;background:#B8E67F"></div>
<div class="b" style="left:2005px;top:1740px;width:184px;height:60px;background:#FFFFFF"></div>
<div class="b" style="left:2005px;top:1742px;width:184px;height:56px;background:#EF6A72"></div>
<div class="b" style="left:2191px;top:1742px;width:184px;height:56px;background:#B8E67F"></div>
<div class="b" style="left:2377px;top:1742px;width:213px;height:56px;background:#B8E67F"></div>
<div class="b" style="left:2592px;top:1740px;width:202px;height:60px;background:#FFFFFF"></div>
<div class="b" style="left:2592px;top:1742px;width:202px;height:56px;background:#FD2177"></div>
<div class="b" style="left:2796px;top:1740px;width:202px;height:60px;background:#FFFFFF"></div>
<div class="b" style="left:2796px;top:1742px;width:202px;height:56px;background:#FD2177"></div>
<div class="b" style="left:3000px;top:1753px;width:25px;height:45px;background:#FD2177"></div>
<div class="b" style="left:3025px;top:1757px;width:25px;height:41px;background:#FD2177"></div>
<div class="b" style="left:3050px;top:1749px;width:25px;height:49px;background:#FD2177"></div>
<div class="b" style="left:3075px;top:1752px;width:26px;height:46px;background:#FD2177"></div>
<div class="b" style="left:3101px;top:1753px;width:25px;height:45px;background:#FD2177"></div>
<div class="b" style="left:3126px;top:1742px;width:25px;height:56px;background:#FD2177"></div>
<div class="b" style="left:3151px;top:1755px;width:25px;height:43px;background:#FD2177"></div>
<div class="t" style="left:2px;top:1741px;width:109px">29</div>
<div class="fl" style="left:136px;top:1760px"><svg width="28" height="20" viewBox="0 0 36 26" preserveAspectRatio="none"><rect width="36" height="26" fill="#EEEEEE"/><rect width="36" height="13" fill="#ED2939"/><circle cx="8" cy="6.5" r="4" fill="#fff"/><circle cx="9.6" cy="6.5" r="3.6" fill="#ED2939"/><g fill="#fff"><circle cx="12.5" cy="3.8" r=".8"/><circle cx="15" cy="5.6" r=".8"/><circle cx="14" cy="8.5" r=".8"/><circle cx="11" cy="8.5" r=".8"/><circle cx="10" cy="5.6" r=".8"/></g></svg></div>
<div class="t l" style="left:181px;top:1741px"><i>新加坡</i> 02</div>
<div class="t" style="left:619px;top:1741px;width:262px">Trojan</div>
<div class="t" style="left:881px;top:1741px;width:168px">52ms</div>
<div class="t" style="left:1049px;top:1741px;width:215px">207ms</div>
<div class="t" style="left:1264px;top:1741px;width:304px"><i>家宽</i>IP</div>
<div class="t" style="left:1568px;top:1741px;width:250px">LOW(0)</div>
<div class="t" style="left:1818px;top:1741px;width:186px"><i>解锁</i>(SG)</div>
<div class="t" style="left:2004px;top:1741px;width:186px"><i>失败</i></div>
<div class="t" style="left:2190px;top:1741px;width:186px"><i>解锁</i>(SG)</div>
<div class="t" style="left:2376px;top:1741px;width:215px"><i>解锁</i>(SG)</div>
<div class="t" style="left:2591px;top:1741px;width:204px">275.96MB</div>
<div class="t" style="left:2795px;top:1741px;width:204px">330.23MB</div>
<div class="t" style="left:3177px;top:1741px;width:196px">FullCone</div>
<div class="b" style="left:882px;top:1798px;width:166px;height:60px;background:#FFFFFF"></div>
<div class="b" style="left:882px;top:1800px;width:166px;height:56px;background:#12F276"></div>
<div class="b" style="left:1050px;top:1798px;width:213px;height:60px;background:#FFFFFF"></div>
<div class="b" style="left:1050px;top:1800px;width:213px;height:56px;background:#3CD261"></div>
<div class="b" style="left:1265px;top:1800px;width:302px;height:56px;background:#B8E67F"></div>
<div class="b" style="left:1569px;top:1800px;width:248px;height:56px;background:#EFEEED"></div>
<div class="b" style="left:1819px;top:1800px;width:184px;height:56px;background:#B8E67F"></div>
<div class="b" style="left:2005px;top:1798px;width:184px;height:60px;background:#FFFFFF"></div>
<div class="b" style="left:2005px;top:1800px;width:184px;height:56px;background:#EF6A72"></div>
<div class="b" style="left:2191px;top:1800px;width:184px;height:56px;background:#B8E67F"></div>
<div class="b" style="left:2377px;top:1800px;width:213px;height:56px;background:#B8E67F"></div>
<div class="b" style="left:2592px;top:1798px;width:202px;height:60px;background:#FFFFFF"></div>
<div class="b" style="left:2592px;top:1800px;width:202px;height:56px;background:#FD2177"></div>
<div class="b" style="left:2796px;top:1798px;width:202px;height:60px;background:#FFFFFF"></div>
<div class="b" style="left:2796px;top:1800px;width:202px;height:56px;background:#FD2177"></div>
<div class="b" style="left:3000px;top:1821px;width:25px;height:35px;background:#FD2177"></div>
<div class="b" style="left:3025px;top:1817px;width:25px;height:39px;background:#FD2177"></div>
<div class="b" style="left:3050px;top:1809px;width:25px;height:47px;background:#FD2177"></div>
<div class="b" style="left:3075px;top:1804px;width:26px;height:52px;background:#FD2177"></div>
<div class="b" style="left:3101px;top:1801px;width:25px;height:55px;background:#FD2177"></div>
<div class="b" style="left:3126px;top:1800px;width:25px;height:56px;background:#FD2177"></div>
<div class="b" style="left:3151px;top:1807px;width:25px;height:49px;background:#FD2177"></div>
<div class="t" style="left:2px;top:1799px;width:109px">30</div>
<div class="fl" style="left:136px;top:1818px"><svg width="28" height="20" viewBox="0 0 36 26" preserveAspectRatio="none"><rect width="36" height="26" fill="#EEEEEE"/><rect width="36" height="13" fill="#ED2939"/><circle cx="8" cy="6.5" r="4" fill="#fff"/><circle cx="9.6" cy="6.5" r="3.6" fill="#ED2939"/><g fill="#fff"><circle cx="12.5" cy="3.8" r=".8"/><circle cx="15" cy="5.6" r=".8"/><circle cx="14" cy="8.5" r=".8"/><circle cx="11" cy="8.5" r=".8"/><circle cx="10" cy="5.6" r=".8"/></g></svg></div>
<div class="t l" style="left:181px;top:1799px"><i>新加坡</i> 03</div>
<div class="t" style="left:619px;top:1799px;width:262px">Trojan</div>
<div class="t" style="left:881px;top:1799px;width:168px">103ms</div>
<div class="t" style="left:1049px;top:1799px;width:215px">355ms</div>
<div class="t" style="left:1264px;top:1799px;width:304px"><i>家宽</i>IP</div>
<div class="t" style="left:1568px;top:1799px;width:250px">LOW(0)</div>
<div class="t" style="left:1818px;top:1799px;width:186px"><i>解锁</i>(SG)</div>
<div class="t" style="left:2004px;top:1799px;width:186px"><i>失败</i></div>
<div class="t" style="left:2190px;top:1799px;width:186px"><i>解锁</i>(SG)</div>
<div class="t" style="left:2376px;top:1799px;width:215px"><i>解锁</i>(SG)</div>
<div class="t" style="left:2591px;top:1799px;width:204px">267.09MB</div>
<div class="t" style="left:2795px;top:1799px;width:204px">312.92MB</div>
<div class="t" style="left:3177px;top:1799px;width:196px;transform:scaleX(1.0589)">Unknown</div>
<div class="b" style="left:882px;top:1856px;width:166px;height:60px;background:#FFFFFF"></div>
<div class="b" style="left:882px;top:1858px;width:166px;height:56px;background:#10F377"></div>
<div class="b" style="left:1050px;top:1856px;width:213px;height:60px;background:#FFFFFF"></div>
<div class="b" style="left:1050px;top:1858px;width:213px;height:56px;background:#37D664"></div>
<div class="b" style="left:1265px;top:1858px;width:302px;height:56px;background:#B8E67F"></div>
<div class="b" style="left:1569px;top:1858px;width:248px;height:56px;background:#EFEEED"></div>
<div class="b" style="left:1819px;top:1858px;width:184px;height:56px;background:#B8E67F"></div>
<div class="b" style="left:2005px;top:1856px;width:184px;height:60px;background:#FFFFFF"></div>
<div class="b" style="left:2005px;top:1858px;width:184px;height:56px;background:#EF6A72"></div>
<div class="b" style="left:2191px;top:1858px;width:184px;height:56px;background:#B8E67F"></div>
<div class="b" style="left:2377px;top:1858px;width:213px;height:56px;background:#B8E67F"></div>
<div class="b" style="left:2592px;top:1856px;width:202px;height:60px;background:#FFFFFF"></div>
<div class="b" style="left:2592px;top:1858px;width:202px;height:56px;background:#FD2177"></div>
<div class="b" style="left:2796px;top:1856px;width:202px;height:60px;background:#FFFFFF"></div>
<div class="b" style="left:2796px;top:1858px;width:202px;height:56px;background:#FD2177"></div>
<div class="b" style="left:3000px;top:1876px;width:25px;height:38px;background:#FD2177"></div>
<div class="b" style="left:3025px;top:1868px;width:25px;height:46px;background:#FD2177"></div>
<div class="b" style="left:3050px;top:1876px;width:25px;height:38px;background:#FD2177"></div>
<div class="b" style="left:3075px;top:1870px;width:26px;height:44px;background:#FD2177"></div>
<div class="b" style="left:3101px;top:1865px;width:25px;height:49px;background:#FD2177"></div>
<div class="b" style="left:3126px;top:1858px;width:25px;height:56px;background:#FD2177"></div>
<div class="b" style="left:3151px;top:1874px;width:25px;height:40px;background:#FD2177"></div>
<div class="t" style="left:2px;top:1857px;width:109px">31</div>
<div class="fl" style="left:136px;top:1876px"><svg width="28" height="20" viewBox="0 0 36 26" preserveAspectRatio="none"><rect width="36" height="26" fill="#EEEEEE"/><rect width="36" height="13" fill="#ED2939"/><circle cx="8" cy="6.5" r="4" fill="#fff"/><circle cx="9.6" cy="6.5" r="3.6" fill="#ED2939"/><g fill="#fff"><circle cx="12.5" cy="3.8" r=".8"/><circle cx="15" cy="5.6" r=".8"/><circle cx="14" cy="8.5" r=".8"/><circle cx="11" cy="8.5" r=".8"/><circle cx="10" cy="5.6" r=".8"/></g></svg></div>
<div class="t l" style="left:181px;top:1857px"><i>新加坡</i> 04</div>
<div class="t" style="left:619px;top:1857px;width:262px">Trojan</div>
<div class="t" style="left:881px;top:1857px;width:168px">96ms</div>
<div class="t" style="left:1049px;top:1857px;width:215px">323ms</div>
<div class="t" style="left:1264px;top:1857px;width:304px"><i>家宽</i>IP</div>
<div class="t" style="left:1568px;top:1857px;width:250px">LOW(0)</div>
<div class="t" style="left:1818px;top:1857px;width:186px"><i>解锁</i>(SG)</div>
<div class="t" style="left:2004px;top:1857px;width:186px"><i>失败</i></div>
<div class="t" style="left:2190px;top:1857px;width:186px"><i>解锁</i>(SG)</div>
<div class="t" style="left:2376px;top:1857px;width:215px"><i>解锁</i>(SG)</div>
<div class="t" style="left:2591px;top:1857px;width:204px">260.73MB</div>
<div class="t" style="left:2795px;top:1857px;width:204px">327.76MB</div>
<div class="t" style="left:3177px;top:1857px;width:196px;transform:scaleX(1.0589)">Unknown</div>
<div class="b" style="left:882px;top:1914px;width:166px;height:60px;background:#FFFFFF"></div>
<div class="b" style="left:882px;top:1916px;width:166px;height:56px;background:#09F87B"></div>
<div class="b" style="left:1050px;top:1914px;width:213px;height:60px;background:#FFFFFF"></div>
<div class="b" style="left:1050px;top:1916px;width:213px;height:56px;background:#21E66E"></div>
<div class="b" style="left:1265px;top:1916px;width:302px;height:56px;background:#B8E67F"></div>
<div class="b" style="left:1569px;top:1916px;width:248px;height:56px;background:#EFEEED"></div>
<div class="b" style="left:1819px;top:1916px;width:184px;height:56px;background:#B8E67F"></div>
<div class="b" style="left:2005px;top:1914px;width:184px;height:60px;background:#FFFFFF"></div>
<div class="b" style="left:2005px;top:1916px;width:184px;height:56px;background:#EF6A72"></div>
<div class="b" style="left:2191px;top:1916px;width:184px;height:56px;background:#B8E67F"></div>
<div class="b" style="left:2377px;top:1916px;width:213px;height:56px;background:#B8E67F"></div>
<div class="b" style="left:2592px;top:1914px;width:202px;height:60px;background:#FFFFFF"></div>
<div class="b" style="left:2592px;top:1916px;width:202px;height:56px;background:#FD2177"></div>
<div class="b" style="left:2796px;top:1914px;width:202px;height:60px;background:#FFFFFF"></div>
<div class="b" style="left:2796px;top:1916px;width:202px;height:56px;background:#FD2177"></div>
<div class="b" style="left:3000px;top:1916px;width:25px;height:56px;background:#FD2177"></div>
<div class="b" style="left:3025px;top:1930px;width:25px;height:42px;background:#FD2177"></div>
<div class="b" style="left:3050px;top:1953px;width:25px;height:19px;background:#FD2177"></div>
<div class="b" style="left:3075px;top:1957px;width:26px;height:15px;background:#FD2177"></div>
<div class="b" style="left:3101px;top:1955px;width:25px;height:17px;background:#FD2177"></div>
<div class="b" style="left:3126px;top:1956px;width:25px;height:16px;background:#FD2177"></div>
<div class="b" style="left:3151px;top:1956px;width:25px;height:16px;background:#FD2177"></div>
<div class="t" style="left:2px;top:1915px;width:109px">32</div>
<div class="fl" style="left:136px;top:1934px"><svg width="28" height="20" viewBox="0 0 36 26" preserveAspectRatio="none"><rect width="36" height="26" fill="#EEEEEE"/><rect width="36" height="13" fill="#ED2939"/><circle cx="8" cy="6.5" r="4" fill="#fff"/><circle cx="9.6" cy="6.5" r="3.6" fill="#ED2939"/><g fill="#fff"><circle cx="12.5" cy="3.8" r=".8"/><circle cx="15" cy="5.6" r=".8"/><circle cx="14" cy="8.5" r=".8"/><circle cx="11" cy="8.5" r=".8"/><circle cx="10" cy="5.6" r=".8"/></g></svg></div>
<div class="t l" style="left:181px;top:1915px"><i>新加坡</i> 05</div>
<div class="t" style="left:619px;top:1915px;width:262px">Trojan</div>
<div class="t" style="left:881px;top:1915px;width:168px">53ms</div>
<div class="t" style="left:1049px;top:1915px;width:215px">197ms</div>
<div class="t" style="left:1264px;top:1915px;width:304px"><i>家宽</i>IP</div>
<div class="t" style="left:1568px;top:1915px;width:250px">LOW(0)</div>
<div class="t" style="left:1818px;top:1915px;width:186px"><i>解锁</i>(SG)</div>
<div class="t" style="left:2004px;top:1915px;width:186px"><i>失败</i></div>
<div class="t" style="left:2190px;top:1915px;width:186px"><i>解锁</i>(SG)</div>
<div class="t" style="left:2376px;top:1915px;width:215px"><i>解锁</i>(SG)</div>
<div class="t" style="left:2591px;top:1915px;width:204px">133.72MB</div>
<div class="t" style="left:2795px;top:1915px;width:204px">286.69MB</div>
<div class="t" style="left:3177px;top:1915px;width:196px;transform:scaleX(1.0589)">Unknown</div>
<div class="b" style="left:882px;top:1972px;width:166px;height:60px;background:#FFFFFF"></div>
<div class="b" style="left:882px;top:1974px;width:166px;height:56px;background:#09F87B"></div>
<div class="b" style="left:1050px;top:1972px;width:213px;height:60px;background:#FFFFFF"></div>
<div class="b" style="left:1050px;top:1974px;width:213px;height:56px;background:#22E56E"></div>
<div class="b" style="left:1265px;top:1974px;width:302px;height:56px;background:#B8E67F"></div>
<div class="b" style="left:1569px;top:1974px;width:248px;height:56px;background:#EFEEED"></div>
<div class="b" style="left:1819px;top:1974px;width:184px;height:56px;background:#B8E67F"></div>
<div class="b" style="left:2005px;top:1972px;width:184px;height:60px;background:#FFFFFF"></div>
<div class="b" style="left:2005px;top:1974px;width:184px;height:56px;background:#EF6A72"></div>
<div class="b" style="left:2191px;top:1974px;width:184px;height:56px;background:#B8E67F"></div>
<div class="b" style="left:2377px;top:1974px;width:213px;height:56px;background:#B8E67F"></div>
<div class="b" style="left:2592px;top:1972px;width:202px;height:60px;background:#FFFFFF"></div>
<div class="b" style="left:2592px;top:1974px;width:202px;height:56px;background:#FD2177"></div>
<div class="b" style="left:2796px;top:1972px;width:202px;height:60px;background:#FFFFFF"></div>
<div class="b" style="left:2796px;top:1974px;width:202px;height:56px;background:#FD2177"></div>
<div class="b" style="left:3000px;top:1998px;width:25px;height:32px;background:#FD2177"></div>
<div class="b" style="left:3025px;top:1981px;width:25px;height:49px;background:#FD2177"></div>
<div class="b" style="left:3050px;top:1979px;width:25px;height:51px;background:#FD2177"></div>
<div class="b" style="left:3075px;top:1981px;width:26px;height:49px;background:#FD2177"></div>
<div class="b" style="left:3101px;top:1975px;width:25px;height:55px;background:#FD2177"></div>
<div class="b" style="left:3126px;top:1978px;width:25px;height:52px;background:#FD2177"></div>
<div class="b" style="left:3151px;top:1974px;width:25px;height:56px;background:#FD2177"></div>
<div class="t" style="left:2px;top:1973px;width:109px">33</div>
<div class="fl" style="left:136px;top:1992px"><svg width="28" height="20" viewBox="0 0 36 26" preserveAspectRatio="none"><rect width="36" height="26" fill="#EEEEEE"/><rect width="36" height="13" fill="#ED2939"/><circle cx="8" cy="6.5" r="4" fill="#fff"/><circle cx="9.6" cy="6.5" r="3.6" fill="#ED2939"/><g fill="#fff"><circle cx="12.5" cy="3.8" r=".8"/><circle cx="15" cy="5.6" r=".8"/><circle cx="14" cy="8.5" r=".8"/><circle cx="11" cy="8.5" r=".8"/><circle cx="10" cy="5.6" r=".8"/></g></svg></div>
<div class="t l" style="left:181px;top:1973px"><i>新加坡</i> 06</div>
<div class="t" style="left:619px;top:1973px;width:262px">Trojan</div>
<div class="t" style="left:881px;top:1973px;width:168px">53ms</div>
<div class="t" style="left:1049px;top:1973px;width:215px">200ms</div>
<div class="t" style="left:1264px;top:1973px;width:304px"><i>家宽</i>IP</div>
<div class="t" style="left:1568px;top:1973px;width:250px">MEDIUM(33)</div>
<div class="t" style="left:1818px;top:1973px;width:186px"><i>解锁</i>(SG)</div>
<div class="t" style="left:2004px;top:1973px;width:186px"><i>失败</i></div>
<div class="t" style="left:2190px;top:1973px;width:186px"><i>解锁</i>(SG)</div>
<div class="t" style="left:2376px;top:1973px;width:215px"><i>解锁</i>(SG)</div>
<div class="t" style="left:2591px;top:1973px;width:204px">462.19MB</div>
<div class="t" style="left:2795px;top:1973px;width:204px">523.01MB</div>
<div class="t" style="left:3177px;top:1973px;width:196px">FullCone</div>
<div class="b" style="left:882px;top:2030px;width:166px;height:60px;background:#FFFFFF"></div>
<div class="b" style="left:882px;top:2032px;width:166px;height:56px;background:#08F97B"></div>
<div class="b" style="left:1050px;top:2030px;width:213px;height:60px;background:#FFFFFF"></div>
<div class="b" style="left:1050px;top:2032px;width:213px;height:56px;background:#21E66F"></div>
<div class="b" style="left:1265px;top:2032px;width:302px;height:56px;background:#B8E67F"></div>
<div class="b" style="left:1569px;top:2032px;width:248px;height:56px;background:#EFEEED"></div>
<div class="b" style="left:1819px;top:2032px;width:184px;height:56px;background:#B8E67F"></div>
<div class="b" style="left:2005px;top:2030px;width:184px;height:60px;background:#FFFFFF"></div>
<div class="b" style="left:2005px;top:2032px;width:184px;height:56px;background:#EF6A72"></div>
<div class="b" style="left:2191px;top:2032px;width:184px;height:56px;background:#B8E67F"></div>
<div class="b" style="left:2377px;top:2032px;width:213px;height:56px;background:#B8E67F"></div>
<div class="b" style="left:2592px;top:2030px;width:202px;height:60px;background:#FFFFFF"></div>
<div class="b" style="left:2592px;top:2032px;width:202px;height:56px;background:#FD2177"></div>
<div class="b" style="left:2796px;top:2030px;width:202px;height:60px;background:#FFFFFF"></div>
<div class="b" style="left:2796px;top:2032px;width:202px;height:56px;background:#FD2177"></div>
<div class="b" style="left:3000px;top:2066px;width:25px;height:22px;background:#FD2177"></div>
<div class="b" style="left:3025px;top:2042px;width:25px;height:46px;background:#FD2177"></div>
<div class="b" style="left:3050px;top:2036px;width:25px;height:52px;background:#FD2177"></div>
<div class="b" style="left:3075px;top:2038px;width:26px;height:50px;background:#FD2177"></div>
<div class="b" style="left:3101px;top:2035px;width:25px;height:53px;background:#FD2177"></div>
<div class="b" style="left:3126px;top:2032px;width:25px;height:56px;background:#FD2177"></div>
<div class="b" style="left:3151px;top:2036px;width:25px;height:52px;background:#FD2177"></div>
<div class="t" style="left:2px;top:2031px;width:109px">34</div>
<div class="fl" style="left:136px;top:2050px"><svg width="28" height="20" viewBox="0 0 36 26" preserveAspectRatio="none"><rect width="36" height="26" fill="#EEEEEE"/><rect width="36" height="13" fill="#ED2939"/><circle cx="8" cy="6.5" r="4" fill="#fff"/><circle cx="9.6" cy="6.5" r="3.6" fill="#ED2939"/><g fill="#fff"><circle cx="12.5" cy="3.8" r=".8"/><circle cx="15" cy="5.6" r=".8"/><circle cx="14" cy="8.5" r=".8"/><circle cx="11" cy="8.5" r=".8"/><circle cx="10" cy="5.6" r=".8"/></g></svg></div>
<div class="t l" style="left:181px;top:2031px"><i>新加坡</i> 07</div>
<div class="t" style="left:619px;top:2031px;width:262px">Trojan</div>
<div class="t" style="left:881px;top:2031px;width:168px">50ms</div>
<div class="t" style="left:1049px;top:2031px;width:215px">192ms</div>
<div class="t" style="left:1264px;top:2031px;width:304px"><i>家宽</i>IP</div>
<div class="t" style="left:1568px;top:2031px;width:250px">MEDIUM(33)</div>
<div class="t" style="left:1818px;top:2031px;width:186px"><i>解锁</i>(SG)</div>
<div class="t" style="left:2004px;top:2031px;width:186px"><i>失败</i></div>
<div class="t" style="left:2190px;top:2031px;width:186px"><i>解锁</i>(SG)</div>
<div class="t" style="left:2376px;top:2031px;width:215px"><i>解锁</i>(SG)</div>
<div class="t" style="left:2591px;top:2031px;width:204px">457.97MB</div>
<div class="t" style="left:2795px;top:2031px;width:204px">539.31MB</div>
<div class="t" style="left:3177px;top:2031px;width:196px">FullCone</div>
<div class="b" style="left:882px;top:2088px;width:166px;height:60px;background:#FFFFFF"></div>
<div class="b" style="left:882px;top:2090px;width:166px;height:56px;background:#09F87A"></div>
<div class="b" style="left:1050px;top:2088px;width:213px;height:60px;background:#FFFFFF"></div>
<div class="b" style="left:1050px;top:2090px;width:213px;height:56px;background:#23E56E"></div>
<div class="b" style="left:1265px;top:2090px;width:302px;height:56px;background:#B8E67F"></div>
<div class="b" style="left:1569px;top:2090px;width:248px;height:56px;background:#EFEEED"></div>
<div class="b" style="left:1819px;top:2090px;width:184px;height:56px;background:#B8E67F"></div>
<div class="b" style="left:2005px;top:2088px;width:184px;height:60px;background:#FFFFFF"></div>
<div class="b" style="left:2005px;top:2090px;width:184px;height:56px;background:#EF6A72"></div>
<div class="b" style="left:2191px;top:2090px;width:184px;height:56px;background:#B8E67F"></div>
<div class="b" style="left:2377px;top:2090px;width:213px;height:56px;background:#B8E67F"></div>
<div class="b" style="left:2592px;top:2088px;width:202px;height:60px;background:#FFFFFF"></div>
<div class="b" style="left:2592px;top:2090px;width:202px;height:56px;background:#FD2177"></div>
<div class="b" style="left:2796px;top:2088px;width:202px;height:60px;background:#FFFFFF"></div>
<div class="b" style="left:2796px;top:2090px;width:202px;height:56px;background:#FD2177"></div>
<div class="b" style="left:3000px;top:2115px;width:25px;height:31px;background:#FD2177"></div>
<div class="b" style="left:3025px;top:2098px;width:25px;height:48px;background:#FD2177"></div>
<div class="b" style="left:3050px;top:2099px;width:25px;height:47px;background:#FD2177"></div>
<div class="b" style="left:3075px;top:2093px;width:26px;height:53px;background:#FD2177"></div>
<div class="b" style="left:3101px;top:2093px;width:25px;height:53px;background:#FD2177"></div>
<div class="b" style="left:3126px;top:2090px;width:25px;height:56px;background:#FD2177"></div>
<div class="b" style="left:3151px;top:2091px;width:25px;height:55px;background:#FD2177"></div>
<div class="t" style="left:2px;top:2089px;width:109px">35</div>
<div class="fl" style="left:136px;top:2108px"><svg width="28" height="20" viewBox="0 0 36 26" preserveAspectRatio="none"><rect width="36" height="26" fill="#EEEEEE"/><rect width="36" height="13" fill="#ED2939"/><circle cx="8" cy="6.5" r="4" fill="#fff"/><circle cx="9.6" cy="6.5" r="3.6" fill="#ED2939"/><g fill="#fff"><circle cx="12.5" cy="3.8" r=".8"/><circle cx="15" cy="5.6" r=".8"/><circle cx="14" cy="8.5" r=".8"/><circle cx="11" cy="8.5" r=".8"/><circle cx="10" cy="5.6" r=".8"/></g></svg></div>
<div class="t l" style="left:181px;top:2089px"><i>新加坡</i> 08</div>
<div class="t" style="left:619px;top:2089px;width:262px">Trojan</div>
<div class="t" style="left:881px;top:2089px;width:168px">54ms</div>
<div class="t" style="left:1049px;top:2089px;width:215px">206ms</div>
<div class="t" style="left:1264px;top:2089px;width:304px"><i>家宽</i>IP</div>
<div class="t" style="left:1568px;top:2089px;width:250px">LOW(4)</div>
<div class="t" style="left:1818px;top:2089px;width:186px"><i>解锁</i>(SG)</div>
<div class="t" style="left:2004px;top:2089px;width:186px"><i>失败</i></div>
<div class="t" style="left:2190px;top:2089px;width:186px"><i>解锁</i>(SG)</div>
<div class="t" style="left:2376px;top:2089px;width:215px"><i>解锁</i>(SG)</div>
<div class="t" style="left:2591px;top:2089px;width:204px">345.21MB</div>
<div class="t" style="left:2795px;top:2089px;width:204px">393.47MB</div>
<div class="t" style="left:3177px;top:2089px;width:196px">FullCone</div>
<div class="b" style="left:882px;top:2146px;width:166px;height:60px;background:#FFFFFF"></div>
<div class="b" style="left:882px;top:2148px;width:166px;height:56px;background:#1FE870"></div>
<div class="b" style="left:1050px;top:2146px;width:213px;height:60px;background:#FFFFFF"></div>
<div class="b" style="left:1050px;top:2148px;width:213px;height:56px;background:#65B34D"></div>
<div class="b" style="left:1265px;top:2148px;width:302px;height:56px;background:#B8E67F"></div>
<div class="b" style="left:1569px;top:2148px;width:248px;height:56px;background:#EFEEED"></div>
<div class="b" style="left:1819px;top:2148px;width:184px;height:56px;background:#B8E67F"></div>
<div class="b" style="left:2005px;top:2148px;width:184px;height:56px;background:#B8E67F"></div>
<div class="b" style="left:2191px;top:2148px;width:184px;height:56px;background:#B8E67F"></div>
<div class="b" style="left:2377px;top:2148px;width:213px;height:56px;background:#B8E67F"></div>
<div class="b" style="left:2592px;top:2146px;width:202px;height:60px;background:#FFFFFF"></div>
<div class="b" style="left:2592px;top:2148px;width:202px;height:56px;background:#FD2177"></div>
<div class="b" style="left:2796px;top:2146px;width:202px;height:60px;background:#FFFFFF"></div>
<div class="b" style="left:2796px;top:2148px;width:202px;height:56px;background:#FD2177"></div>
<div class="b" style="left:3025px;top:2195px;width:25px;height:9px;background:#FD2177"></div>
<div class="b" style="left:3050px;top:2180px;width:25px;height:24px;background:#FD2177"></div>
<div class="b" style="left:3075px;top:2156px;width:26px;height:48px;background:#FD2177"></div>
<div class="b" style="left:3101px;top:2148px;width:25px;height:56px;background:#FD2177"></div>
<div class="b" style="left:3126px;top:2164px;width:25px;height:40px;background:#FD2177"></div>
<div class="b" style="left:3151px;top:2195px;width:25px;height:9px;background:#FD2177"></div>
<div class="t" style="left:2px;top:2147px;width:109px">36</div>
<div class="fl" style="left:136px;top:2166px"><svg width="28" height="20" viewBox="0 0 36 26" preserveAspectRatio="none"><rect width="36" height="26" fill="#EEEEEE"/><rect y="0" width="36" height="2" fill="#B22334"/><rect y="4" width="36" height="2" fill="#B22334"/><rect y="8" width="36" height="2" fill="#B22334"/><rect y="12" width="36" height="2" fill="#B22334"/><rect y="16" width="36" height="2" fill="#B22334"/><rect y="20" width="36" height="2" fill="#B22334"/><rect y="24" width="36" height="2" fill="#B22334"/><rect width="17.5" height="14" fill="#3C3B6E"/><g fill="#fff"><circle cx="2.0" cy="1.8" r=".6"/><circle cx="4.7" cy="1.8" r=".6"/><circle cx="7.4" cy="1.8" r=".6"/><circle cx="10.1" cy="1.8" r=".6"/><circle cx="12.8" cy="1.8" r=".6"/><circle cx="15.5" cy="1.8" r=".6"/><circle cx="3.4" cy="4.2" r=".6"/><circle cx="6.1" cy="4.2" r=".6"/><circle cx="8.8" cy="4.2" r=".6"/><circle cx="11.5" cy="4.2" r=".6"/><circle cx="14.2" cy="4.2" r=".6"/><circle cx="2.0" cy="6.6" r=".6"/><circle cx="4.7" cy="6.6" r=".6"/><circle cx="7.4" cy="6.6" r=".6"/><circle cx="10.1" cy="6.6" r=".6"/><circle cx="12.8" cy="6.6" r=".6"/><circle cx="15.5" cy="6.6" r=".6"/><circle cx="3.4" cy="9.0" r=".6"/><circle cx="6.1" cy="9.0" r=".6"/><circle cx="8.8" cy="9.0" r=".6"/><circle cx="11.5" cy="9.0" r=".6"/><circle cx="14.2" cy="9.0" r=".6"/><circle cx="2.0" cy="11.4" r=".6"/><circle cx="4.7" cy="11.4" r=".6"/><circle cx="7.4" cy="11.4" r=".6"/><circle cx="10.1" cy="11.4" r=".6"/><circle cx="12.8" cy="11.4" r=".6"/><circle cx="15.5" cy="11.4" r=".6"/></g></svg></div>
<div class="t l" style="left:181px;top:2147px"><i>美国</i> 01</div>
<div class="t" style="left:619px;top:2147px;width:262px">Trojan</div>
<div class="t" style="left:881px;top:2147px;width:168px">180ms</div>
<div class="t" style="left:1049px;top:2147px;width:215px">594ms</div>
<div class="t" style="left:1264px;top:2147px;width:304px"><i>家宽</i>IP</div>
<div class="t" style="left:1568px;top:2147px;width:250px">MEDIUM(25)</div>
<div class="t" style="left:1818px;top:2147px;width:186px"><i>解锁</i>(US)</div>
<div class="t" style="left:2004px;top:2147px;width:186px"><i>解锁</i>(US)</div>
<div class="t" style="left:2190px;top:2147px;width:186px"><i>解锁</i>(US)</div>
<div class="t" style="left:2376px;top:2147px;width:215px"><i>解锁</i>(US)</div>
<div class="t" style="left:2591px;top:2147px;width:204px">242.12MB</div>
<div class="t" style="left:2795px;top:2147px;width:204px">508.14MB</div>
<div class="t" style="left:3177px;top:2147px;width:196px;transform:scaleX(1.0589)">Unknown</div>
<div class="b" style="left:882px;top:2204px;width:166px;height:60px;background:#FFFFFF"></div>
<div class="b" style="left:882px;top:2206px;width:166px;height:56px;background:#1DE971"></div>
<div class="b" style="left:1050px;top:2204px;width:213px;height:60px;background:#FFFFFF"></div>
<div class="b" style="left:1050px;top:2206px;width:213px;height:56px;background:#62B64E"></div>
<div class="b" style="left:1265px;top:2206px;width:302px;height:56px;background:#B8E67F"></div>
<div class="b" style="left:1569px;top:2206px;width:248px;height:56px;background:#EFEEED"></div>
<div class="b" style="left:1819px;top:2206px;width:184px;height:56px;background:#B8E67F"></div>
<div class="b" style="left:2005px;top:2206px;width:184px;height:56px;background:#B8E67F"></div>
<div class="b" style="left:2191px;top:2206px;width:184px;height:56px;background:#B8E67F"></div>
<div class="b" style="left:2377px;top:2206px;width:213px;height:56px;background:#B8E67F"></div>
<div class="b" style="left:2592px;top:2204px;width:202px;height:60px;background:#FFFFFF"></div>
<div class="b" style="left:2592px;top:2206px;width:202px;height:56px;background:#FD2177"></div>
<div class="b" style="left:2796px;top:2204px;width:202px;height:60px;background:#FFFFFF"></div>
<div class="b" style="left:2796px;top:2206px;width:202px;height:56px;background:#FD2177"></div>
<div class="b" style="left:3000px;top:2261px;width:25px;height:1px;background:#AABBEE"></div>
<div class="b" style="left:3025px;top:2236px;width:25px;height:26px;background:#FD2177"></div>
<div class="b" style="left:3050px;top:2217px;width:25px;height:45px;background:#FD2177"></div>
<div class="b" style="left:3075px;top:2210px;width:26px;height:52px;background:#FD2177"></div>
<div class="b" style="left:3101px;top:2206px;width:25px;height:56px;background:#FD2177"></div>
<div class="b" style="left:3126px;top:2210px;width:25px;height:52px;background:#FD2177"></div>
<div class="b" style="left:3151px;top:2232px;width:25px;height:30px;background:#FD2177"></div>
<div class="t" style="left:2px;top:2205px;width:109px">37</div>
<div class="fl" style="left:136px;top:2224px"><svg width="28" height="20" viewBox="0 0 36 26" preserveAspectRatio="none"><rect width="36" height="26" fill="#EEEEEE"/><rect y="0" width="36" height="2" fill="#B22334"/><rect y="4" width="36" height="2" fill="#B22334"/><rect y="8" width="36" height="2" fill="#B22334"/><rect y="12" width="36" height="2" fill="#B22334"/><rect y="16" width="36" height="2" fill="#B22334"/><rect y="20" width="36" height="2" fill="#B22334"/><rect y="24" width="36" height="2" fill="#B22334"/><rect width="17.5" height="14" fill="#3C3B6E"/><g fill="#fff"><circle cx="2.0" cy="1.8" r=".6"/><circle cx="4.7" cy="1.8" r=".6"/><circle cx="7.4" cy="1.8" r=".6"/><circle cx="10.1" cy="1.8" r=".6"/><circle cx="12.8" cy="1.8" r=".6"/><circle cx="15.5" cy="1.8" r=".6"/><circle cx="3.4" cy="4.2" r=".6"/><circle cx="6.1" cy="4.2" r=".6"/><circle cx="8.8" cy="4.2" r=".6"/><circle cx="11.5" cy="4.2" r=".6"/><circle cx="14.2" cy="4.2" r=".6"/><circle cx="2.0" cy="6.6" r=".6"/><circle cx="4.7" cy="6.6" r=".6"/><circle cx="7.4" cy="6.6" r=".6"/><circle cx="10.1" cy="6.6" r=".6"/><circle cx="12.8" cy="6.6" r=".6"/><circle cx="15.5" cy="6.6" r=".6"/><circle cx="3.4" cy="9.0" r=".6"/><circle cx="6.1" cy="9.0" r=".6"/><circle cx="8.8" cy="9.0" r=".6"/><circle cx="11.5" cy="9.0" r=".6"/><circle cx="14.2" cy="9.0" r=".6"/><circle cx="2.0" cy="11.4" r=".6"/><circle cx="4.7" cy="11.4" r=".6"/><circle cx="7.4" cy="11.4" r=".6"/><circle cx="10.1" cy="11.4" r=".6"/><circle cx="12.8" cy="11.4" r=".6"/><circle cx="15.5" cy="11.4" r=".6"/></g></svg></div>
<div class="t l" style="left:181px;top:2205px"><i>美国</i> 02</div>
<div class="t" style="left:619px;top:2205px;width:262px">Trojan</div>
<div class="t" style="left:881px;top:2205px;width:168px">169ms</div>
<div class="t" style="left:1049px;top:2205px;width:215px">574ms</div>
<div class="t" style="left:1264px;top:2205px;width:304px"><i>家宽</i>IP</div>
<div class="t" style="left:1568px;top:2205px;width:250px">MEDIUM(25)</div>
<div class="t" style="left:1818px;top:2205px;width:186px"><i>解锁</i>(US)</div>
<div class="t" style="left:2004px;top:2205px;width:186px"><i>解锁</i>(US)</div>
<div class="t" style="left:2190px;top:2205px;width:186px"><i>解锁</i>(US)</div>
<div class="t" style="left:2376px;top:2205px;width:215px"><i>解锁</i>(US)</div>
<div class="t" style="left:2591px;top:2205px;width:204px">274.31MB</div>
<div class="t" style="left:2795px;top:2205px;width:204px">406.93MB</div>
<div class="t" style="left:3177px;top:2205px;width:196px;transform:scaleX(1.0589)">Unknown</div>
<div class="b" style="left:882px;top:2262px;width:166px;height:60px;background:#FFFFFF"></div>
<div class="b" style="left:882px;top:2264px;width:166px;height:56px;background:#1FE870"></div>
<div class="b" style="left:1050px;top:2262px;width:213px;height:60px;background:#FFFFFF"></div>
<div class="b" style="left:1050px;top:2264px;width:213px;height:56px;background:#64B34D"></div>
<div class="b" style="left:1265px;top:2264px;width:302px;height:56px;background:#B8E67F"></div>
<div class="b" style="left:1569px;top:2264px;width:248px;height:56px;background:#EFEEED"></div>
<div class="b" style="left:1819px;top:2264px;width:184px;height:56px;background:#B8E67F"></div>
<div class="b" style="left:2005px;top:2264px;width:184px;height:56px;background:#B8E67F"></div>
<div class="b" style="left:2191px;top:2264px;width:184px;height:56px;background:#B8E67F"></div>
<div class="b" style="left:2377px;top:2264px;width:213px;height:56px;background:#B8E67F"></div>
<div class="b" style="left:2592px;top:2262px;width:202px;height:60px;background:#FFFFFF"></div>
<div class="b" style="left:2592px;top:2264px;width:202px;height:56px;background:#FD2177"></div>
<div class="b" style="left:2796px;top:2262px;width:202px;height:60px;background:#FFFFFF"></div>
<div class="b" style="left:2796px;top:2264px;width:202px;height:56px;background:#FD2177"></div>
<div class="b" style="left:3000px;top:2319px;width:25px;height:1px;background:#AABBEE"></div>
<div class="b" style="left:3025px;top:2290px;width:25px;height:30px;background:#FD2177"></div>
<div class="b" style="left:3050px;top:2276px;width:25px;height:44px;background:#FD2177"></div>
<div class="b" style="left:3075px;top:2267px;width:26px;height:53px;background:#FD2177"></div>
<div class="b" style="left:3101px;top:2266px;width:25px;height:54px;background:#FD2177"></div>
<div class="b" style="left:3126px;top:2264px;width:25px;height:56px;background:#FD2177"></div>
<div class="b" style="left:3151px;top:2264px;width:25px;height:56px;background:#FD2177"></div>
<div class="t" style="left:2px;top:2263px;width:109px">38</div>
<div class="fl" style="left:136px;top:2282px"><svg width="28" height="20" viewBox="0 0 36 26" preserveAspectRatio="none"><rect width="36" height="26" fill="#EEEEEE"/><rect y="0" width="36" height="2" fill="#B22334"/><rect y="4" width="36" height="2" fill="#B22334"/><rect y="8" width="36" height="2" fill="#B22334"/><rect y="12" width="36" height="2" fill="#B22334"/><rect y="16" width="36" height="2" fill="#B22334"/><rect y="20" width="36" height="2" fill="#B22334"/><rect y="24" width="36" height="2" fill="#B22334"/><rect width="17.5" height="14" fill="#3C3B6E"/><g fill="#fff"><circle cx="2.0" cy="1.8" r=".6"/><circle cx="4.7" cy="1.8" r=".6"/><circle cx="7.4" cy="1.8" r=".6"/><circle cx="10.1" cy="1.8" r=".6"/><circle cx="12.8" cy="1.8" r=".6"/><circle cx="15.5" cy="1.8" r=".6"/><circle cx="3.4" cy="4.2" r=".6"/><circle cx="6.1" cy="4.2" r=".6"/><circle cx="8.8" cy="4.2" r=".6"/><circle cx="11.5" cy="4.2" r=".6"/><circle cx="14.2" cy="4.2" r=".6"/><circle cx="2.0" cy="6.6" r=".6"/><circle cx="4.7" cy="6.6" r=".6"/><circle cx="7.4" cy="6.6" r=".6"/><circle cx="10.1" cy="6.6" r=".6"/><circle cx="12.8" cy="6.6" r=".6"/><circle cx="15.5" cy="6.6" r=".6"/><circle cx="3.4" cy="9.0" r=".6"/><circle cx="6.1" cy="9.0" r=".6"/><circle cx="8.8" cy="9.0" r=".6"/><circle cx="11.5" cy="9.0" r=".6"/><circle cx="14.2" cy="9.0" r=".6"/><circle cx="2.0" cy="11.4" r=".6"/><circle cx="4.7" cy="11.4" r=".6"/><circle cx="7.4" cy="11.4" r=".6"/><circle cx="10.1" cy="11.4" r=".6"/><circle cx="12.8" cy="11.4" r=".6"/><circle cx="15.5" cy="11.4" r=".6"/></g></svg></div>
<div class="t l" style="left:181px;top:2263px"><i>美国</i> 04</div>
<div class="t" style="left:619px;top:2263px;width:262px">Trojan</div>
<div class="t" style="left:881px;top:2263px;width:168px">181ms</div>
<div class="t" style="left:1049px;top:2263px;width:215px">591ms</div>
<div class="t" style="left:1264px;top:2263px;width:304px"><i>家宽</i>IP</div>
<div class="t" style="left:1568px;top:2263px;width:250px">MEDIUM(29)</div>
<div class="t" style="left:1818px;top:2263px;width:186px"><i>解锁</i>(US)</div>
<div class="t" style="left:2004px;top:2263px;width:186px"><i>解锁</i>(US)</div>
<div class="t" style="left:2190px;top:2263px;width:186px"><i>解锁</i>(US)</div>
<div class="t" style="left:2376px;top:2263px;width:215px"><i>解锁</i>(US)</div>
<div class="t" style="left:2591px;top:2263px;width:204px">307.71MB</div>
<div class="t" style="left:2795px;top:2263px;width:204px">406.72MB</div>
<div class="t" style="left:3177px;top:2263px;width:196px">FullCone</div>
<div class="b" style="left:882px;top:2320px;width:166px;height:60px;background:#FFFFFF"></div>
<div class="b" style="left:882px;top:2322px;width:166px;height:56px;background:#1CEA71"></div>
<div class="b" style="left:1050px;top:2320px;width:213px;height:60px;background:#FFFFFF"></div>
<div class="b" style="left:1050px;top:2322px;width:213px;height:56px;background:#5BBB52"></div>
<div class="b" style="left:1265px;top:2322px;width:302px;height:56px;background:#B8E67F"></div>
<div class="b" style="left:1569px;top:2322px;width:248px;height:56px;background:#EFEEED"></div>
<div class="b" style="left:1819px;top:2322px;width:184px;height:56px;background:#B8E67F"></div>
<div class="b" style="left:2005px;top:2322px;width:184px;height:56px;background:#B8E67F"></div>
<div class="b" style="left:2191px;top:2322px;width:184px;height:56px;background:#B8E67F"></div>
<div class="b" style="left:2377px;top:2322px;width:213px;height:56px;background:#B8E67F"></div>
<div class="b" style="left:2592px;top:2320px;width:202px;height:60px;background:#FFFFFF"></div>
<div class="b" style="left:2592px;top:2322px;width:202px;height:56px;background:#FD2177"></div>
<div class="b" style="left:2796px;top:2320px;width:202px;height:60px;background:#FFFFFF"></div>
<div class="b" style="left:2796px;top:2322px;width:202px;height:56px;background:#FD2177"></div>
<div class="b" style="left:3000px;top:2376px;width:25px;height:2px;background:#BBB8F8"></div>
<div class="b" style="left:3025px;top:2328px;width:25px;height:50px;background:#FD2177"></div>
<div class="b" style="left:3050px;top:2322px;width:25px;height:56px;background:#FD2177"></div>
<div class="b" style="left:3075px;top:2360px;width:26px;height:18px;background:#FD2177"></div>
<div class="b" style="left:3101px;top:2322px;width:25px;height:56px;background:#FD2177"></div>
<div class="b" style="left:3126px;top:2344px;width:25px;height:34px;background:#FD2177"></div>
<div class="b" style="left:3151px;top:2341px;width:25px;height:37px;background:#FD2177"></div>
<div class="t" style="left:2px;top:2321px;width:109px">39</div>
<div class="fl" style="left:136px;top:2340px"><svg width="28" height="20" viewBox="0 0 36 26" preserveAspectRatio="none"><rect width="36" height="26" fill="#EEEEEE"/><rect y="0" width="36" height="2" fill="#B22334"/><rect y="4" width="36" height="2" fill="#B22334"/><rect y="8" width="36" height="2" fill="#B22334"/><rect y="12" width="36" height="2" fill="#B22334"/><rect y="16" width="36" height="2" fill="#B22334"/><rect y="20" width="36" height="2" fill="#B22334"/><rect y="24" width="36" height="2" fill="#B22334"/><rect width="17.5" height="14" fill="#3C3B6E"/><g fill="#fff"><circle cx="2.0" cy="1.8" r=".6"/><circle cx="4.7" cy="1.8" r=".6"/><circle cx="7.4" cy="1.8" r=".6"/><circle cx="10.1" cy="1.8" r=".6"/><circle cx="12.8" cy="1.8" r=".6"/><circle cx="15.5" cy="1.8" r=".6"/><circle cx="3.4" cy="4.2" r=".6"/><circle cx="6.1" cy="4.2" r=".6"/><circle cx="8.8" cy="4.2" r=".6"/><circle cx="11.5" cy="4.2" r=".6"/><circle cx="14.2" cy="4.2" r=".6"/><circle cx="2.0" cy="6.6" r=".6"/><circle cx="4.7" cy="6.6" r=".6"/><circle cx="7.4" cy="6.6" r=".6"/><circle cx="10.1" cy="6.6" r=".6"/><circle cx="12.8" cy="6.6" r=".6"/><circle cx="15.5" cy="6.6" r=".6"/><circle cx="3.4" cy="9.0" r=".6"/><circle cx="6.1" cy="9.0" r=".6"/><circle cx="8.8" cy="9.0" r=".6"/><circle cx="11.5" cy="9.0" r=".6"/><circle cx="14.2" cy="9.0" r=".6"/><circle cx="2.0" cy="11.4" r=".6"/><circle cx="4.7" cy="11.4" r=".6"/><circle cx="7.4" cy="11.4" r=".6"/><circle cx="10.1" cy="11.4" r=".6"/><circle cx="12.8" cy="11.4" r=".6"/><circle cx="15.5" cy="11.4" r=".6"/></g></svg></div>
<div class="t l" style="left:181px;top:2321px"><i>美国</i> 05</div>
<div class="t" style="left:619px;top:2321px;width:262px">Trojan</div>
<div class="t" style="left:881px;top:2321px;width:168px">164ms</div>
<div class="t" style="left:1049px;top:2321px;width:215px">535ms</div>
<div class="t" style="left:1264px;top:2321px;width:304px"><i>家宽</i>IP</div>
<div class="t" style="left:1568px;top:2321px;width:250px">MEDIUM(35)</div>
<div class="t" style="left:1818px;top:2321px;width:186px"><i>解锁</i>(US)</div>
<div class="t" style="left:2004px;top:2321px;width:186px"><i>解锁</i>(US)</div>
<div class="t" style="left:2190px;top:2321px;width:186px"><i>解锁</i>(US)</div>
<div class="t" style="left:2376px;top:2321px;width:215px"><i>解锁</i>(US)</div>
<div class="t" style="left:2591px;top:2321px;width:204px">150.18MB</div>
<div class="t" style="left:2795px;top:2321px;width:204px">231.30MB</div>
<div class="t" style="left:3177px;top:2321px;width:196px;transform:scaleX(1.0589)">Unknown</div>
<div class="b" style="left:882px;top:2378px;width:166px;height:60px;background:#FFFFFF"></div>
<div class="b" style="left:882px;top:2380px;width:166px;height:56px;background:#FF3F00"></div>
<div class="b" style="left:1050px;top:2378px;width:213px;height:60px;background:#FFFFFF"></div>
<div class="b" style="left:1050px;top:2380px;width:213px;height:56px;background:#FF3F00"></div>
<div class="b" style="left:1569px;top:2378px;width:248px;height:60px;background:#FFFFFF"></div>
<div class="b" style="left:1569px;top:2380px;width:248px;height:56px;background:#8E8D8F"></div>
<div class="b" style="left:1819px;top:2378px;width:184px;height:60px;background:#FFFFFF"></div>
<div class="b" style="left:1819px;top:2380px;width:184px;height:56px;background:#8E8D8F"></div>
<div class="b" style="left:2005px;top:2378px;width:184px;height:60px;background:#FFFFFF"></div>
<div class="b" style="left:2005px;top:2380px;width:184px;height:56px;background:#8E8D8F"></div>
<div class="b" style="left:2191px;top:2378px;width:184px;height:60px;background:#FFFFFF"></div>
<div class="b" style="left:2191px;top:2380px;width:184px;height:56px;background:#8E8D8F"></div>
<div class="b" style="left:2377px;top:2378px;width:213px;height:60px;background:#FFFFFF"></div>
<div class="b" style="left:2377px;top:2380px;width:213px;height:56px;background:#8E8D8F"></div>
<div class="t" style="left:2px;top:2379px;width:109px">40</div>
<div class="fl" style="left:136px;top:2398px"><svg width="28" height="20" viewBox="0 0 36 26" preserveAspectRatio="none"><rect width="36" height="26" fill="#EEEEEE"/><rect y="0" width="36" height="2" fill="#B22334"/><rect y="4" width="36" height="2" fill="#B22334"/><rect y="8" width="36" height="2" fill="#B22334"/><rect y="12" width="36" height="2" fill="#B22334"/><rect y="16" width="36" height="2" fill="#B22334"/><rect y="20" width="36" height="2" fill="#B22334"/><rect y="24" width="36" height="2" fill="#B22334"/><rect width="17.5" height="14" fill="#3C3B6E"/><g fill="#fff"><circle cx="2.0" cy="1.8" r=".6"/><circle cx="4.7" cy="1.8" r=".6"/><circle cx="7.4" cy="1.8" r=".6"/><circle cx="10.1" cy="1.8" r=".6"/><circle cx="12.8" cy="1.8" r=".6"/><circle cx="15.5" cy="1.8" r=".6"/><circle cx="3.4" cy="4.2" r=".6"/><circle cx="6.1" cy="4.2" r=".6"/><circle cx="8.8" cy="4.2" r=".6"/><circle cx="11.5" cy="4.2" r=".6"/><circle cx="14.2" cy="4.2" r=".6"/><circle cx="2.0" cy="6.6" r=".6"/><circle cx="4.7" cy="6.6" r=".6"/><circle cx="7.4" cy="6.6" r=".6"/><circle cx="10.1" cy="6.6" r=".6"/><circle cx="12.8" cy="6.6" r=".6"/><circle cx="15.5" cy="6.6" r=".6"/><circle cx="3.4" cy="9.0" r=".6"/><circle cx="6.1" cy="9.0" r=".6"/><circle cx="8.8" cy="9.0" r=".6"/><circle cx="11.5" cy="9.0" r=".6"/><circle cx="14.2" cy="9.0" r=".6"/><circle cx="2.0" cy="11.4" r=".6"/><circle cx="4.7" cy="11.4" r=".6"/><circle cx="7.4" cy="11.4" r=".6"/><circle cx="10.1" cy="11.4" r=".6"/><circle cx="12.8" cy="11.4" r=".6"/><circle cx="15.5" cy="11.4" r=".6"/></g></svg></div>
<div class="t l" style="left:181px;top:2379px"><i>美国</i> 06</div>
<div class="t" style="left:619px;top:2379px;width:262px">Trojan</div>
<div class="t" style="left:881px;top:2379px;width:168px">-</div>
<div class="t" style="left:1049px;top:2379px;width:215px">-</div>
<div class="t" style="left:1264px;top:2379px;width:304px">-</div>
<div class="t" style="left:1568px;top:2379px;width:250px">N/A</div>
<div class="t" style="left:1818px;top:2379px;width:186px"><i>查询失败</i></div>
<div class="t" style="left:2004px;top:2379px;width:186px">N/A</div>
<div class="t" style="left:2190px;top:2379px;width:186px">N/A</div>
<div class="t" style="left:2376px;top:2379px;width:215px">N/A</div>
<div class="t" style="left:2591px;top:2379px;width:204px">0.00B</div>
<div class="t" style="left:2795px;top:2379px;width:204px">0.00B</div>
<div class="t" style="left:3177px;top:2379px;width:196px;transform:scaleX(1.0589)">Unknown</div>
<div class="b" style="left:882px;top:2436px;width:166px;height:60px;background:#FFFFFF"></div>
<div class="b" style="left:882px;top:2438px;width:166px;height:56px;background:#1FE870"></div>
<div class="b" style="left:1050px;top:2436px;width:213px;height:60px;background:#FFFFFF"></div>
<div class="b" style="left:1050px;top:2438px;width:213px;height:56px;background:#67B14C"></div>
<div class="b" style="left:1265px;top:2438px;width:302px;height:56px;background:#B8E67F"></div>
<div class="b" style="left:1569px;top:2438px;width:248px;height:56px;background:#EFEEED"></div>
<div class="b" style="left:1819px;top:2438px;width:184px;height:56px;background:#B8E67F"></div>
<div class="b" style="left:2005px;top:2438px;width:184px;height:56px;background:#B8E67F"></div>
<div class="b" style="left:2191px;top:2438px;width:184px;height:56px;background:#B8E67F"></div>
<div class="b" style="left:2377px;top:2438px;width:213px;height:56px;background:#B8E67F"></div>
<div class="b" style="left:2592px;top:2436px;width:202px;height:60px;background:#FFFFFF"></div>
<div class="b" style="left:2592px;top:2438px;width:202px;height:56px;background:#FD2177"></div>
<div class="b" style="left:2796px;top:2436px;width:202px;height:60px;background:#FFFFFF"></div>
<div class="b" style="left:2796px;top:2438px;width:202px;height:56px;background:#FD2177"></div>
<div class="b" style="left:3000px;top:2493px;width:25px;height:1px;background:#AACCEE"></div>
<div class="b" style="left:3025px;top:2477px;width:25px;height:17px;background:#FD2177"></div>
<div class="b" style="left:3050px;top:2445px;width:25px;height:49px;background:#FD2177"></div>
<div class="b" style="left:3075px;top:2443px;width:26px;height:51px;background:#FD2177"></div>
<div class="b" style="left:3101px;top:2438px;width:25px;height:56px;background:#FD2177"></div>
<div class="b" style="left:3126px;top:2439px;width:25px;height:55px;background:#FD2177"></div>
<div class="b" style="left:3151px;top:2442px;width:25px;height:52px;background:#FD2177"></div>
<div class="t" style="left:2px;top:2437px;width:109px">41</div>
<div class="fl" style="left:136px;top:2456px"><svg width="28" height="20" viewBox="0 0 36 26" preserveAspectRatio="none"><rect width="36" height="26" fill="#EEEEEE"/><rect y="0" width="36" height="2" fill="#B22334"/><rect y="4" width="36" height="2" fill="#B22334"/><rect y="8" width="36" height="2" fill="#B22334"/><rect y="12" width="36" height="2" fill="#B22334"/><rect y="16" width="36" height="2" fill="#B22334"/><rect y="20" width="36" height="2" fill="#B22334"/><rect y="24" width="36" height="2" fill="#B22334"/><rect width="17.5" height="14" fill="#3C3B6E"/><g fill="#fff"><circle cx="2.0" cy="1.8" r=".6"/><circle cx="4.7" cy="1.8" r=".6"/><circle cx="7.4" cy="1.8" r=".6"/><circle cx="10.1" cy="1.8" r=".6"/><circle cx="12.8" cy="1.8" r=".6"/><circle cx="15.5" cy="1.8" r=".6"/><circle cx="3.4" cy="4.2" r=".6"/><circle cx="6.1" cy="4.2" r=".6"/><circle cx="8.8" cy="4.2" r=".6"/><circle cx="11.5" cy="4.2" r=".6"/><circle cx="14.2" cy="4.2" r=".6"/><circle cx="2.0" cy="6.6" r=".6"/><circle cx="4.7" cy="6.6" r=".6"/><circle cx="7.4" cy="6.6" r=".6"/><circle cx="10.1" cy="6.6" r=".6"/><circle cx="12.8" cy="6.6" r=".6"/><circle cx="15.5" cy="6.6" r=".6"/><circle cx="3.4" cy="9.0" r=".6"/><circle cx="6.1" cy="9.0" r=".6"/><circle cx="8.8" cy="9.0" r=".6"/><circle cx="11.5" cy="9.0" r=".6"/><circle cx="14.2" cy="9.0" r=".6"/><circle cx="2.0" cy="11.4" r=".6"/><circle cx="4.7" cy="11.4" r=".6"/><circle cx="7.4" cy="11.4" r=".6"/><circle cx="10.1" cy="11.4" r=".6"/><circle cx="12.8" cy="11.4" r=".6"/><circle cx="15.5" cy="11.4" r=".6"/></g></svg></div>
<div class="t l" style="left:181px;top:2437px"><i>美国</i> 07</div>
<div class="t" style="left:619px;top:2437px;width:262px">Trojan</div>
<div class="t" style="left:881px;top:2437px;width:168px">183ms</div>
<div class="t" style="left:1049px;top:2437px;width:215px">607ms</div>
<div class="t" style="left:1264px;top:2437px;width:304px"><i>家宽</i>IP</div>
<div class="t" style="left:1568px;top:2437px;width:250px">MEDIUM(29)</div>
<div class="t" style="left:1818px;top:2437px;width:186px"><i>解锁</i>(US)</div>
<div class="t" style="left:2004px;top:2437px;width:186px"><i>解锁</i>(US)</div>
<div class="t" style="left:2190px;top:2437px;width:186px"><i>解锁</i>(US)</div>
<div class="t" style="left:2376px;top:2437px;width:215px"><i>解锁</i>(US)</div>
<div class="t" style="left:2591px;top:2437px;width:204px">322.34MB</div>
<div class="t" style="left:2795px;top:2437px;width:204px">443.54MB</div>
<div class="t" style="left:3177px;top:2437px;width:196px">FullCone</div>
<div class="b" style="left:882px;top:2494px;width:166px;height:60px;background:#FFFFFF"></div>
<div class="b" style="left:882px;top:2496px;width:166px;height:56px;background:#34D865"></div>
<div class="b" style="left:1050px;top:2494px;width:213px;height:60px;background:#FFFFFF"></div>
<div class="b" style="left:1050px;top:2496px;width:213px;height:56px;background:#CD6519"></div>
<div class="b" style="left:1265px;top:2496px;width:302px;height:56px;background:#FCD596"></div>
<div class="b" style="left:1569px;top:2496px;width:248px;height:56px;background:#EFEEED"></div>
<div class="b" style="left:1819px;top:2494px;width:184px;height:60px;background:#FFFFFF"></div>
<div class="b" style="left:1819px;top:2496px;width:184px;height:56px;background:#EF6A72"></div>
<div class="b" style="left:2005px;top:2494px;width:184px;height:60px;background:#FFFFFF"></div>
<div class="b" style="left:2005px;top:2496px;width:184px;height:56px;background:#EF6A72"></div>
<div class="b" style="left:2191px;top:2496px;width:184px;height:56px;background:#B8E67F"></div>
<div class="b" style="left:2377px;top:2496px;width:213px;height:56px;background:#FCD596"></div>
<div class="b" style="left:2592px;top:2494px;width:202px;height:60px;background:#FFFFFF"></div>
<div class="b" style="left:2592px;top:2496px;width:202px;height:56px;background:#F93E6D"></div>
<div class="b" style="left:2796px;top:2494px;width:202px;height:60px;background:#FFFFFF"></div>
<div class="b" style="left:2796px;top:2496px;width:202px;height:56px;background:#FD2177"></div>
<div class="b" style="left:3000px;top:2551px;width:25px;height:1px;background:#BBDDEE"></div>
<div class="b" style="left:3025px;top:2531px;width:25px;height:21px;background:#C89AE8"></div>
<div class="b" style="left:3050px;top:2500px;width:25px;height:52px;background:#FD2177"></div>
<div class="b" style="left:3075px;top:2498px;width:26px;height:54px;background:#FD2177"></div>
<div class="b" style="left:3101px;top:2502px;width:25px;height:50px;background:#FD2177"></div>
<div class="b" style="left:3126px;top:2496px;width:25px;height:56px;background:#FD2177"></div>
<div class="b" style="left:3151px;top:2502px;width:25px;height:50px;background:#FD2177"></div>
<div class="t" style="left:2px;top:2495px;width:109px">42</div>
<div class="fl" style="left:136px;top:2514px"><svg width="28" height="20" viewBox="0 0 36 26" preserveAspectRatio="none"><rect width="36" height="26" fill="#EEEEEE"/><rect width="12" height="26" fill="#002495"/><rect x="24" width="12" height="26" fill="#ED2939"/></svg></div>
<div class="t l" style="left:181px;top:2495px"><i>法国</i> 01</div>
<div class="t" style="left:619px;top:2495px;width:262px">Shadowsocks</div>
<div class="t" style="left:881px;top:2495px;width:168px">303ms</div>
<div class="t" style="left:1049px;top:2495px;width:215px">1206ms</div>
<div class="t" style="left:1264px;top:2495px;width:304px"><i>商宽</i>/<i>机房</i>IP|VPN</div>
<div class="t" style="left:1568px;top:2495px;width:250px">LOW(14)</div>
<div class="t" style="left:1818px;top:2495px;width:186px"><i>失败</i></div>
<div class="t" style="left:2004px;top:2495px;width:186px"><i>失败</i></div>
<div class="t" style="left:2190px;top:2495px;width:186px"><i>解锁</i>(FR)</div>
<div class="t" style="left:2376px;top:2495px;width:215px"><i>仅网页</i>(FR)</div>
<div class="t" style="left:2591px;top:2495px;width:204px">40.51MB</div>
<div class="t" style="left:2795px;top:2495px;width:204px">55.34MB</div>
<div class="t" style="left:3177px;top:2495px;width:196px;transform:scaleX(1.0589)">Unknown</div>
<div class="b" style="left:882px;top:2552px;width:166px;height:60px;background:#FFFFFF"></div>
<div class="b" style="left:882px;top:2554px;width:166px;height:56px;background:#28E16B"></div>
<div class="b" style="left:1050px;top:2552px;width:213px;height:60px;background:#FFFFFF"></div>
<div class="b" style="left:1050px;top:2554px;width:213px;height:56px;background:#78A543"></div>
<div class="b" style="left:1265px;top:2554px;width:302px;height:56px;background:#B8E67F"></div>
<div class="b" style="left:1569px;top:2554px;width:248px;height:56px;background:#EFEEED"></div>
<div class="b" style="left:1819px;top:2554px;width:184px;height:56px;background:#B8E67F"></div>
<div class="b" style="left:2005px;top:2554px;width:184px;height:56px;background:#B8E67F"></div>
<div class="b" style="left:2191px;top:2554px;width:184px;height:56px;background:#B8E67F"></div>
<div class="b" style="left:2377px;top:2554px;width:213px;height:56px;background:#B8E67F"></div>
<div class="b" style="left:2592px;top:2552px;width:202px;height:60px;background:#FFFFFF"></div>
<div class="b" style="left:2592px;top:2554px;width:202px;height:56px;background:#FD2177"></div>
<div class="b" style="left:2796px;top:2552px;width:202px;height:60px;background:#FFFFFF"></div>
<div class="b" style="left:2796px;top:2554px;width:202px;height:56px;background:#FD2177"></div>
<div class="b" style="left:3000px;top:2606px;width:25px;height:4px;background:#E8606E"></div>
<div class="b" style="left:3025px;top:2590px;width:25px;height:20px;background:#FD2177"></div>
<div class="b" style="left:3050px;top:2554px;width:25px;height:56px;background:#FD2177"></div>
<div class="b" style="left:3075px;top:2573px;width:26px;height:37px;background:#FD2177"></div>
<div class="b" style="left:3101px;top:2585px;width:25px;height:25px;background:#FD2177"></div>
<div class="b" style="left:3126px;top:2595px;width:25px;height:15px;background:#FD2177"></div>
<div class="b" style="left:3151px;top:2609px;width:25px;height:1px;background:#AABBEE"></div>
<div class="t" style="left:2px;top:2553px;width:109px">43</div>
<div class="fl" style="left:136px;top:2572px"><svg width="28" height="20" viewBox="0 0 36 26" preserveAspectRatio="none"><rect width="36" height="26" fill="#EEEEEE"/><rect width="12" height="26" fill="#002495"/><rect x="24" width="12" height="26" fill="#ED2939"/></svg></div>
<div class="t l" style="left:181px;top:2553px"><i>法国</i> 02</div>
<div class="t" style="left:619px;top:2553px;width:262px">Trojan</div>
<div class="t" style="left:881px;top:2553px;width:168px">233ms</div>
<div class="t" style="left:1049px;top:2553px;width:215px">703ms</div>
<div class="t" style="left:1264px;top:2553px;width:304px"><i>家宽</i>IP</div>
<div class="t" style="left:1568px;top:2553px;width:250px">LOW(19)</div>
<div class="t" style="left:1818px;top:2553px;width:186px"><i>解锁</i>(US)</div>
<div class="t" style="left:2004px;top:2553px;width:186px"><i>解锁</i>(US)</div>
<div class="t" style="left:2190px;top:2553px;width:186px"><i>解锁</i>(US)</div>
<div class="t" style="left:2376px;top:2553px;width:215px"><i>解锁</i>(US)</div>
<div class="t" style="left:2591px;top:2553px;width:204px">139.98MB</div>
<div class="t" style="left:2795px;top:2553px;width:204px">342.58MB</div>
<div class="t" style="left:3177px;top:2553px;width:196px">FullCone</div>
<div class="b" style="left:882px;top:2610px;width:166px;height:60px;background:#FFFFFF"></div>
<div class="b" style="left:882px;top:2612px;width:166px;height:56px;background:#4FC458"></div>
<div class="b" style="left:1050px;top:2610px;width:213px;height:60px;background:#FFFFFF"></div>
<div class="b" style="left:1050px;top:2612px;width:213px;height:56px;background:#F04A07"></div>
<div class="b" style="left:1265px;top:2612px;width:302px;height:56px;background:#FCD596"></div>
<div class="b" style="left:1569px;top:2612px;width:248px;height:56px;background:#EFEEED"></div>
<div class="b" style="left:1819px;top:2610px;width:184px;height:60px;background:#FFFFFF"></div>
<div class="b" style="left:1819px;top:2612px;width:184px;height:56px;background:#EF6A72"></div>
<div class="b" style="left:2005px;top:2610px;width:184px;height:60px;background:#FFFFFF"></div>
<div class="b" style="left:2005px;top:2612px;width:184px;height:56px;background:#EF6A72"></div>
<div class="b" style="left:2191px;top:2612px;width:184px;height:56px;background:#B8E67F"></div>
<div class="b" style="left:2377px;top:2612px;width:213px;height:56px;background:#FCD596"></div>
<div class="b" style="left:2592px;top:2610px;width:202px;height:60px;background:#FFFFFF"></div>
<div class="b" style="left:2592px;top:2612px;width:202px;height:56px;background:#FD2177"></div>
<div class="b" style="left:2796px;top:2610px;width:202px;height:60px;background:#FFFFFF"></div>
<div class="b" style="left:2796px;top:2612px;width:202px;height:56px;background:#FD2177"></div>
<div class="b" style="left:3025px;top:2662px;width:25px;height:6px;background:#C0A0FF"></div>
<div class="b" style="left:3050px;top:2627px;width:25px;height:41px;background:#FD2177"></div>
<div class="b" style="left:3075px;top:2612px;width:26px;height:56px;background:#FD2177"></div>
<div class="b" style="left:3101px;top:2645px;width:25px;height:23px;background:#FD2177"></div>
<div class="b" style="left:3126px;top:2653px;width:25px;height:15px;background:#FF3F6A"></div>
<div class="b" style="left:3151px;top:2657px;width:25px;height:11px;background:#FF5A66"></div>
<div class="t" style="left:2px;top:2611px;width:109px">44</div>
<div class="fl" style="left:136px;top:2630px"><svg width="28" height="20" viewBox="0 0 36 26" preserveAspectRatio="none"><rect width="36" height="26" fill="#EEEEEE"/><rect width="12" height="26" fill="#009246"/><rect x="24" width="12" height="26" fill="#CE2B37"/></svg></div>
<div class="t l" style="left:181px;top:2611px"><i>意大利</i> 01 - A</div>
<div class="t" style="left:619px;top:2611px;width:262px">Shadowsocks</div>
<div class="t" style="left:881px;top:2611px;width:168px">462ms</div>
<div class="t" style="left:1049px;top:2611px;width:215px">1413ms</div>
<div class="t" style="left:1264px;top:2611px;width:304px"><i>商宽</i>/<i>机房</i>IP</div>
<div class="t" style="left:1568px;top:2611px;width:250px">MEDIUM(39)</div>
<div class="t" style="left:1818px;top:2611px;width:186px"><i>失败</i></div>
<div class="t" style="left:2004px;top:2611px;width:186px"><i>失败</i></div>
<div class="t" style="left:2190px;top:2611px;width:186px"><i>解锁</i>(IT)</div>
<div class="t" style="left:2376px;top:2611px;width:215px"><i>仅网页</i>(IT)</div>
<div class="t" style="left:2591px;top:2611px;width:204px">60.35MB</div>
<div class="t" style="left:2795px;top:2611px;width:204px">153.10MB</div>
<div class="t" style="left:3177px;top:2611px;width:196px">FullCone</div>
<div class="b" style="left:882px;top:2668px;width:166px;height:60px;background:#FFFFFF"></div>
<div class="b" style="left:882px;top:2670px;width:166px;height:56px;background:#2BDF6A"></div>
<div class="b" style="left:1050px;top:2668px;width:213px;height:60px;background:#FFFFFF"></div>
<div class="b" style="left:1050px;top:2670px;width:213px;height:56px;background:#859B3D"></div>
<div class="b" style="left:1265px;top:2670px;width:302px;height:56px;background:#FCD596"></div>
<div class="b" style="left:1569px;top:2670px;width:248px;height:56px;background:#EFEEED"></div>
<div class="b" style="left:1819px;top:2670px;width:184px;height:56px;background:#B8E67F"></div>
<div class="b" style="left:2005px;top:2670px;width:184px;height:56px;background:#B8E67F"></div>
<div class="b" style="left:2191px;top:2670px;width:184px;height:56px;background:#B8E67F"></div>
<div class="b" style="left:2377px;top:2670px;width:213px;height:56px;background:#B8E67F"></div>
<div class="b" style="left:2592px;top:2668px;width:202px;height:60px;background:#FFFFFF"></div>
<div class="b" style="left:2592px;top:2670px;width:202px;height:56px;background:#FD2177"></div>
<div class="b" style="left:2796px;top:2668px;width:202px;height:60px;background:#FFFFFF"></div>
<div class="b" style="left:2796px;top:2670px;width:202px;height:56px;background:#FD2177"></div>
<div class="b" style="left:3025px;top:2720px;width:25px;height:6px;background:#FF5566"></div>
<div class="b" style="left:3050px;top:2685px;width:25px;height:41px;background:#FD2177"></div>
<div class="b" style="left:3075px;top:2681px;width:26px;height:45px;background:#FD2177"></div>
<div class="b" style="left:3101px;top:2706px;width:25px;height:20px;background:#FD2177"></div>
<div class="b" style="left:3126px;top:2671px;width:25px;height:55px;background:#FD2177"></div>
<div class="b" style="left:3151px;top:2670px;width:25px;height:56px;background:#FD2177"></div>
<div class="t" style="left:2px;top:2669px;width:109px">45</div>
<div class="fl" style="left:136px;top:2688px"><svg width="28" height="20" viewBox="0 0 36 26" preserveAspectRatio="none"><rect width="36" height="26" fill="#00247D"/><path d="M0 0L36 26M36 0L0 26" stroke="#fff" stroke-width="5"/><path d="M0 0L36 26M36 0L0 26" stroke="#CF1B2B" stroke-width="2"/><path d="M18 0V26M0 13H36" stroke="#fff" stroke-width="8"/><path d="M18 0V26M0 13H36" stroke="#CF1B2B" stroke-width="4.4"/></svg></div>
<div class="t l" style="left:181px;top:2669px"><i>英国</i> 01</div>
<div class="t" style="left:619px;top:2669px;width:262px">Shadowsocks</div>
<div class="t" style="left:881px;top:2669px;width:168px">253ms</div>
<div class="t" style="left:1049px;top:2669px;width:215px">782ms</div>
<div class="t" style="left:1264px;top:2669px;width:304px"><i>商宽</i>/<i>机房</i>IP</div>
<div class="t" style="left:1568px;top:2669px;width:250px">MEDIUM(35)</div>
<div class="t" style="left:1818px;top:2669px;width:186px"><i>解锁</i>(GB)</div>
<div class="t" style="left:2004px;top:2669px;width:186px"><i>解锁</i>(GB)</div>
<div class="t" style="left:2190px;top:2669px;width:186px"><i>解锁</i>(GB)</div>
<div class="t" style="left:2376px;top:2669px;width:215px"><i>解锁</i>(GB)</div>
<div class="t" style="left:2591px;top:2669px;width:204px">183.97MB</div>
<div class="t" style="left:2795px;top:2669px;width:204px">319.70MB</div>
<div class="t" style="left:3177px;top:2669px;width:196px">FullCone</div>
<div class="b" style="left:882px;top:2726px;width:166px;height:60px;background:#FFFFFF"></div>
<div class="b" style="left:882px;top:2728px;width:166px;height:56px;background:#2CDE69"></div>
<div class="b" style="left:1050px;top:2726px;width:213px;height:60px;background:#FFFFFF"></div>
<div class="b" style="left:1050px;top:2728px;width:213px;height:56px;background:#88993B"></div>
<div class="b" style="left:1265px;top:2728px;width:302px;height:56px;background:#FCD596"></div>
<div class="b" style="left:1569px;top:2728px;width:248px;height:56px;background:#EFEEED"></div>
<div class="b" style="left:1819px;top:2728px;width:184px;height:56px;background:#B8E67F"></div>
<div class="b" style="left:2005px;top:2728px;width:184px;height:56px;background:#B8E67F"></div>
<div class="b" style="left:2191px;top:2728px;width:184px;height:56px;background:#B8E67F"></div>
<div class="b" style="left:2377px;top:2728px;width:213px;height:56px;background:#B8E67F"></div>
<div class="b" style="left:2592px;top:2726px;width:202px;height:60px;background:#FFFFFF"></div>
<div class="b" style="left:2592px;top:2728px;width:202px;height:56px;background:#FD2177"></div>
<div class="b" style="left:2796px;top:2726px;width:202px;height:60px;background:#FFFFFF"></div>
<div class="b" style="left:2796px;top:2728px;width:202px;height:56px;background:#FD2177"></div>
<div class="b" style="left:3025px;top:2782px;width:25px;height:2px;background:#B8A8FF"></div>
<div class="b" style="left:3050px;top:2767px;width:25px;height:17px;background:#FD2177"></div>
<div class="b" style="left:3075px;top:2733px;width:26px;height:51px;background:#FD2177"></div>
<div class="b" style="left:3101px;top:2745px;width:25px;height:39px;background:#FD2177"></div>
<div class="b" style="left:3126px;top:2728px;width:25px;height:56px;background:#FD2177"></div>
<div class="b" style="left:3151px;top:2746px;width:25px;height:38px;background:#FD2177"></div>
<div class="t" style="left:2px;top:2727px;width:109px">46</div>
<div class="fl" style="left:136px;top:2746px"><svg width="28" height="20" viewBox="0 0 36 26" preserveAspectRatio="none"><rect width="36" height="26" fill="#00247D"/><path d="M0 0L36 26M36 0L0 26" stroke="#fff" stroke-width="5"/><path d="M0 0L36 26M36 0L0 26" stroke="#CF1B2B" stroke-width="2"/><path d="M18 0V26M0 13H36" stroke="#fff" stroke-width="8"/><path d="M18 0V26M0 13H36" stroke="#CF1B2B" stroke-width="4.4"/></svg></div>
<div class="t l" style="left:181px;top:2727px"><i>英国</i> 02</div>
<div class="t" style="left:619px;top:2727px;width:262px">Shadowsocks</div>
<div class="t" style="left:881px;top:2727px;width:168px">260ms</div>
<div class="t" style="left:1049px;top:2727px;width:215px">798ms</div>
<div class="t" style="left:1264px;top:2727px;width:304px"><i>商宽</i>/<i>机房</i>IP|VPN</div>
<div class="t" style="left:1568px;top:2727px;width:250px">MEDIUM(35)</div>
<div class="t" style="left:1818px;top:2727px;width:186px"><i>解锁</i>(GB)</div>
<div class="t" style="left:2004px;top:2727px;width:186px"><i>解锁</i>(GB)</div>
<div class="t" style="left:2190px;top:2727px;width:186px"><i>解锁</i>(GB)</div>
<div class="t" style="left:2376px;top:2727px;width:215px"><i>解锁</i>(GB)</div>
<div class="t" style="left:2591px;top:2727px;width:204px">163.71MB</div>
<div class="t" style="left:2795px;top:2727px;width:204px">314.22MB</div>
<div class="t" style="left:3177px;top:2727px;width:196px">FullCone</div>
<div class="b" style="left:882px;top:2784px;width:166px;height:60px;background:#FFFFFF"></div>
<div class="b" style="left:882px;top:2786px;width:166px;height:56px;background:#24E46D"></div>
<div class="b" style="left:1050px;top:2784px;width:213px;height:60px;background:#FFFFFF"></div>
<div class="b" style="left:1050px;top:2786px;width:213px;height:56px;background:#968E34"></div>
<div class="b" style="left:1265px;top:2786px;width:302px;height:56px;background:#FCD596"></div>
<div class="b" style="left:1569px;top:2786px;width:248px;height:56px;background:#EFEEED"></div>
<div class="b" style="left:1819px;top:2784px;width:184px;height:60px;background:#FFFFFF"></div>
<div class="b" style="left:1819px;top:2786px;width:184px;height:56px;background:#EF6A72"></div>
<div class="b" style="left:2005px;top:2786px;width:184px;height:56px;background:#B8E67F"></div>
<div class="b" style="left:2191px;top:2786px;width:184px;height:56px;background:#B8E67F"></div>
<div class="b" style="left:2377px;top:2786px;width:213px;height:56px;background:#B8E67F"></div>
<div class="b" style="left:2592px;top:2784px;width:202px;height:60px;background:#FFFFFF"></div>
<div class="b" style="left:2592px;top:2786px;width:202px;height:56px;background:#FD2177"></div>
<div class="b" style="left:2796px;top:2784px;width:202px;height:60px;background:#FFFFFF"></div>
<div class="b" style="left:2796px;top:2786px;width:202px;height:56px;background:#FD2177"></div>
<div class="b" style="left:3025px;top:2834px;width:25px;height:8px;background:#FF5A6A"></div>
<div class="b" style="left:3050px;top:2817px;width:25px;height:25px;background:#FD2177"></div>
<div class="b" style="left:3075px;top:2796px;width:26px;height:46px;background:#FD2177"></div>
<div class="b" style="left:3101px;top:2802px;width:25px;height:40px;background:#FD2177"></div>
<div class="b" style="left:3126px;top:2786px;width:25px;height:56px;background:#FD2177"></div>
<div class="b" style="left:3151px;top:2806px;width:25px;height:36px;background:#FD2177"></div>
<div class="t" style="left:2px;top:2785px;width:109px">47</div>
<div class="fl" style="left:136px;top:2804px"><svg width="28" height="20" viewBox="0 0 36 26" preserveAspectRatio="none"><rect width="36" height="26" fill="#FFCD05"/><rect width="36" height="17.3" fill="#ED1F24"/><rect width="36" height="8.7" fill="#141414"/></svg></div>
<div class="t l" style="left:181px;top:2785px"><i>德国</i> 01</div>
<div class="t" style="left:619px;top:2785px;width:262px">Shadowsocks</div>
<div class="t" style="left:881px;top:2785px;width:168px">214ms</div>
<div class="t" style="left:1049px;top:2785px;width:215px">885ms</div>
<div class="t" style="left:1264px;top:2785px;width:304px"><i>商宽</i>/<i>机房</i>IP</div>
<div class="t" style="left:1568px;top:2785px;width:250px">MEDIUM(38)</div>
<div class="t" style="left:1818px;top:2785px;width:186px"><i>失败</i></div>
<div class="t" style="left:2004px;top:2785px;width:186px"><i>解锁</i>(GB)</div>
<div class="t" style="left:2190px;top:2785px;width:186px"><i>解锁</i>(DE)</div>
<div class="t" style="left:2376px;top:2785px;width:215px"><i>解锁</i>(GB)</div>
<div class="t" style="left:2591px;top:2785px;width:204px">109.71MB</div>
<div class="t" style="left:2795px;top:2785px;width:204px">202.94MB</div>
<div class="t" style="left:3177px;top:2785px;width:196px">FullCone</div>
<div class="b" style="left:882px;top:2842px;width:166px;height:58px;background:#FFFFFF"></div>
<div class="b" style="left:882px;top:2844px;width:166px;height:56px;background:#25E36D"></div>
<div class="b" style="left:1050px;top:2842px;width:213px;height:58px;background:#FFFFFF"></div>
<div class="b" style="left:1050px;top:2844px;width:213px;height:56px;background:#9F8730"></div>
<div class="b" style="left:1265px;top:2844px;width:302px;height:56px;background:#FCD596"></div>
<div class="b" style="left:1569px;top:2844px;width:248px;height:56px;background:#EFEEED"></div>
<div class="b" style="left:1819px;top:2844px;width:184px;height:56px;background:#B8E67F"></div>
<div class="b" style="left:2005px;top:2844px;width:184px;height:56px;background:#B8E67F"></div>
<div class="b" style="left:2191px;top:2844px;width:184px;height:56px;background:#B8E67F"></div>
<div class="b" style="left:2377px;top:2844px;width:213px;height:56px;background:#B8E67F"></div>
<div class="b" style="left:2592px;top:2842px;width:202px;height:58px;background:#FFFFFF"></div>
<div class="b" style="left:2592px;top:2844px;width:202px;height:56px;background:#FD2177"></div>
<div class="b" style="left:2796px;top:2842px;width:202px;height:58px;background:#FFFFFF"></div>
<div class="b" style="left:2796px;top:2844px;width:202px;height:56px;background:#FD2177"></div>
<div class="b" style="left:3025px;top:2891px;width:25px;height:9px;background:#D585BB"></div>
<div class="b" style="left:3050px;top:2865px;width:25px;height:35px;background:#FD2177"></div>
<div class="b" style="left:3075px;top:2857px;width:26px;height:43px;background:#FD2177"></div>
<div class="b" style="left:3101px;top:2851px;width:25px;height:49px;background:#FD2177"></div>
<div class="b" style="left:3126px;top:2844px;width:25px;height:56px;background:#FD2177"></div>
<div class="b" style="left:3151px;top:2855px;width:25px;height:45px;background:#FD2177"></div>
<div class="t" style="left:2px;top:2843px;width:109px">48</div>
<div class="fl" style="left:136px;top:2862px"><svg width="28" height="20" viewBox="0 0 36 26" preserveAspectRatio="none"><rect width="36" height="26" fill="#FFCD05"/><rect width="36" height="17.3" fill="#ED1F24"/><rect width="36" height="8.7" fill="#141414"/></svg></div>
<div class="t l" style="left:181px;top:2843px"><i>德国</i> 02</div>
<div class="t" style="left:619px;top:2843px;width:262px">Shadowsocks</div>
<div class="t" style="left:881px;top:2843px;width:168px">217ms</div>
<div class="t" style="left:1049px;top:2843px;width:215px">936ms</div>
<div class="t" style="left:1264px;top:2843px;width:304px"><i>商宽</i>/<i>机房</i>IP</div>
<div class="t" style="left:1568px;top:2843px;width:250px">MEDIUM(35)</div>
<div class="t" style="left:1818px;top:2843px;width:186px"><i>解锁</i>(GB)</div>
<div class="t" style="left:2004px;top:2843px;width:186px"><i>解锁</i>(GB)</div>
<div class="t" style="left:2190px;top:2843px;width:186px"><i>解锁</i>(DE)</div>
<div class="t" style="left:2376px;top:2843px;width:215px"><i>解锁</i>(GB)</div>
<div class="t" style="left:2591px;top:2843px;width:204px">93.93MB</div>
<div class="t" style="left:2795px;top:2843px;width:204px">155.08MB</div>
<div class="t" style="left:3177px;top:2843px;width:196px">FullCone</div>
<div class="ck" style="left:26px;top:2916px"><svg width="28" height="28" viewBox="0 0 28 28"><rect width="28" height="28" rx="3.5" fill="#77B255"/><path d="M6.5 15.5l5 5L21.5 7.5" fill="none" stroke="#fff" stroke-width="3.6" stroke-linecap="round" stroke-linejoin="round"/></svg></div>
<div class="t l" style="left:71px;top:2901px;transform:scaleX(0.9689);transform-origin:0 0"><i>已核实</i> TLS <i>证书。</i>TLS RTT <i>为单次数据交换延迟，</i> HTTPS Ping <i>为单次请求体感延迟。</i></div>
<div class="t l" style="left:19px;top:2959px;transform:scaleX(1.0068);transform-origin:0 0"><i>主端</i>=4.3.3 (697) <i>喵速</i>=4.5.1 (<i>广东联通</i>@2Gbps), <i>线程</i>=6 <i>概要</i>=48/48 <i>排序</i>=<i>订阅原序</i> <i>过滤器</i>=</div>
<div class="t l" style="left:19px;top:3017px;transform:scaleX(0.9888);transform-origin:0 0"><i>测试时间</i><i class="j">：</i>2024-09-10 22:44:51 (CST)<i>，本测试为试验性结果，仅供参考。</i></div>
<div class="wm" style="left:1493px;top:141.3px">MiaoKo+</div>
<div class="wm" style="left:1493px;top:452.1px">MiaoKo+</div>
<div class="wm" style="left:1493px;top:762.9px">MiaoKo+</div>
<div class="wm" style="left:1493px;top:1073.7px">MiaoKo+</div>
<div class="wm" style="left:1493px;top:1384.5px">MiaoKo+</div>
<div class="wm" style="left:1493px;top:1695.3px">MiaoKo+</div>
<div class="wm" style="left:1493px;top:2006.1px">MiaoKo+</div>
<div class="wm" style="left:1493px;top:2316.9px">MiaoKo+</div>
<div class="wm" style="left:1493px;top:2627.7px">MiaoKo+</div>
<div class="wm" style="left:1493px;top:2938.5px">MiaoKo+</div>
</body></html>
